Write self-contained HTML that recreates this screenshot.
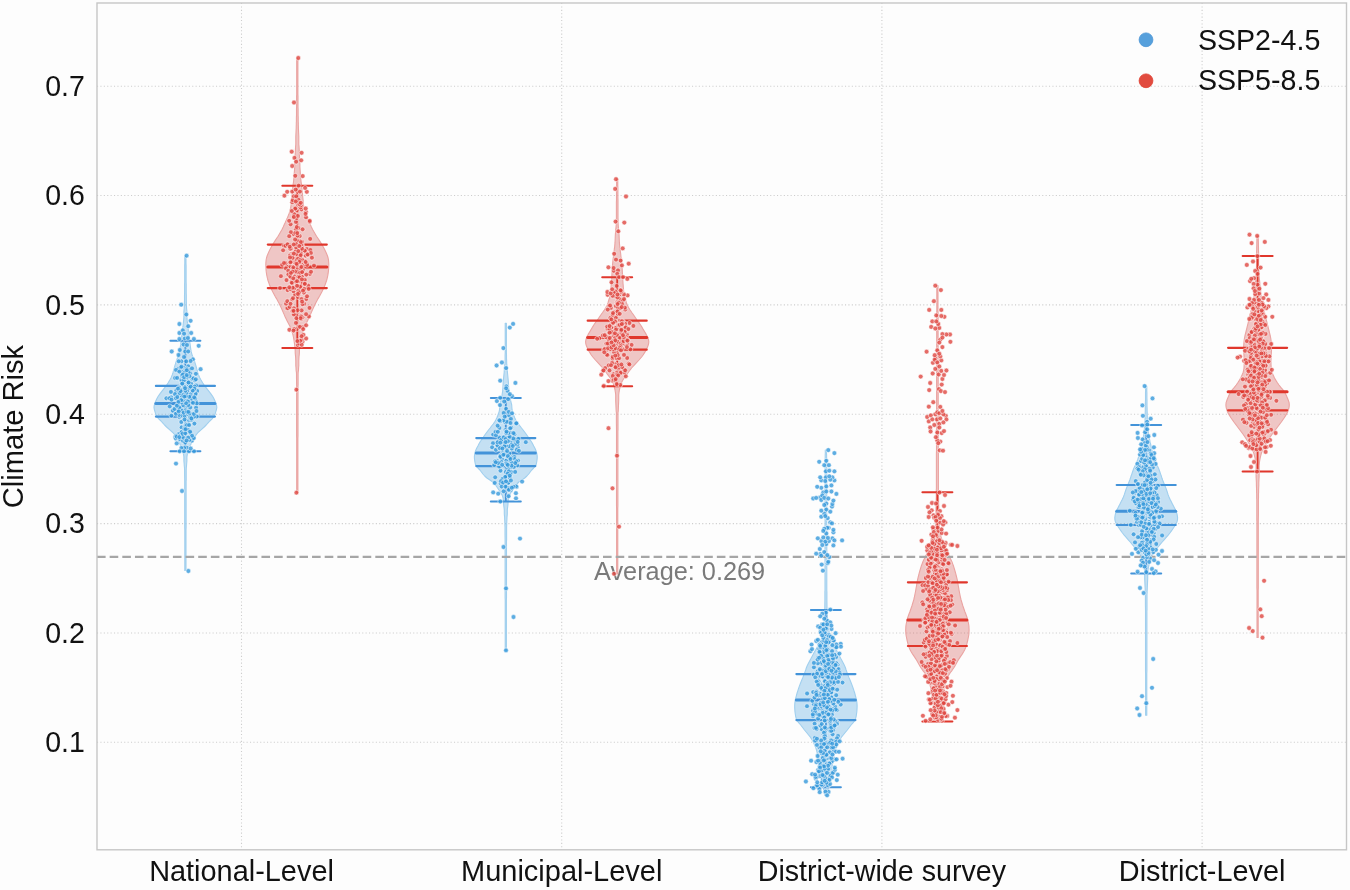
<!DOCTYPE html>
<html><head><meta charset="utf-8"><style>
html,body{margin:0;padding:0;background:#fdfdfd;width:1350px;height:890px;overflow:hidden}
svg{display:block;filter:blur(0.45px)}
</style></head><body>
<svg width="1350" height="890" viewBox="0 0 1350 890"><rect x="0" y="0" width="1350" height="890" fill="#fdfdfd"/><g stroke="#cdcdcd" stroke-width="1.1" stroke-dasharray="1.1 2.3" fill="none"><line x1="97" y1="86.2" x2="1346.5" y2="86.2"/><line x1="97" y1="195.55" x2="1346.5" y2="195.55"/><line x1="97" y1="304.9" x2="1346.5" y2="304.9"/><line x1="97" y1="414.25" x2="1346.5" y2="414.25"/><line x1="97" y1="523.6" x2="1346.5" y2="523.6"/><line x1="97" y1="632.95" x2="1346.5" y2="632.95"/><line x1="97" y1="742.3" x2="1346.5" y2="742.3"/><line x1="241.5" y1="3" x2="241.5" y2="849.8"/><line x1="561.7" y1="3" x2="561.7" y2="849.8"/><line x1="881.9" y1="3" x2="881.9" y2="849.8"/><line x1="1202.1" y1="3" x2="1202.1" y2="849.8"/></g><text x="594" y="580" font-family="Liberation Sans, sans-serif" font-size="25.3" fill="#7a7a7a">Average: 0.269</text><path d="M186.0,256.0 L186.0,257.1 L186.0,258.5 L186.0,260.0 L186.0,261.7 L186.0,263.6 L186.1,265.6 L186.1,267.7 L186.1,270.0 L186.1,272.3 L186.1,274.7 L186.1,277.1 L186.1,279.5 L186.1,281.9 L186.2,284.3 L186.2,286.6 L186.2,288.9 L186.2,291.1 L186.2,293.2 L186.3,295.1 L186.3,296.9 L186.3,298.6 L186.3,300.0 L186.4,303.7 L186.5,306.5 L186.6,308.6 L186.8,310.2 L186.9,311.7 L186.9,313.2 L186.9,315.0 L186.9,317.3 L187.1,319.5 L187.3,321.6 L187.6,323.8 L187.8,325.9 L188.1,328.0 L188.3,330.1 L188.6,332.3 L188.8,334.4 L189.1,336.5 L189.3,338.6 L189.6,340.7 L189.9,342.8 L190.2,345.0 L190.5,347.2 L190.8,349.3 L191.1,351.2 L191.5,353.0 L192.4,355.8 L193.4,358.2 L194.4,360.7 L195.1,363.1 L195.9,365.7 L196.6,368.2 L197.2,370.3 L197.9,372.9 L198.6,375.0 L199.6,377.4 L201.0,380.0 L202.6,382.7 L204.4,385.5 L206.6,388.3 L208.8,391.2 L210.9,393.9 L212.9,396.8 L214.1,399.0 L215.1,401.3 L215.9,403.3 L216.6,405.5 L216.8,407.4 L216.5,409.3 L215.9,411.4 L215.1,414.0 L213.9,416.7 L212.1,418.8 L209.8,421.0 L208.1,422.9 L206.2,425.0 L204.2,427.0 L201.0,429.8 L198.0,432.5 L195.9,435.2 L194.1,438.0 L193.0,440.0 L192.0,442.0 L191.0,444.0 L189.6,446.7 L188.5,449.3 L187.7,452.2 L187.2,455.0 L186.9,456.9 L186.9,459.0 L186.9,460.9 L186.7,463.0 L186.5,466.0 L186.4,467.0 L186.4,467.3 L186.3,467.5 L186.3,468.3 L186.2,470.2 L186.2,473.9 L186.2,480.0 L186.1,481.2 L186.1,482.6 L186.1,484.0 L186.1,485.5 L186.1,487.2 L186.1,488.9 L186.1,490.8 L186.1,492.7 L186.1,494.7 L186.1,496.7 L186.1,498.8 L186.1,501.0 L186.1,503.2 L186.1,505.5 L186.1,507.9 L186.1,510.2 L186.1,512.6 L186.1,515.0 L186.1,517.5 L186.1,519.9 L186.1,522.4 L186.1,524.9 L186.1,527.4 L186.0,529.8 L186.0,532.3 L186.0,534.7 L186.0,537.1 L186.0,539.5 L186.0,541.9 L186.0,544.2 L186.0,546.5 L186.0,548.7 L186.0,550.9 L186.0,553.0 L186.0,555.0 L186.0,557.0 L186.0,558.9 L186.0,560.7 L186.0,562.4 L186.0,564.0 L186.0,565.5 L186.0,566.9 L186.0,568.2 L186.0,569.4 L186.0,570.5 L184.8,570.5 L184.8,569.4 L184.8,568.2 L184.8,566.9 L184.8,565.5 L184.8,564.0 L184.8,562.4 L184.8,560.7 L184.8,558.9 L184.8,557.0 L184.8,555.0 L184.8,553.0 L184.8,550.9 L184.8,548.7 L184.8,546.5 L184.8,544.2 L184.8,541.9 L184.8,539.5 L184.8,537.1 L184.8,534.7 L184.8,532.3 L184.8,529.8 L184.7,527.4 L184.7,524.9 L184.7,522.4 L184.7,519.9 L184.7,517.5 L184.7,515.0 L184.7,512.6 L184.7,510.2 L184.7,507.9 L184.7,505.5 L184.7,503.2 L184.7,501.0 L184.7,498.8 L184.7,496.7 L184.7,494.7 L184.7,492.7 L184.7,490.8 L184.7,488.9 L184.7,487.2 L184.7,485.5 L184.7,484.0 L184.7,482.6 L184.7,481.2 L184.7,480.0 L184.6,473.9 L184.6,470.2 L184.5,468.3 L184.5,467.5 L184.4,467.3 L184.4,467.0 L184.3,466.0 L184.1,463.0 L183.9,460.9 L183.9,459.0 L183.9,456.9 L183.6,455.0 L183.1,452.2 L182.3,449.3 L181.2,446.7 L179.8,444.0 L178.8,442.0 L177.8,440.0 L176.7,438.0 L174.9,435.2 L172.8,432.5 L169.8,429.8 L166.6,427.0 L164.6,425.0 L162.7,422.9 L161.0,421.0 L158.7,418.8 L156.9,416.7 L155.7,414.0 L154.9,411.4 L154.3,409.3 L154.0,407.4 L154.2,405.5 L154.9,403.3 L155.7,401.3 L156.7,399.0 L157.9,396.8 L159.9,393.9 L162.0,391.2 L164.2,388.3 L166.4,385.5 L168.2,382.7 L169.8,380.0 L171.2,377.4 L172.2,375.0 L172.9,372.9 L173.6,370.3 L174.2,368.2 L174.9,365.7 L175.7,363.1 L176.4,360.7 L177.4,358.2 L178.4,355.8 L179.3,353.0 L179.7,351.2 L180.0,349.3 L180.3,347.2 L180.6,345.0 L180.9,342.8 L181.2,340.7 L181.5,338.6 L181.7,336.5 L182.0,334.4 L182.2,332.3 L182.5,330.1 L182.7,328.0 L183.0,325.9 L183.2,323.8 L183.5,321.6 L183.7,319.5 L183.9,317.3 L183.9,315.0 L183.9,313.2 L183.9,311.7 L184.0,310.2 L184.2,308.6 L184.3,306.5 L184.4,303.7 L184.5,300.0 L184.5,298.6 L184.5,296.9 L184.5,295.1 L184.6,293.2 L184.6,291.1 L184.6,288.9 L184.6,286.6 L184.6,284.3 L184.7,281.9 L184.7,279.5 L184.7,277.1 L184.7,274.7 L184.7,272.3 L184.7,270.0 L184.7,267.7 L184.7,265.6 L184.8,263.6 L184.8,261.7 L184.8,260.0 L184.8,258.5 L184.8,257.1 L184.8,256.0 Z" fill="#3498db" fill-opacity="0.28" stroke="#a0cfee" stroke-width="1.1" stroke-linejoin="round"/><path d="M297.9,58.0 L297.9,59.1 L297.9,60.4 L297.9,61.9 L297.9,63.6 L297.9,65.4 L297.9,67.3 L297.9,69.3 L297.9,71.5 L297.9,73.7 L297.9,76.0 L297.9,78.3 L297.9,80.6 L297.9,83.0 L297.9,85.3 L297.9,87.7 L297.9,89.9 L297.9,92.1 L297.9,94.3 L298.0,96.3 L298.0,98.2 L298.0,100.0 L298.0,102.4 L298.0,104.7 L298.0,106.9 L298.1,109.1 L298.1,111.3 L298.1,113.3 L298.1,115.4 L298.2,117.4 L298.2,119.3 L298.2,121.2 L298.3,123.0 L298.3,124.8 L298.4,126.6 L298.4,128.3 L298.5,130.0 L298.6,132.4 L298.7,134.6 L298.8,136.7 L298.8,138.7 L298.8,140.6 L298.8,142.5 L298.8,144.3 L299.0,146.2 L299.1,148.0 L299.2,150.0 L299.3,152.0 L299.4,154.2 L299.5,156.3 L299.6,158.5 L299.7,160.6 L299.8,162.7 L299.9,164.7 L299.9,166.6 L300.0,168.4 L300.1,170.0 L300.3,172.6 L300.4,174.7 L300.6,176.5 L300.7,178.2 L300.9,180.0 L301.1,182.0 L301.4,184.0 L301.6,186.0 L301.9,188.0 L302.1,190.0 L302.3,192.0 L302.5,194.1 L302.7,196.2 L302.9,198.2 L303.1,200.0 L303.3,202.6 L303.5,204.8 L303.8,207.0 L304.3,209.2 L304.8,211.4 L305.5,213.5 L306.3,215.6 L307.2,217.8 L308.2,220.0 L309.2,222.3 L310.3,224.6 L311.4,227.0 L312.6,229.4 L313.9,231.7 L315.2,234.0 L316.5,236.2 L317.9,238.3 L319.3,240.4 L320.7,242.6 L322.0,244.8 L323.3,247.0 L324.5,249.3 L325.7,251.7 L326.7,254.0 L327.5,256.0 L328.1,258.0 L328.5,260.0 L328.7,262.2 L328.8,264.5 L328.7,267.0 L328.6,269.1 L328.4,271.4 L328.1,273.7 L327.7,276.0 L327.2,278.2 L326.6,280.5 L325.8,282.8 L325.0,285.0 L324.1,287.2 L323.0,289.5 L321.9,291.8 L320.7,294.0 L319.5,296.3 L318.1,298.6 L316.8,300.9 L315.7,303.0 L314.5,305.4 L313.5,307.6 L312.4,310.0 L311.5,312.1 L310.5,314.4 L309.5,316.7 L308.4,319.0 L307.3,321.2 L306.1,323.5 L304.9,325.8 L303.9,328.0 L303.1,330.2 L302.4,332.4 L301.7,334.7 L301.2,337.0 L300.8,339.0 L300.5,341.0 L300.2,343.1 L299.9,345.1 L299.7,347.0 L299.5,349.0 L299.4,350.7 L299.4,352.6 L299.2,355.0 L299.0,356.8 L298.9,358.8 L298.8,360.9 L298.8,363.2 L298.8,365.5 L298.6,367.8 L298.5,370.0 L298.4,371.3 L298.3,371.6 L298.2,371.6 L298.2,372.1 L298.1,374.0 L298.1,378.0 L298.1,385.0 L298.0,386.2 L298.0,387.5 L298.0,388.9 L298.0,390.4 L298.0,392.0 L298.0,393.7 L298.0,395.4 L298.0,397.3 L298.0,399.2 L298.0,401.1 L298.0,403.1 L298.0,405.2 L298.0,407.4 L298.0,409.6 L298.0,411.8 L298.0,414.1 L298.0,416.4 L298.0,418.8 L298.0,421.2 L298.0,423.6 L298.0,426.1 L298.0,428.6 L298.0,431.0 L298.0,433.5 L298.0,436.0 L297.9,438.5 L297.9,441.0 L297.9,443.5 L297.9,446.0 L297.9,448.5 L297.9,451.0 L297.9,453.4 L297.9,455.8 L297.9,458.2 L297.9,460.6 L297.9,462.9 L297.9,465.2 L297.9,467.4 L297.9,469.6 L297.9,471.7 L297.9,473.8 L297.9,475.8 L297.9,477.7 L297.9,479.6 L297.9,481.4 L297.9,483.1 L297.9,484.8 L297.9,486.3 L297.9,487.8 L297.9,489.2 L297.9,490.5 L297.9,491.6 L297.9,492.7 L296.7,492.7 L296.7,491.6 L296.7,490.5 L296.7,489.2 L296.7,487.8 L296.7,486.3 L296.7,484.8 L296.7,483.1 L296.7,481.4 L296.7,479.6 L296.7,477.7 L296.7,475.8 L296.7,473.8 L296.7,471.7 L296.7,469.6 L296.7,467.4 L296.7,465.2 L296.7,462.9 L296.7,460.6 L296.7,458.2 L296.7,455.8 L296.7,453.4 L296.7,451.0 L296.7,448.5 L296.7,446.0 L296.7,443.5 L296.7,441.0 L296.7,438.5 L296.6,436.0 L296.6,433.5 L296.6,431.0 L296.6,428.6 L296.6,426.1 L296.6,423.6 L296.6,421.2 L296.6,418.8 L296.6,416.4 L296.6,414.1 L296.6,411.8 L296.6,409.6 L296.6,407.4 L296.6,405.2 L296.6,403.1 L296.6,401.1 L296.6,399.2 L296.6,397.3 L296.6,395.4 L296.6,393.7 L296.6,392.0 L296.6,390.4 L296.6,388.9 L296.6,387.5 L296.6,386.2 L296.6,385.0 L296.5,378.0 L296.5,374.0 L296.4,372.1 L296.4,371.6 L296.3,371.6 L296.2,371.3 L296.1,370.0 L296.0,367.8 L295.8,365.5 L295.8,363.2 L295.8,360.9 L295.7,358.8 L295.6,356.8 L295.4,355.0 L295.2,352.6 L295.2,350.7 L295.1,349.0 L294.9,347.0 L294.7,345.1 L294.4,343.1 L294.1,341.0 L293.8,339.0 L293.4,337.0 L292.9,334.7 L292.2,332.4 L291.5,330.2 L290.7,328.0 L289.7,325.8 L288.5,323.5 L287.3,321.2 L286.2,319.0 L285.1,316.7 L284.1,314.4 L283.1,312.1 L282.2,310.0 L281.1,307.6 L280.1,305.4 L278.9,303.0 L277.8,300.9 L276.5,298.6 L275.1,296.3 L273.9,294.0 L272.7,291.8 L271.6,289.5 L270.5,287.2 L269.6,285.0 L268.8,282.8 L268.0,280.5 L267.4,278.2 L266.9,276.0 L266.5,273.7 L266.2,271.4 L266.0,269.1 L265.9,267.0 L265.8,264.5 L265.9,262.2 L266.1,260.0 L266.5,258.0 L267.1,256.0 L267.9,254.0 L268.9,251.7 L270.1,249.3 L271.3,247.0 L272.6,244.8 L273.9,242.6 L275.3,240.4 L276.7,238.3 L278.1,236.2 L279.4,234.0 L280.7,231.7 L282.0,229.4 L283.2,227.0 L284.3,224.6 L285.4,222.3 L286.4,220.0 L287.4,217.8 L288.3,215.6 L289.1,213.5 L289.8,211.4 L290.3,209.2 L290.8,207.0 L291.1,204.8 L291.3,202.6 L291.5,200.0 L291.7,198.2 L291.9,196.2 L292.1,194.1 L292.3,192.0 L292.5,190.0 L292.7,188.0 L293.0,186.0 L293.2,184.0 L293.5,182.0 L293.7,180.0 L293.9,178.2 L294.0,176.5 L294.2,174.7 L294.3,172.6 L294.5,170.0 L294.6,168.4 L294.7,166.6 L294.7,164.7 L294.8,162.7 L294.9,160.6 L295.0,158.5 L295.1,156.3 L295.2,154.2 L295.3,152.0 L295.4,150.0 L295.5,148.0 L295.6,146.2 L295.8,144.3 L295.8,142.5 L295.8,140.6 L295.8,138.7 L295.8,136.7 L295.9,134.6 L296.0,132.4 L296.1,130.0 L296.2,128.3 L296.2,126.6 L296.3,124.8 L296.3,123.0 L296.4,121.2 L296.4,119.3 L296.4,117.4 L296.5,115.4 L296.5,113.3 L296.5,111.3 L296.5,109.1 L296.6,106.9 L296.6,104.7 L296.6,102.4 L296.6,100.0 L296.6,98.2 L296.6,96.3 L296.7,94.3 L296.7,92.1 L296.7,89.9 L296.7,87.7 L296.7,85.3 L296.7,83.0 L296.7,80.6 L296.7,78.3 L296.7,76.0 L296.7,73.7 L296.7,71.5 L296.7,69.3 L296.7,67.3 L296.7,65.4 L296.7,63.6 L296.7,61.9 L296.7,60.4 L296.7,59.1 L296.7,58.0 Z" fill="#ce3835" fill-opacity="0.28" stroke="#eaa4a2" stroke-width="1.1" stroke-linejoin="round"/><path d="M506.4,323.2 L506.4,324.4 L506.4,325.8 L506.4,327.5 L506.4,329.4 L506.4,331.5 L506.4,333.7 L506.4,336.1 L506.4,338.5 L506.4,341.0 L506.4,343.5 L506.4,345.9 L506.4,348.4 L506.4,350.7 L506.4,352.9 L506.5,355.0 L506.5,356.9 L506.5,358.6 L506.6,360.0 L506.7,363.7 L507.0,365.9 L507.3,367.3 L507.3,368.4 L507.3,370.0 L507.4,372.0 L507.6,374.0 L507.8,376.0 L508.0,378.0 L508.2,380.0 L508.4,382.0 L508.5,384.1 L508.6,386.1 L508.7,388.1 L508.9,390.0 L509.1,392.2 L509.4,394.2 L509.7,396.1 L510.0,398.0 L510.6,400.5 L511.2,402.9 L511.7,405.0 L511.9,407.7 L512.1,410.0 L512.6,412.1 L513.3,414.0 L514.0,416.0 L514.8,418.0 L515.8,420.0 L517.0,422.0 L518.4,424.0 L520.0,426.0 L521.5,428.0 L523.1,430.0 L524.6,432.0 L526.1,434.0 L527.5,436.0 L528.8,438.0 L530.2,440.0 L531.6,442.0 L532.7,444.0 L533.7,446.0 L534.8,448.0 L535.7,450.0 L536.4,452.0 L536.9,454.0 L537.2,456.0 L537.2,458.0 L537.0,460.0 L536.7,462.0 L536.3,464.0 L535.5,466.0 L533.7,468.0 L531.7,470.0 L530.2,472.0 L528.7,474.0 L526.9,476.0 L524.7,478.0 L521.7,480.0 L518.8,482.0 L516.9,484.0 L515.4,486.0 L514.0,488.0 L512.7,490.0 L511.3,492.0 L510.1,494.0 L509.2,495.8 L508.5,498.0 L508.3,499.8 L508.1,501.9 L508.0,504.0 L507.8,506.0 L507.5,508.1 L507.3,509.9 L507.3,512.0 L507.3,513.6 L507.2,515.1 L507.0,517.1 L506.9,520.0 L506.8,521.1 L506.8,521.8 L506.8,522.3 L506.7,522.8 L506.7,523.6 L506.7,524.9 L506.6,527.0 L506.6,530.0 L506.6,534.3 L506.6,540.0 L506.5,541.2 L506.5,542.6 L506.5,544.0 L506.5,545.5 L506.5,547.1 L506.5,548.7 L506.5,550.4 L506.5,552.3 L506.5,554.1 L506.5,556.1 L506.5,558.1 L506.5,560.1 L506.5,562.2 L506.5,564.4 L506.5,566.6 L506.5,568.8 L506.5,571.1 L506.5,573.4 L506.5,575.8 L506.5,578.1 L506.5,580.5 L506.5,583.0 L506.5,585.4 L506.5,587.8 L506.5,590.3 L506.5,592.8 L506.5,595.2 L506.5,597.7 L506.4,600.1 L506.4,602.6 L506.4,605.0 L506.4,607.4 L506.4,609.8 L506.4,612.2 L506.4,614.6 L506.4,616.9 L506.4,619.2 L506.4,621.4 L506.4,623.6 L506.4,625.8 L506.4,627.9 L506.4,630.0 L506.4,632.0 L506.4,633.9 L506.4,635.8 L506.4,637.6 L506.4,639.4 L506.4,641.1 L506.4,642.7 L506.4,644.2 L506.4,645.6 L506.4,646.9 L506.4,648.2 L506.4,649.3 L506.4,650.4 L505.2,650.4 L505.2,649.3 L505.2,648.2 L505.2,646.9 L505.2,645.6 L505.2,644.2 L505.2,642.7 L505.2,641.1 L505.2,639.4 L505.2,637.6 L505.2,635.8 L505.2,633.9 L505.2,632.0 L505.2,630.0 L505.2,627.9 L505.2,625.8 L505.2,623.6 L505.2,621.4 L505.2,619.2 L505.2,616.9 L505.2,614.6 L505.2,612.2 L505.2,609.8 L505.2,607.4 L505.2,605.0 L505.2,602.6 L505.2,600.1 L505.1,597.7 L505.1,595.2 L505.1,592.8 L505.1,590.3 L505.1,587.8 L505.1,585.4 L505.1,583.0 L505.1,580.5 L505.1,578.1 L505.1,575.8 L505.1,573.4 L505.1,571.1 L505.1,568.8 L505.1,566.6 L505.1,564.4 L505.1,562.2 L505.1,560.1 L505.1,558.1 L505.1,556.1 L505.1,554.1 L505.1,552.3 L505.1,550.4 L505.1,548.7 L505.1,547.1 L505.1,545.5 L505.1,544.0 L505.1,542.6 L505.1,541.2 L505.1,540.0 L505.0,534.3 L505.0,530.0 L505.0,527.0 L504.9,524.9 L504.9,523.6 L504.9,522.8 L504.8,522.3 L504.8,521.8 L504.8,521.1 L504.7,520.0 L504.6,517.1 L504.4,515.1 L504.3,513.6 L504.3,512.0 L504.3,509.9 L504.1,508.1 L503.8,506.0 L503.6,504.0 L503.5,501.9 L503.3,499.8 L503.1,498.0 L502.4,495.8 L501.5,494.0 L500.3,492.0 L498.9,490.0 L497.6,488.0 L496.2,486.0 L494.7,484.0 L492.8,482.0 L489.9,480.0 L486.9,478.0 L484.7,476.0 L482.9,474.0 L481.4,472.0 L479.9,470.0 L477.9,468.0 L476.1,466.0 L475.3,464.0 L474.9,462.0 L474.6,460.0 L474.4,458.0 L474.4,456.0 L474.7,454.0 L475.2,452.0 L475.9,450.0 L476.8,448.0 L477.9,446.0 L478.9,444.0 L480.0,442.0 L481.4,440.0 L482.8,438.0 L484.1,436.0 L485.5,434.0 L487.0,432.0 L488.5,430.0 L490.1,428.0 L491.6,426.0 L493.2,424.0 L494.6,422.0 L495.8,420.0 L496.8,418.0 L497.6,416.0 L498.3,414.0 L499.0,412.1 L499.5,410.0 L499.7,407.7 L499.9,405.0 L500.4,402.9 L501.0,400.5 L501.6,398.0 L501.9,396.1 L502.2,394.2 L502.5,392.2 L502.7,390.0 L502.9,388.1 L503.0,386.1 L503.1,384.1 L503.2,382.0 L503.4,380.0 L503.6,378.0 L503.8,376.0 L504.0,374.0 L504.2,372.0 L504.3,370.0 L504.3,368.4 L504.3,367.3 L504.6,365.9 L504.9,363.7 L505.1,360.0 L505.1,358.6 L505.1,356.9 L505.1,355.0 L505.2,352.9 L505.2,350.7 L505.2,348.4 L505.2,345.9 L505.2,343.5 L505.2,341.0 L505.2,338.5 L505.2,336.1 L505.2,333.7 L505.2,331.5 L505.2,329.4 L505.2,327.5 L505.2,325.8 L505.2,324.4 L505.2,323.2 Z" fill="#3498db" fill-opacity="0.28" stroke="#a0cfee" stroke-width="1.1" stroke-linejoin="round"/><path d="M617.8,178.8 L617.8,180.0 L617.8,181.6 L617.8,183.5 L617.8,185.6 L617.9,187.8 L617.9,190.2 L617.9,192.7 L617.9,195.2 L617.9,197.6 L618.0,200.0 L618.0,202.0 L618.0,204.2 L618.0,206.4 L618.0,208.7 L618.0,211.1 L618.0,213.4 L618.0,215.7 L618.0,217.9 L618.1,219.9 L618.1,221.8 L618.1,223.5 L618.2,225.0 L618.5,228.4 L618.7,229.9 L618.8,232.0 L619.0,233.9 L619.1,236.0 L619.2,238.3 L619.3,240.7 L619.4,242.9 L619.6,245.0 L619.8,247.2 L620.1,249.2 L620.3,251.1 L620.6,253.0 L620.8,255.0 L621.0,257.0 L621.3,258.9 L621.5,260.9 L621.7,262.9 L621.9,265.0 L622.0,266.9 L622.2,268.9 L622.3,271.0 L622.4,273.1 L622.5,275.1 L622.6,277.0 L622.7,279.2 L622.9,281.2 L623.0,283.2 L623.2,285.2 L623.3,287.0 L623.5,289.2 L623.7,291.3 L623.8,293.3 L624.1,295.0 L624.8,297.7 L625.6,300.0 L626.3,302.5 L627.2,305.0 L628.5,307.5 L630.1,310.0 L631.8,312.5 L633.6,315.0 L635.3,317.5 L637.0,320.0 L638.8,322.4 L640.6,325.0 L641.9,327.1 L643.2,329.4 L644.5,331.5 L646.2,334.4 L647.6,337.0 L648.5,339.4 L648.8,341.7 L648.6,343.8 L647.9,346.0 L646.9,348.4 L645.6,351.0 L644.4,352.9 L643.1,355.0 L641.6,357.0 L639.0,360.0 L636.3,362.9 L633.8,365.6 L631.6,368.0 L630.2,369.8 L628.6,372.0 L627.3,373.8 L625.7,375.9 L624.2,378.0 L622.9,380.0 L621.8,382.0 L621.1,383.9 L620.4,386.0 L619.9,387.9 L619.4,389.9 L619.0,392.3 L618.7,395.0 L618.7,396.8 L618.7,398.7 L618.7,400.7 L618.6,402.9 L618.5,405.2 L618.4,407.5 L618.3,410.0 L618.2,411.2 L618.2,411.7 L618.1,411.7 L618.1,411.7 L618.1,411.9 L618.0,412.8 L618.0,414.7 L618.0,418.0 L618.0,423.0 L618.0,430.0 L617.9,431.2 L617.9,432.4 L617.9,433.7 L617.9,435.1 L617.9,436.6 L617.9,438.1 L617.9,439.7 L617.9,441.3 L617.9,443.1 L617.9,444.8 L617.9,446.6 L617.9,448.5 L617.9,450.4 L617.9,452.4 L617.9,454.4 L617.9,456.4 L617.9,458.5 L617.9,460.7 L617.9,462.8 L617.9,465.0 L617.9,467.3 L617.9,469.5 L617.9,471.8 L617.9,474.1 L617.9,476.5 L617.9,478.9 L617.9,481.2 L617.9,483.6 L617.9,486.1 L617.9,488.5 L617.9,490.9 L617.9,493.4 L617.9,495.9 L617.9,498.3 L617.9,500.8 L617.9,503.2 L617.9,505.7 L617.8,508.2 L617.8,510.6 L617.8,513.1 L617.8,515.5 L617.8,517.9 L617.8,520.3 L617.8,522.7 L617.8,525.1 L617.8,527.4 L617.8,529.8 L617.8,532.1 L617.8,534.3 L617.8,536.6 L617.8,538.8 L617.8,541.0 L617.8,543.1 L617.8,545.2 L617.8,547.3 L617.8,549.3 L617.8,551.3 L617.8,553.2 L617.8,555.1 L617.8,556.9 L617.8,558.7 L617.8,560.4 L617.8,562.0 L617.8,563.6 L617.8,565.2 L617.8,566.6 L617.8,568.1 L617.8,569.4 L617.8,570.7 L617.8,571.8 L617.8,573.0 L617.8,574.0 L616.6,574.0 L616.6,573.0 L616.6,571.8 L616.6,570.7 L616.6,569.4 L616.6,568.1 L616.6,566.6 L616.6,565.2 L616.6,563.6 L616.6,562.0 L616.6,560.4 L616.6,558.7 L616.6,556.9 L616.6,555.1 L616.6,553.2 L616.6,551.3 L616.6,549.3 L616.6,547.3 L616.6,545.2 L616.6,543.1 L616.6,541.0 L616.6,538.8 L616.6,536.6 L616.6,534.3 L616.6,532.1 L616.6,529.8 L616.6,527.4 L616.6,525.1 L616.6,522.7 L616.6,520.3 L616.6,517.9 L616.6,515.5 L616.6,513.1 L616.6,510.6 L616.6,508.2 L616.5,505.7 L616.5,503.2 L616.5,500.8 L616.5,498.3 L616.5,495.9 L616.5,493.4 L616.5,490.9 L616.5,488.5 L616.5,486.1 L616.5,483.6 L616.5,481.2 L616.5,478.9 L616.5,476.5 L616.5,474.1 L616.5,471.8 L616.5,469.5 L616.5,467.3 L616.5,465.0 L616.5,462.8 L616.5,460.7 L616.5,458.5 L616.5,456.4 L616.5,454.4 L616.5,452.4 L616.5,450.4 L616.5,448.5 L616.5,446.6 L616.5,444.8 L616.5,443.1 L616.5,441.3 L616.5,439.7 L616.5,438.1 L616.5,436.6 L616.5,435.1 L616.5,433.7 L616.5,432.4 L616.5,431.2 L616.5,430.0 L616.4,423.0 L616.4,418.0 L616.4,414.7 L616.4,412.8 L616.3,411.9 L616.3,411.7 L616.3,411.7 L616.2,411.7 L616.2,411.2 L616.1,410.0 L616.0,407.5 L615.9,405.2 L615.8,402.9 L615.7,400.7 L615.7,398.7 L615.7,396.8 L615.7,395.0 L615.4,392.3 L615.0,389.9 L614.5,387.9 L614.0,386.0 L613.3,383.9 L612.6,382.0 L611.5,380.0 L610.2,378.0 L608.7,375.9 L607.1,373.8 L605.8,372.0 L604.2,369.8 L602.8,368.0 L600.6,365.6 L598.1,362.9 L595.4,360.0 L592.8,357.0 L591.3,355.0 L590.0,352.9 L588.8,351.0 L587.5,348.4 L586.5,346.0 L585.8,343.8 L585.6,341.7 L586.0,339.4 L586.8,337.0 L588.2,334.4 L589.9,331.5 L591.2,329.4 L592.5,327.1 L593.8,325.0 L595.6,322.4 L597.4,320.0 L599.1,317.5 L600.8,315.0 L602.6,312.5 L604.3,310.0 L605.9,307.5 L607.2,305.0 L608.1,302.5 L608.8,300.0 L609.6,297.7 L610.3,295.0 L610.6,293.3 L610.8,291.3 L610.9,289.2 L611.1,287.0 L611.2,285.2 L611.4,283.2 L611.5,281.2 L611.7,279.2 L611.8,277.0 L611.9,275.1 L612.0,273.1 L612.1,271.0 L612.2,268.9 L612.4,266.9 L612.5,265.0 L612.7,262.9 L612.9,260.9 L613.1,258.9 L613.4,257.0 L613.6,255.0 L613.8,253.0 L614.1,251.1 L614.3,249.2 L614.6,247.2 L614.8,245.0 L615.0,242.9 L615.1,240.7 L615.2,238.3 L615.3,236.0 L615.4,233.9 L615.6,232.0 L615.7,229.9 L615.9,228.4 L616.2,225.0 L616.3,223.5 L616.3,221.8 L616.3,219.9 L616.4,217.9 L616.4,215.7 L616.4,213.4 L616.4,211.1 L616.4,208.7 L616.4,206.4 L616.4,204.2 L616.4,202.0 L616.5,200.0 L616.5,197.6 L616.5,195.2 L616.5,192.7 L616.5,190.2 L616.5,187.8 L616.6,185.6 L616.6,183.5 L616.6,181.6 L616.6,180.0 L616.6,178.8 Z" fill="#ce3835" fill-opacity="0.28" stroke="#eaa4a2" stroke-width="1.1" stroke-linejoin="round"/><path d="M826.5,450.1 L826.5,451.1 L826.5,452.0 L826.5,452.9 L826.5,453.8 L826.6,454.9 L826.6,456.1 L826.6,457.6 L826.6,459.3 L826.6,461.4 L826.6,464.0 L826.7,467.1 L826.7,470.7 L826.7,475.0 L826.7,480.0 L826.7,481.3 L826.7,482.7 L826.7,484.1 L826.7,485.6 L826.7,487.2 L826.7,488.8 L826.7,490.5 L826.7,492.3 L826.7,494.1 L826.7,496.0 L826.7,497.9 L826.7,499.9 L826.7,501.9 L826.7,504.0 L826.7,506.1 L826.7,508.3 L826.7,510.5 L826.7,512.7 L826.7,514.9 L826.7,517.2 L826.7,519.5 L826.7,521.8 L826.7,524.2 L826.8,526.6 L826.8,528.9 L826.8,531.3 L826.8,533.7 L826.8,536.1 L826.8,538.5 L826.8,540.9 L826.8,543.3 L826.8,545.7 L826.8,548.1 L826.8,550.5 L826.8,552.9 L826.8,555.2 L826.8,557.6 L826.8,559.9 L826.8,562.2 L826.8,564.4 L826.8,566.7 L826.8,568.9 L826.8,571.0 L826.8,573.2 L826.8,575.3 L826.8,577.3 L826.8,579.3 L826.8,581.3 L826.8,583.2 L826.8,585.0 L826.8,586.8 L826.8,588.6 L826.8,590.2 L826.9,591.8 L826.9,593.4 L826.9,594.9 L826.9,596.3 L826.9,597.6 L826.9,598.8 L826.9,600.0 L827.0,607.7 L827.1,611.9 L827.2,613.8 L827.3,614.1 L827.4,613.8 L827.4,613.8 L827.4,615.0 L827.4,617.2 L827.5,619.4 L827.7,621.7 L828.0,623.9 L828.3,626.1 L828.5,628.1 L828.8,630.0 L829.2,632.4 L829.6,634.6 L829.9,636.6 L830.4,638.4 L830.8,640.0 L832.0,642.8 L833.3,645.0 L834.7,647.4 L836.3,650.0 L837.4,652.1 L838.7,654.4 L840.0,657.0 L841.1,659.1 L842.4,661.4 L843.6,663.8 L844.7,666.0 L845.5,668.0 L846.1,669.9 L846.8,671.9 L847.5,674.0 L848.3,675.9 L849.1,677.9 L850.0,680.0 L850.8,682.0 L851.6,684.0 L852.5,686.4 L853.3,688.7 L854.0,690.9 L854.7,693.0 L855.4,695.6 L856.0,697.9 L856.5,700.0 L856.9,702.5 L857.1,705.0 L857.1,707.1 L857.0,709.5 L856.8,712.0 L856.5,714.0 L856.2,716.1 L855.7,718.2 L855.1,720.0 L853.2,722.7 L851.1,725.0 L849.2,727.5 L847.3,730.0 L845.2,732.5 L843.2,735.0 L841.4,737.2 L839.6,740.0 L838.7,741.7 L837.8,743.6 L836.9,745.8 L836.0,747.9 L835.3,750.0 L834.8,752.0 L834.3,754.0 L834.0,756.0 L833.7,758.0 L833.3,760.0 L832.9,762.0 L832.5,764.0 L832.1,766.0 L831.7,768.0 L831.3,770.0 L831.0,772.0 L830.6,774.1 L830.3,776.2 L830.1,778.2 L829.8,780.0 L829.5,782.5 L829.2,784.7 L828.8,787.0 L828.2,789.2 L827.5,791.6 L827.4,793.8 L826.9,795.3 L824.9,795.3 L824.4,793.8 L824.3,791.6 L823.6,789.2 L823.0,787.0 L822.6,784.7 L822.3,782.5 L822.0,780.0 L821.7,778.2 L821.5,776.2 L821.2,774.1 L820.8,772.0 L820.5,770.0 L820.1,768.0 L819.7,766.0 L819.3,764.0 L818.9,762.0 L818.5,760.0 L818.1,758.0 L817.8,756.0 L817.5,754.0 L817.0,752.0 L816.5,750.0 L815.8,747.9 L814.9,745.8 L814.0,743.6 L813.1,741.7 L812.2,740.0 L810.4,737.2 L808.6,735.0 L806.6,732.5 L804.5,730.0 L802.6,727.5 L800.7,725.0 L798.6,722.7 L796.7,720.0 L796.1,718.2 L795.6,716.1 L795.3,714.0 L795.0,712.0 L794.8,709.5 L794.7,707.1 L794.7,705.0 L794.9,702.5 L795.3,700.0 L795.8,697.9 L796.4,695.6 L797.1,693.0 L797.8,690.9 L798.5,688.7 L799.3,686.4 L800.2,684.0 L801.0,682.0 L801.8,680.0 L802.7,677.9 L803.5,675.9 L804.3,674.0 L805.0,671.9 L805.7,669.9 L806.3,668.0 L807.1,666.0 L808.2,663.8 L809.4,661.4 L810.7,659.1 L811.8,657.0 L813.1,654.4 L814.4,652.1 L815.5,650.0 L817.1,647.4 L818.5,645.0 L819.8,642.8 L821.0,640.0 L821.4,638.4 L821.9,636.6 L822.2,634.6 L822.6,632.4 L823.0,630.0 L823.3,628.1 L823.5,626.1 L823.8,623.9 L824.1,621.7 L824.3,619.4 L824.4,617.2 L824.4,615.0 L824.4,613.8 L824.4,613.8 L824.5,614.1 L824.6,613.8 L824.7,611.9 L824.8,607.7 L824.9,600.0 L824.9,598.8 L824.9,597.6 L824.9,596.3 L824.9,594.9 L824.9,593.4 L824.9,591.8 L825.0,590.2 L825.0,588.6 L825.0,586.8 L825.0,585.0 L825.0,583.2 L825.0,581.3 L825.0,579.3 L825.0,577.3 L825.0,575.3 L825.0,573.2 L825.0,571.0 L825.0,568.9 L825.0,566.7 L825.0,564.4 L825.0,562.2 L825.0,559.9 L825.0,557.6 L825.0,555.2 L825.0,552.9 L825.0,550.5 L825.0,548.1 L825.0,545.7 L825.0,543.3 L825.0,540.9 L825.0,538.5 L825.0,536.1 L825.0,533.7 L825.0,531.3 L825.0,528.9 L825.0,526.6 L825.1,524.2 L825.1,521.8 L825.1,519.5 L825.1,517.2 L825.1,514.9 L825.1,512.7 L825.1,510.5 L825.1,508.3 L825.1,506.1 L825.1,504.0 L825.1,501.9 L825.1,499.9 L825.1,497.9 L825.1,496.0 L825.1,494.1 L825.1,492.3 L825.1,490.5 L825.1,488.8 L825.1,487.2 L825.1,485.6 L825.1,484.1 L825.1,482.7 L825.1,481.3 L825.1,480.0 L825.1,475.0 L825.1,470.7 L825.1,467.1 L825.2,464.0 L825.2,461.4 L825.2,459.3 L825.2,457.6 L825.2,456.1 L825.2,454.9 L825.3,453.8 L825.3,452.9 L825.3,452.0 L825.3,451.1 L825.3,450.1 Z" fill="#3498db" fill-opacity="0.28" stroke="#a0cfee" stroke-width="1.1" stroke-linejoin="round"/><path d="M938.0,285.6 L938.0,286.6 L938.0,287.7 L938.0,288.9 L938.0,290.1 L938.0,291.4 L938.0,292.7 L938.0,294.1 L938.0,295.6 L938.0,297.1 L938.0,298.7 L938.0,300.3 L938.0,301.9 L938.0,303.6 L938.0,305.4 L938.0,307.2 L938.0,309.0 L938.0,310.9 L938.1,312.8 L938.1,314.8 L938.1,316.8 L938.1,318.8 L938.1,320.9 L938.1,323.0 L938.1,325.1 L938.1,327.3 L938.1,329.5 L938.1,331.7 L938.1,334.0 L938.1,336.2 L938.1,338.5 L938.1,340.8 L938.1,343.1 L938.1,345.5 L938.1,347.8 L938.1,350.2 L938.1,352.6 L938.1,355.0 L938.1,357.4 L938.1,359.8 L938.1,362.2 L938.2,364.7 L938.2,367.1 L938.2,369.5 L938.2,372.0 L938.2,374.4 L938.2,376.8 L938.2,379.3 L938.2,381.7 L938.2,384.1 L938.2,386.5 L938.2,388.9 L938.2,391.3 L938.2,393.7 L938.2,396.0 L938.2,398.4 L938.2,400.7 L938.2,403.0 L938.2,405.3 L938.2,407.5 L938.2,409.8 L938.3,412.0 L938.3,414.2 L938.3,416.3 L938.3,418.5 L938.3,420.6 L938.3,422.6 L938.3,424.7 L938.3,426.7 L938.3,428.6 L938.3,430.5 L938.3,432.4 L938.3,434.3 L938.3,436.1 L938.3,437.8 L938.3,439.5 L938.3,441.2 L938.3,442.8 L938.3,444.3 L938.3,445.8 L938.3,447.3 L938.3,448.7 L938.3,450.0 L938.4,454.1 L938.4,457.9 L938.4,461.5 L938.4,464.7 L938.4,467.7 L938.4,470.5 L938.4,473.0 L938.4,475.3 L938.4,477.5 L938.4,479.4 L938.4,481.2 L938.4,482.9 L938.4,484.5 L938.4,485.9 L938.4,487.3 L938.4,488.6 L938.5,489.8 L938.5,491.0 L938.5,492.2 L938.5,493.4 L938.5,494.6 L938.5,495.9 L938.5,497.2 L938.6,498.5 L938.6,500.0 L938.6,503.0 L938.7,505.8 L938.8,508.4 L938.8,510.7 L938.9,512.9 L938.9,515.0 L938.9,516.9 L938.9,518.7 L938.9,520.4 L938.9,522.0 L938.9,523.5 L939.0,525.0 L939.3,528.0 L939.5,530.1 L939.8,531.7 L940.2,533.2 L940.6,535.0 L941.1,537.1 L941.8,539.2 L942.5,541.4 L943.2,543.3 L943.8,545.0 L945.1,547.8 L946.3,550.0 L947.2,551.9 L948.1,554.0 L949.1,556.0 L950.1,558.0 L951.1,559.9 L952.0,562.0 L952.8,564.1 L953.6,566.3 L954.4,569.0 L955.0,571.0 L955.6,573.2 L956.2,575.5 L956.8,577.8 L957.3,580.0 L957.7,582.1 L958.0,584.1 L958.3,586.0 L958.7,588.0 L959.0,590.0 L959.4,592.0 L959.8,594.0 L960.2,596.0 L960.6,598.0 L961.1,600.0 L961.7,602.0 L962.3,604.0 L962.9,606.0 L963.6,608.0 L964.3,610.0 L965.0,612.0 L965.8,614.0 L966.5,616.0 L967.2,618.0 L967.8,620.0 L968.2,622.0 L968.6,624.0 L968.9,626.0 L969.0,628.0 L969.1,630.0 L969.0,632.0 L968.9,634.0 L968.6,636.0 L968.2,638.0 L967.8,640.0 L967.3,642.0 L966.8,644.0 L966.2,646.0 L965.5,648.0 L964.6,650.0 L963.5,652.0 L962.2,654.1 L960.8,656.1 L959.5,658.1 L958.3,660.0 L957.0,662.2 L955.9,664.2 L954.8,666.1 L953.7,668.0 L952.1,670.3 L950.4,672.5 L948.8,675.0 L947.9,676.7 L947.1,678.5 L946.3,680.5 L945.5,682.6 L944.8,685.0 L944.3,686.9 L943.8,689.0 L943.4,691.2 L943.0,693.5 L942.6,695.8 L942.2,698.0 L941.8,700.0 L941.4,702.2 L941.1,704.3 L940.8,706.3 L940.4,708.3 L940.1,710.2 L939.8,712.0 L939.3,714.3 L938.9,716.6 L938.9,718.8 L938.5,720.7 L938.1,722.0 L936.6,722.0 L936.3,720.7 L935.9,718.8 L935.9,716.6 L935.5,714.3 L935.0,712.0 L934.7,710.2 L934.4,708.3 L934.0,706.3 L933.7,704.3 L933.4,702.2 L933.0,700.0 L932.6,698.0 L932.2,695.8 L931.8,693.5 L931.4,691.2 L931.0,689.0 L930.5,686.9 L930.0,685.0 L929.3,682.6 L928.5,680.5 L927.7,678.5 L926.9,676.7 L926.0,675.0 L924.4,672.5 L922.7,670.3 L921.1,668.0 L920.0,666.1 L918.9,664.2 L917.8,662.2 L916.5,660.0 L915.3,658.1 L914.0,656.1 L912.6,654.1 L911.3,652.0 L910.2,650.0 L909.3,648.0 L908.6,646.0 L908.0,644.0 L907.5,642.0 L907.0,640.0 L906.6,638.0 L906.2,636.0 L905.9,634.0 L905.8,632.0 L905.7,630.0 L905.8,628.0 L905.9,626.0 L906.2,624.0 L906.6,622.0 L907.0,620.0 L907.6,618.0 L908.3,616.0 L909.0,614.0 L909.8,612.0 L910.5,610.0 L911.2,608.0 L911.9,606.0 L912.5,604.0 L913.1,602.0 L913.7,600.0 L914.2,598.0 L914.6,596.0 L915.0,594.0 L915.4,592.0 L915.8,590.0 L916.1,588.0 L916.5,586.0 L916.8,584.1 L917.1,582.1 L917.5,580.0 L918.0,577.8 L918.6,575.5 L919.2,573.2 L919.8,571.0 L920.4,569.0 L921.2,566.3 L922.0,564.1 L922.8,562.0 L923.7,559.9 L924.7,558.0 L925.7,556.0 L926.7,554.0 L927.6,551.9 L928.5,550.0 L929.7,547.8 L931.0,545.0 L931.6,543.3 L932.3,541.4 L933.0,539.2 L933.7,537.1 L934.2,535.0 L934.6,533.2 L935.0,531.7 L935.3,530.1 L935.5,528.0 L935.8,525.0 L935.9,523.5 L935.9,522.0 L935.9,520.4 L935.9,518.7 L935.9,516.9 L935.9,515.0 L935.9,512.9 L936.0,510.7 L936.0,508.4 L936.1,505.8 L936.2,503.0 L936.2,500.0 L936.2,498.5 L936.3,497.2 L936.3,495.9 L936.3,494.6 L936.3,493.4 L936.3,492.2 L936.3,491.0 L936.3,489.8 L936.4,488.6 L936.4,487.3 L936.4,485.9 L936.4,484.5 L936.4,482.9 L936.4,481.2 L936.4,479.4 L936.4,477.5 L936.4,475.3 L936.4,473.0 L936.4,470.5 L936.4,467.7 L936.4,464.7 L936.4,461.5 L936.4,457.9 L936.4,454.1 L936.5,450.0 L936.5,448.7 L936.5,447.3 L936.5,445.8 L936.5,444.3 L936.5,442.8 L936.5,441.2 L936.5,439.5 L936.5,437.8 L936.5,436.1 L936.5,434.3 L936.5,432.4 L936.5,430.5 L936.5,428.6 L936.5,426.7 L936.5,424.7 L936.5,422.6 L936.5,420.6 L936.5,418.5 L936.5,416.3 L936.5,414.2 L936.5,412.0 L936.6,409.8 L936.6,407.5 L936.6,405.3 L936.6,403.0 L936.6,400.7 L936.6,398.4 L936.6,396.0 L936.6,393.7 L936.6,391.3 L936.6,388.9 L936.6,386.5 L936.6,384.1 L936.6,381.7 L936.6,379.3 L936.6,376.8 L936.6,374.4 L936.6,372.0 L936.6,369.5 L936.6,367.1 L936.6,364.7 L936.7,362.2 L936.7,359.8 L936.7,357.4 L936.7,355.0 L936.7,352.6 L936.7,350.2 L936.7,347.8 L936.7,345.5 L936.7,343.1 L936.7,340.8 L936.7,338.5 L936.7,336.2 L936.7,334.0 L936.7,331.7 L936.7,329.5 L936.7,327.3 L936.7,325.1 L936.7,323.0 L936.7,320.9 L936.7,318.8 L936.7,316.8 L936.7,314.8 L936.7,312.8 L936.8,310.9 L936.8,309.0 L936.8,307.2 L936.8,305.4 L936.8,303.6 L936.8,301.9 L936.8,300.3 L936.8,298.7 L936.8,297.1 L936.8,295.6 L936.8,294.1 L936.8,292.7 L936.8,291.4 L936.8,290.1 L936.8,288.9 L936.8,287.7 L936.8,286.6 L936.8,285.6 Z" fill="#ce3835" fill-opacity="0.28" stroke="#eaa4a2" stroke-width="1.1" stroke-linejoin="round"/><path d="M1146.8,386.0 L1146.8,387.2 L1146.8,388.8 L1146.8,390.7 L1146.9,392.8 L1146.9,395.2 L1146.9,397.6 L1147.0,400.0 L1147.0,401.8 L1147.0,403.9 L1147.0,406.0 L1147.1,408.3 L1147.1,410.6 L1147.2,412.8 L1147.2,414.9 L1147.3,416.9 L1147.3,418.6 L1147.4,420.0 L1147.7,423.1 L1147.7,425.0 L1147.8,426.7 L1148.0,428.6 L1148.2,430.8 L1148.4,432.9 L1148.7,435.0 L1149.1,437.0 L1149.5,439.0 L1149.9,441.0 L1150.3,443.0 L1150.8,445.0 L1151.3,447.0 L1151.7,449.1 L1152.2,451.2 L1152.7,453.2 L1153.2,455.0 L1154.0,457.5 L1154.7,459.7 L1155.6,462.0 L1156.4,463.9 L1157.3,465.8 L1158.3,467.8 L1159.2,470.0 L1159.9,472.0 L1160.6,474.1 L1161.4,476.3 L1162.0,478.3 L1162.6,480.0 L1163.7,482.8 L1164.6,485.0 L1165.6,487.4 L1166.6,490.0 L1167.3,492.1 L1168.0,494.4 L1169.0,497.0 L1170.0,499.2 L1171.2,501.6 L1172.4,503.9 L1173.5,506.0 L1174.6,508.2 L1175.6,510.1 L1176.4,512.0 L1177.2,514.9 L1177.6,517.6 L1177.5,519.8 L1176.9,522.0 L1175.7,524.4 L1174.1,527.0 L1172.9,528.8 L1171.6,530.7 L1169.9,533.0 L1168.2,535.1 L1166.2,537.4 L1164.1,539.8 L1162.2,542.0 L1160.4,544.1 L1158.7,546.2 L1157.0,548.2 L1155.6,550.0 L1154.0,552.1 L1152.7,554.1 L1151.6,556.0 L1150.8,557.8 L1150.2,559.6 L1149.6,562.0 L1149.2,563.8 L1148.8,565.8 L1148.3,567.9 L1147.9,570.3 L1147.7,573.0 L1147.7,574.8 L1147.7,576.8 L1147.7,578.8 L1147.6,580.9 L1147.5,583.1 L1147.4,585.4 L1147.3,587.7 L1147.2,590.0 L1147.1,591.5 L1147.1,592.4 L1147.1,593.1 L1147.0,593.7 L1147.0,594.5 L1147.0,595.7 L1147.0,597.6 L1147.0,600.5 L1147.0,604.5 L1147.0,610.0 L1146.9,611.3 L1146.9,612.6 L1146.9,614.1 L1146.9,615.6 L1146.9,617.2 L1146.9,618.9 L1146.9,620.7 L1146.9,622.6 L1146.9,624.5 L1146.9,626.5 L1146.9,628.5 L1146.9,630.6 L1146.9,632.8 L1146.9,635.0 L1146.9,637.3 L1146.9,639.6 L1146.9,641.9 L1146.9,644.3 L1146.9,646.7 L1146.9,649.1 L1146.9,651.5 L1146.9,654.0 L1146.9,656.5 L1146.9,658.9 L1146.9,661.4 L1146.9,663.9 L1146.9,666.4 L1146.9,668.9 L1146.9,671.3 L1146.8,673.8 L1146.8,676.2 L1146.8,678.6 L1146.8,681.0 L1146.8,683.3 L1146.8,685.6 L1146.8,687.9 L1146.8,690.1 L1146.8,692.3 L1146.8,694.4 L1146.8,696.4 L1146.8,698.4 L1146.8,700.4 L1146.8,702.2 L1146.8,704.0 L1146.8,705.8 L1146.8,707.4 L1146.8,709.0 L1146.8,710.4 L1146.8,711.8 L1146.8,713.1 L1146.8,714.2 L1146.8,715.3 L1145.6,715.3 L1145.6,714.2 L1145.6,713.1 L1145.6,711.8 L1145.6,710.4 L1145.6,709.0 L1145.6,707.4 L1145.6,705.8 L1145.6,704.0 L1145.6,702.2 L1145.6,700.4 L1145.6,698.4 L1145.6,696.4 L1145.6,694.4 L1145.6,692.3 L1145.6,690.1 L1145.6,687.9 L1145.6,685.6 L1145.6,683.3 L1145.6,681.0 L1145.6,678.6 L1145.6,676.2 L1145.6,673.8 L1145.5,671.3 L1145.5,668.9 L1145.5,666.4 L1145.5,663.9 L1145.5,661.4 L1145.5,658.9 L1145.5,656.5 L1145.5,654.0 L1145.5,651.5 L1145.5,649.1 L1145.5,646.7 L1145.5,644.3 L1145.5,641.9 L1145.5,639.6 L1145.5,637.3 L1145.5,635.0 L1145.5,632.8 L1145.5,630.6 L1145.5,628.5 L1145.5,626.5 L1145.5,624.5 L1145.5,622.6 L1145.5,620.7 L1145.5,618.9 L1145.5,617.2 L1145.5,615.6 L1145.5,614.1 L1145.5,612.6 L1145.5,611.3 L1145.5,610.0 L1145.4,604.5 L1145.4,600.5 L1145.4,597.6 L1145.4,595.7 L1145.4,594.5 L1145.4,593.7 L1145.3,593.1 L1145.3,592.4 L1145.3,591.5 L1145.2,590.0 L1145.1,587.7 L1145.0,585.4 L1144.9,583.1 L1144.8,580.9 L1144.7,578.8 L1144.7,576.8 L1144.7,574.8 L1144.7,573.0 L1144.5,570.3 L1144.1,567.9 L1143.6,565.8 L1143.2,563.8 L1142.8,562.0 L1142.2,559.6 L1141.6,557.8 L1140.8,556.0 L1139.7,554.1 L1138.4,552.1 L1136.8,550.0 L1135.4,548.2 L1133.7,546.2 L1132.0,544.1 L1130.2,542.0 L1128.3,539.8 L1126.2,537.4 L1124.2,535.1 L1122.5,533.0 L1120.8,530.7 L1119.5,528.8 L1118.3,527.0 L1116.7,524.4 L1115.5,522.0 L1114.9,519.8 L1114.8,517.6 L1115.2,514.9 L1116.0,512.0 L1116.8,510.1 L1117.8,508.2 L1118.9,506.0 L1120.0,503.9 L1121.2,501.6 L1122.4,499.2 L1123.4,497.0 L1124.4,494.4 L1125.1,492.1 L1125.8,490.0 L1126.8,487.4 L1127.8,485.0 L1128.7,482.8 L1129.8,480.0 L1130.4,478.3 L1131.0,476.3 L1131.8,474.1 L1132.5,472.0 L1133.2,470.0 L1134.1,467.8 L1135.1,465.8 L1136.0,463.9 L1136.8,462.0 L1137.7,459.7 L1138.4,457.5 L1139.2,455.0 L1139.7,453.2 L1140.2,451.2 L1140.7,449.1 L1141.1,447.0 L1141.6,445.0 L1142.1,443.0 L1142.5,441.0 L1142.9,439.0 L1143.3,437.0 L1143.7,435.0 L1144.0,432.9 L1144.2,430.8 L1144.4,428.6 L1144.6,426.7 L1144.7,425.0 L1144.7,423.1 L1145.0,420.0 L1145.1,418.6 L1145.1,416.9 L1145.2,414.9 L1145.2,412.8 L1145.3,410.6 L1145.3,408.3 L1145.4,406.0 L1145.4,403.9 L1145.4,401.8 L1145.5,400.0 L1145.5,397.6 L1145.5,395.2 L1145.5,392.8 L1145.6,390.7 L1145.6,388.8 L1145.6,387.2 L1145.6,386.0 Z" fill="#3498db" fill-opacity="0.28" stroke="#a0cfee" stroke-width="1.1" stroke-linejoin="round"/><path d="M1258.2,236.0 L1258.2,237.2 L1258.3,238.8 L1258.3,240.7 L1258.4,242.8 L1258.4,245.2 L1258.5,247.6 L1258.5,250.0 L1258.6,251.8 L1258.6,253.8 L1258.6,255.9 L1258.6,258.0 L1258.6,260.2 L1258.6,262.4 L1258.6,264.5 L1258.7,266.5 L1258.7,268.4 L1258.8,270.0 L1259.0,272.6 L1259.1,274.5 L1259.1,276.1 L1259.2,277.8 L1259.5,280.0 L1259.7,281.9 L1259.9,284.1 L1260.1,286.3 L1260.3,288.7 L1260.6,290.9 L1260.8,293.1 L1261.0,295.0 L1261.3,297.4 L1261.6,299.5 L1261.9,301.5 L1262.2,303.3 L1262.5,305.0 L1263.1,307.5 L1263.8,309.7 L1264.5,312.0 L1264.9,313.9 L1265.4,315.8 L1265.8,317.8 L1266.3,320.0 L1266.8,321.9 L1267.3,323.9 L1267.8,325.9 L1268.3,328.0 L1268.8,330.0 L1269.3,332.0 L1269.8,334.0 L1270.3,336.0 L1270.7,338.0 L1271.0,340.0 L1271.2,342.0 L1271.4,344.0 L1271.5,346.0 L1271.5,348.0 L1271.5,350.0 L1271.4,352.0 L1271.3,354.0 L1271.2,356.0 L1271.1,358.0 L1271.0,360.0 L1271.0,362.0 L1271.0,364.1 L1271.1,366.1 L1271.2,368.1 L1271.5,370.0 L1272.0,372.2 L1272.8,374.2 L1273.6,376.1 L1274.5,378.0 L1275.9,380.4 L1277.4,382.7 L1279.0,385.0 L1280.8,387.3 L1282.8,389.6 L1284.5,392.0 L1285.6,394.0 L1286.6,396.1 L1287.5,398.2 L1288.2,400.0 L1289.1,402.6 L1289.3,405.0 L1289.1,407.1 L1288.5,409.5 L1287.6,412.0 L1286.6,413.9 L1285.4,415.9 L1284.1,418.0 L1282.7,420.0 L1281.3,422.0 L1279.8,424.0 L1278.3,426.0 L1276.8,428.0 L1275.3,430.0 L1273.8,432.0 L1272.3,434.0 L1270.9,436.0 L1269.6,438.0 L1268.3,440.0 L1267.1,442.0 L1265.9,444.0 L1264.8,446.0 L1263.7,447.9 L1262.7,449.9 L1261.8,452.0 L1261.2,453.9 L1260.7,455.9 L1260.2,457.9 L1259.8,460.0 L1259.5,462.0 L1259.3,463.9 L1259.1,465.6 L1259.1,467.4 L1259.1,469.5 L1259.1,472.0 L1259.1,473.6 L1259.1,475.2 L1259.1,477.0 L1259.0,478.8 L1258.9,480.7 L1258.8,482.8 L1258.8,485.0 L1258.7,487.4 L1258.6,490.0 L1258.6,491.5 L1258.6,492.7 L1258.5,493.8 L1258.5,494.9 L1258.5,495.9 L1258.5,496.9 L1258.5,498.1 L1258.4,499.5 L1258.4,501.1 L1258.4,503.1 L1258.4,505.4 L1258.4,508.2 L1258.4,511.5 L1258.4,515.4 L1258.3,520.0 L1258.3,521.3 L1258.3,522.7 L1258.3,524.2 L1258.3,525.7 L1258.3,527.4 L1258.3,529.1 L1258.3,530.9 L1258.3,532.7 L1258.3,534.6 L1258.3,536.5 L1258.3,538.5 L1258.3,540.6 L1258.3,542.7 L1258.3,544.9 L1258.3,547.1 L1258.3,549.3 L1258.3,551.6 L1258.3,553.9 L1258.3,556.3 L1258.3,558.6 L1258.3,561.0 L1258.3,563.4 L1258.3,565.9 L1258.3,568.3 L1258.3,570.8 L1258.3,573.2 L1258.3,575.7 L1258.3,578.2 L1258.3,580.6 L1258.3,583.1 L1258.3,585.5 L1258.3,588.0 L1258.2,590.4 L1258.2,592.8 L1258.2,595.2 L1258.2,597.6 L1258.2,600.0 L1258.2,602.3 L1258.2,604.6 L1258.2,606.8 L1258.2,609.0 L1258.2,611.2 L1258.2,613.3 L1258.2,615.4 L1258.2,617.4 L1258.2,619.4 L1258.2,621.3 L1258.2,623.1 L1258.2,624.9 L1258.2,626.6 L1258.2,628.2 L1258.2,629.8 L1258.2,631.3 L1258.2,632.7 L1258.2,634.0 L1258.2,635.3 L1258.2,636.4 L1258.2,637.5 L1257.0,637.5 L1257.0,636.4 L1257.0,635.3 L1257.0,634.0 L1257.0,632.7 L1257.0,631.3 L1257.0,629.8 L1257.0,628.2 L1257.0,626.6 L1257.0,624.9 L1257.0,623.1 L1257.0,621.3 L1257.0,619.4 L1257.0,617.4 L1257.0,615.4 L1257.0,613.3 L1257.0,611.2 L1257.0,609.0 L1257.0,606.8 L1257.0,604.6 L1257.0,602.3 L1257.0,600.0 L1257.0,597.6 L1257.0,595.2 L1257.0,592.8 L1257.0,590.4 L1256.9,588.0 L1256.9,585.5 L1256.9,583.1 L1256.9,580.6 L1256.9,578.2 L1256.9,575.7 L1256.9,573.2 L1256.9,570.8 L1256.9,568.3 L1256.9,565.9 L1256.9,563.4 L1256.9,561.0 L1256.9,558.6 L1256.9,556.3 L1256.9,553.9 L1256.9,551.6 L1256.9,549.3 L1256.9,547.1 L1256.9,544.9 L1256.9,542.7 L1256.9,540.6 L1256.9,538.5 L1256.9,536.5 L1256.9,534.6 L1256.9,532.7 L1256.9,530.9 L1256.9,529.1 L1256.9,527.4 L1256.9,525.7 L1256.9,524.2 L1256.9,522.7 L1256.9,521.3 L1256.8,520.0 L1256.8,515.4 L1256.8,511.5 L1256.8,508.2 L1256.8,505.4 L1256.8,503.1 L1256.8,501.1 L1256.8,499.5 L1256.7,498.1 L1256.7,496.9 L1256.7,495.9 L1256.7,494.9 L1256.7,493.8 L1256.6,492.7 L1256.6,491.5 L1256.6,490.0 L1256.5,487.4 L1256.4,485.0 L1256.4,482.8 L1256.3,480.7 L1256.2,478.8 L1256.1,477.0 L1256.1,475.2 L1256.1,473.6 L1256.1,472.0 L1256.1,469.5 L1256.1,467.4 L1256.1,465.6 L1255.9,463.9 L1255.7,462.0 L1255.4,460.0 L1255.0,457.9 L1254.5,455.9 L1254.0,453.9 L1253.4,452.0 L1252.5,449.9 L1251.5,447.9 L1250.4,446.0 L1249.3,444.0 L1248.1,442.0 L1246.9,440.0 L1245.6,438.0 L1244.3,436.0 L1242.9,434.0 L1241.4,432.0 L1239.9,430.0 L1238.4,428.0 L1236.9,426.0 L1235.4,424.0 L1233.9,422.0 L1232.5,420.0 L1231.1,418.0 L1229.8,415.9 L1228.6,413.9 L1227.6,412.0 L1226.7,409.5 L1226.1,407.1 L1225.9,405.0 L1226.1,402.6 L1227.0,400.0 L1227.7,398.2 L1228.6,396.1 L1229.6,394.0 L1230.7,392.0 L1232.4,389.6 L1234.4,387.3 L1236.2,385.0 L1237.8,382.7 L1239.3,380.4 L1240.7,378.0 L1241.6,376.1 L1242.4,374.2 L1243.2,372.2 L1243.7,370.0 L1244.0,368.1 L1244.1,366.1 L1244.2,364.1 L1244.2,362.0 L1244.2,360.0 L1244.1,358.0 L1244.0,356.0 L1243.9,354.0 L1243.8,352.0 L1243.7,350.0 L1243.7,348.0 L1243.7,346.0 L1243.8,344.0 L1244.0,342.0 L1244.2,340.0 L1244.5,338.0 L1244.9,336.0 L1245.4,334.0 L1245.9,332.0 L1246.4,330.0 L1246.9,328.0 L1247.4,325.9 L1247.9,323.9 L1248.4,321.9 L1248.9,320.0 L1249.4,317.8 L1249.8,315.8 L1250.3,313.9 L1250.7,312.0 L1251.4,309.7 L1252.1,307.5 L1252.7,305.0 L1253.0,303.3 L1253.3,301.5 L1253.6,299.5 L1253.9,297.4 L1254.2,295.0 L1254.4,293.1 L1254.6,290.9 L1254.9,288.7 L1255.1,286.3 L1255.3,284.1 L1255.5,281.9 L1255.7,280.0 L1256.0,277.8 L1256.1,276.1 L1256.1,274.5 L1256.2,272.6 L1256.4,270.0 L1256.5,268.4 L1256.5,266.5 L1256.6,264.5 L1256.6,262.4 L1256.6,260.2 L1256.6,258.0 L1256.6,255.9 L1256.6,253.8 L1256.6,251.8 L1256.7,250.0 L1256.7,247.6 L1256.8,245.2 L1256.8,242.8 L1256.9,240.7 L1256.9,238.8 L1257.0,237.2 L1257.0,236.0 Z" fill="#ce3835" fill-opacity="0.28" stroke="#eaa4a2" stroke-width="1.1" stroke-linejoin="round"/><line x1="97" y1="556.9" x2="1346.5" y2="556.9" stroke="#a6a6a6" stroke-width="2.2" stroke-dasharray="8.6 4.05"/><line x1="185.4" y1="340.7" x2="185.4" y2="451.3" stroke="#4393d9" stroke-width="1.8"/><line x1="170.4" y1="340.7" x2="200.4" y2="340.7" stroke="#4393d9" stroke-width="2.0" stroke-linecap="round"/><line x1="155.9" y1="385.9" x2="214.9" y2="385.9" stroke="#4393d9" stroke-width="2.2" stroke-linecap="round"/><line x1="155.9" y1="403.4" x2="214.9" y2="403.4" stroke="#4393d9" stroke-width="3.0" stroke-linecap="round"/><line x1="155.9" y1="416.6" x2="214.9" y2="416.6" stroke="#4393d9" stroke-width="2.2" stroke-linecap="round"/><line x1="170.4" y1="451.3" x2="200.4" y2="451.3" stroke="#4393d9" stroke-width="2.0" stroke-linecap="round"/><line x1="297.3" y1="185.7" x2="297.3" y2="347.9" stroke="#e0372c" stroke-width="1.8"/><line x1="282.3" y1="185.7" x2="312.3" y2="185.7" stroke="#e0372c" stroke-width="2.0" stroke-linecap="round"/><line x1="267.8" y1="244.6" x2="326.8" y2="244.6" stroke="#e0372c" stroke-width="2.2" stroke-linecap="round"/><line x1="267.8" y1="267" x2="326.8" y2="267" stroke="#e0372c" stroke-width="3.0" stroke-linecap="round"/><line x1="267.8" y1="288.1" x2="326.8" y2="288.1" stroke="#e0372c" stroke-width="2.2" stroke-linecap="round"/><line x1="282.3" y1="347.9" x2="312.3" y2="347.9" stroke="#e0372c" stroke-width="2.0" stroke-linecap="round"/><line x1="505.8" y1="398" x2="505.8" y2="501.4" stroke="#4393d9" stroke-width="1.8"/><line x1="490.8" y1="398" x2="520.8" y2="398" stroke="#4393d9" stroke-width="2.0" stroke-linecap="round"/><line x1="476.3" y1="438.1" x2="535.3" y2="438.1" stroke="#4393d9" stroke-width="2.2" stroke-linecap="round"/><line x1="476.3" y1="453.1" x2="535.3" y2="453.1" stroke="#4393d9" stroke-width="3.0" stroke-linecap="round"/><line x1="476.3" y1="466.1" x2="535.3" y2="466.1" stroke="#4393d9" stroke-width="2.2" stroke-linecap="round"/><line x1="490.8" y1="501.4" x2="520.8" y2="501.4" stroke="#4393d9" stroke-width="2.0" stroke-linecap="round"/><line x1="617.2" y1="277.3" x2="617.2" y2="386.3" stroke="#e0372c" stroke-width="1.8"/><line x1="602.2" y1="277.3" x2="632.2" y2="277.3" stroke="#e0372c" stroke-width="2.0" stroke-linecap="round"/><line x1="587.7" y1="320.7" x2="646.7" y2="320.7" stroke="#e0372c" stroke-width="2.2" stroke-linecap="round"/><line x1="587.7" y1="337.4" x2="646.7" y2="337.4" stroke="#e0372c" stroke-width="3.0" stroke-linecap="round"/><line x1="587.7" y1="349.7" x2="646.7" y2="349.7" stroke="#e0372c" stroke-width="2.2" stroke-linecap="round"/><line x1="602.2" y1="386.3" x2="632.2" y2="386.3" stroke="#e0372c" stroke-width="2.0" stroke-linecap="round"/><line x1="825.9" y1="610" x2="825.9" y2="787.2" stroke="#4393d9" stroke-width="1.8"/><line x1="810.9" y1="610" x2="840.9" y2="610" stroke="#4393d9" stroke-width="2.0" stroke-linecap="round"/><line x1="796.4" y1="674.1" x2="855.4" y2="674.1" stroke="#4393d9" stroke-width="2.2" stroke-linecap="round"/><line x1="796.4" y1="700.1" x2="855.4" y2="700.1" stroke="#4393d9" stroke-width="3.0" stroke-linecap="round"/><line x1="796.4" y1="720.1" x2="855.4" y2="720.1" stroke="#4393d9" stroke-width="2.2" stroke-linecap="round"/><line x1="810.9" y1="787.2" x2="840.9" y2="787.2" stroke="#4393d9" stroke-width="2.0" stroke-linecap="round"/><line x1="937.4" y1="492.2" x2="937.4" y2="721.5" stroke="#e0372c" stroke-width="1.8"/><line x1="922.4" y1="492.2" x2="952.4" y2="492.2" stroke="#e0372c" stroke-width="2.0" stroke-linecap="round"/><line x1="907.9" y1="582.3" x2="966.9" y2="582.3" stroke="#e0372c" stroke-width="2.2" stroke-linecap="round"/><line x1="907.9" y1="619.9" x2="966.9" y2="619.9" stroke="#e0372c" stroke-width="3.0" stroke-linecap="round"/><line x1="907.9" y1="646" x2="966.9" y2="646" stroke="#e0372c" stroke-width="2.2" stroke-linecap="round"/><line x1="922.4" y1="721.5" x2="952.4" y2="721.5" stroke="#e0372c" stroke-width="2.0" stroke-linecap="round"/><line x1="1146.2" y1="425" x2="1146.2" y2="573.4" stroke="#4393d9" stroke-width="1.8"/><line x1="1131.2" y1="425" x2="1161.2" y2="425" stroke="#4393d9" stroke-width="2.0" stroke-linecap="round"/><line x1="1116.7" y1="485" x2="1175.7" y2="485" stroke="#4393d9" stroke-width="2.2" stroke-linecap="round"/><line x1="1116.7" y1="511.3" x2="1175.7" y2="511.3" stroke="#4393d9" stroke-width="3.0" stroke-linecap="round"/><line x1="1116.7" y1="525" x2="1175.7" y2="525" stroke="#4393d9" stroke-width="2.2" stroke-linecap="round"/><line x1="1131.2" y1="573.4" x2="1161.2" y2="573.4" stroke="#4393d9" stroke-width="2.0" stroke-linecap="round"/><line x1="1257.6" y1="255.9" x2="1257.6" y2="471.6" stroke="#e0372c" stroke-width="1.8"/><line x1="1242.6" y1="255.9" x2="1272.6" y2="255.9" stroke="#e0372c" stroke-width="2.0" stroke-linecap="round"/><line x1="1228.1" y1="347.8" x2="1287.1" y2="347.8" stroke="#e0372c" stroke-width="2.2" stroke-linecap="round"/><line x1="1228.1" y1="391.7" x2="1287.1" y2="391.7" stroke="#e0372c" stroke-width="3.0" stroke-linecap="round"/><line x1="1228.1" y1="410.3" x2="1287.1" y2="410.3" stroke="#e0372c" stroke-width="2.2" stroke-linecap="round"/><line x1="1242.6" y1="471.6" x2="1272.6" y2="471.6" stroke="#e0372c" stroke-width="2.0" stroke-linecap="round"/><g fill="#3498db" fill-opacity="0.8" stroke="#ffffff" stroke-opacity="0.8" stroke-width="0.65"><circle cx="187.3" cy="396.2" r="2.4"/><circle cx="186.6" cy="410.8" r="2.4"/><circle cx="186.0" cy="428.5" r="2.4"/><circle cx="185.2" cy="351.5" r="2.4"/><circle cx="186.7" cy="416.3" r="2.4"/><circle cx="185.1" cy="407.5" r="2.4"/><circle cx="196.0" cy="385.5" r="2.4"/><circle cx="185.2" cy="417.2" r="2.4"/><circle cx="175.2" cy="437.1" r="2.4"/><circle cx="187.7" cy="389.3" r="2.4"/><circle cx="181.3" cy="422.0" r="2.4"/><circle cx="181.4" cy="361.3" r="2.4"/><circle cx="179.5" cy="417.1" r="2.4"/><circle cx="193.4" cy="389.9" r="2.4"/><circle cx="184.2" cy="398.5" r="2.4"/><circle cx="190.3" cy="396.6" r="2.4"/><circle cx="187.1" cy="390.0" r="2.4"/><circle cx="186.9" cy="447.8" r="2.4"/><circle cx="184.2" cy="393.8" r="2.4"/><circle cx="192.9" cy="359.3" r="2.4"/><circle cx="186.7" cy="381.6" r="2.4"/><circle cx="171.1" cy="397.4" r="2.4"/><circle cx="187.9" cy="392.1" r="2.4"/><circle cx="180.9" cy="416.1" r="2.4"/><circle cx="176.3" cy="412.1" r="2.4"/><circle cx="183.5" cy="402.1" r="2.4"/><circle cx="187.6" cy="414.0" r="2.4"/><circle cx="178.7" cy="361.3" r="2.4"/><circle cx="186.5" cy="391.2" r="2.4"/><circle cx="189.1" cy="420.4" r="2.4"/><circle cx="183.0" cy="398.2" r="2.4"/><circle cx="194.4" cy="423.6" r="2.4"/><circle cx="186.4" cy="403.1" r="2.4"/><circle cx="186.6" cy="386.1" r="2.4"/><circle cx="179.2" cy="414.9" r="2.4"/><circle cx="191.0" cy="393.4" r="2.4"/><circle cx="191.9" cy="440.7" r="2.4"/><circle cx="175.9" cy="438.5" r="2.4"/><circle cx="181.2" cy="304.7" r="2.4"/><circle cx="192.4" cy="378.9" r="2.4"/><circle cx="183.8" cy="412.8" r="2.4"/><circle cx="173.7" cy="410.3" r="2.4"/><circle cx="181.4" cy="407.7" r="2.4"/><circle cx="189.9" cy="404.2" r="2.4"/><circle cx="198.7" cy="345.8" r="2.4"/><circle cx="176.9" cy="392.5" r="2.4"/><circle cx="186.5" cy="389.4" r="2.4"/><circle cx="179.8" cy="350.0" r="2.4"/><circle cx="192.2" cy="414.7" r="2.4"/><circle cx="181.6" cy="427.4" r="2.4"/><circle cx="188.8" cy="399.2" r="2.4"/><circle cx="183.1" cy="389.8" r="2.4"/><circle cx="181.7" cy="400.7" r="2.4"/><circle cx="181.2" cy="392.1" r="2.4"/><circle cx="192.8" cy="386.7" r="2.4"/><circle cx="197.2" cy="391.0" r="2.4"/><circle cx="185.2" cy="426.9" r="2.4"/><circle cx="190.6" cy="361.0" r="2.4"/><circle cx="180.8" cy="397.4" r="2.4"/><circle cx="190.1" cy="373.2" r="2.4"/><circle cx="194.0" cy="451.3" r="2.4"/><circle cx="185.5" cy="369.5" r="2.4"/><circle cx="175.1" cy="378.0" r="2.4"/><circle cx="186.3" cy="403.4" r="2.4"/><circle cx="183.5" cy="344.5" r="2.4"/><circle cx="193.7" cy="388.2" r="2.4"/><circle cx="183.6" cy="393.7" r="2.4"/><circle cx="186.3" cy="387.2" r="2.4"/><circle cx="184.3" cy="403.2" r="2.4"/><circle cx="184.7" cy="386.9" r="2.4"/><circle cx="187.0" cy="345.0" r="2.4"/><circle cx="185.2" cy="416.5" r="2.4"/><circle cx="185.4" cy="404.3" r="2.4"/><circle cx="179.2" cy="394.0" r="2.4"/><circle cx="195.3" cy="399.1" r="2.4"/><circle cx="179.4" cy="339.0" r="2.4"/><circle cx="194.9" cy="380.3" r="2.4"/><circle cx="182.1" cy="391.3" r="2.4"/><circle cx="188.7" cy="393.0" r="2.4"/><circle cx="185.7" cy="389.2" r="2.4"/><circle cx="193.6" cy="399.4" r="2.4"/><circle cx="190.1" cy="418.3" r="2.4"/><circle cx="188.3" cy="410.4" r="2.4"/><circle cx="186.5" cy="413.1" r="2.4"/><circle cx="183.9" cy="415.2" r="2.4"/><circle cx="181.5" cy="432.3" r="2.4"/><circle cx="188.6" cy="396.5" r="2.4"/><circle cx="187.1" cy="392.3" r="2.4"/><circle cx="191.2" cy="333.0" r="2.4"/><circle cx="186.1" cy="424.4" r="2.4"/><circle cx="187.0" cy="414.2" r="2.4"/><circle cx="184.8" cy="374.3" r="2.4"/><circle cx="178.8" cy="434.1" r="2.4"/><circle cx="186.0" cy="399.0" r="2.4"/><circle cx="186.2" cy="370.9" r="2.4"/><circle cx="179.4" cy="324.0" r="2.4"/><circle cx="183.1" cy="390.5" r="2.4"/><circle cx="186.3" cy="314.5" r="2.4"/><circle cx="180.1" cy="439.2" r="2.4"/><circle cx="181.0" cy="379.9" r="2.4"/><circle cx="182.3" cy="375.6" r="2.4"/><circle cx="187.6" cy="383.8" r="2.4"/><circle cx="182.5" cy="415.6" r="2.4"/><circle cx="180.1" cy="388.3" r="2.4"/><circle cx="192.2" cy="417.4" r="2.4"/><circle cx="196.7" cy="416.5" r="2.4"/><circle cx="184.8" cy="338.4" r="2.4"/><circle cx="188.2" cy="366.3" r="2.4"/><circle cx="193.9" cy="416.8" r="2.4"/><circle cx="195.4" cy="395.0" r="2.4"/><circle cx="195.6" cy="393.8" r="2.4"/><circle cx="185.6" cy="426.0" r="2.4"/><circle cx="183.0" cy="440.8" r="2.4"/><circle cx="190.5" cy="433.1" r="2.4"/><circle cx="186.8" cy="388.6" r="2.4"/><circle cx="192.7" cy="437.6" r="2.4"/><circle cx="177.9" cy="405.0" r="2.4"/><circle cx="176.2" cy="435.7" r="2.4"/><circle cx="194.6" cy="386.6" r="2.4"/><circle cx="176.4" cy="390.4" r="2.4"/><circle cx="185.0" cy="416.5" r="2.4"/><circle cx="182.5" cy="403.4" r="2.4"/><circle cx="176.0" cy="463.6" r="2.4"/><circle cx="166.4" cy="398.3" r="2.4"/><circle cx="184.9" cy="394.2" r="2.4"/><circle cx="183.7" cy="438.0" r="2.4"/><circle cx="184.5" cy="415.5" r="2.4"/><circle cx="171.4" cy="415.7" r="2.4"/><circle cx="187.1" cy="405.7" r="2.4"/><circle cx="187.8" cy="429.8" r="2.4"/><circle cx="188.2" cy="326.2" r="2.4"/><circle cx="178.4" cy="370.4" r="2.4"/><circle cx="192.1" cy="402.2" r="2.4"/><circle cx="179.0" cy="387.7" r="2.4"/><circle cx="183.4" cy="390.8" r="2.4"/><circle cx="178.7" cy="368.5" r="2.4"/><circle cx="181.5" cy="409.3" r="2.4"/><circle cx="180.2" cy="408.5" r="2.4"/><circle cx="182.9" cy="371.2" r="2.4"/><circle cx="186.2" cy="361.3" r="2.4"/><circle cx="200.6" cy="369.2" r="2.4"/><circle cx="189.0" cy="369.7" r="2.4"/><circle cx="182.2" cy="396.9" r="2.4"/><circle cx="178.4" cy="400.0" r="2.4"/><circle cx="190.7" cy="394.3" r="2.4"/><circle cx="193.6" cy="390.5" r="2.4"/><circle cx="195.9" cy="373.8" r="2.4"/><circle cx="196.1" cy="407.7" r="2.4"/><circle cx="187.5" cy="378.1" r="2.4"/><circle cx="196.1" cy="401.7" r="2.4"/><circle cx="181.6" cy="432.2" r="2.4"/><circle cx="190.2" cy="407.5" r="2.4"/><circle cx="187.2" cy="377.4" r="2.4"/><circle cx="194.4" cy="388.8" r="2.4"/><circle cx="183.5" cy="367.7" r="2.4"/><circle cx="186.3" cy="368.7" r="2.4"/><circle cx="181.8" cy="395.7" r="2.4"/><circle cx="182.0" cy="410.9" r="2.4"/><circle cx="169.4" cy="398.3" r="2.4"/><circle cx="189.4" cy="412.4" r="2.4"/><circle cx="184.5" cy="419.4" r="2.4"/><circle cx="181.7" cy="380.9" r="2.4"/><circle cx="193.8" cy="438.1" r="2.4"/><circle cx="177.1" cy="377.9" r="2.4"/><circle cx="180.7" cy="367.7" r="2.4"/><circle cx="184.4" cy="375.8" r="2.4"/><circle cx="192.0" cy="435.7" r="2.4"/><circle cx="185.9" cy="370.3" r="2.4"/><circle cx="188.3" cy="424.4" r="2.4"/><circle cx="177.7" cy="410.2" r="2.4"/><circle cx="182.7" cy="437.0" r="2.4"/><circle cx="189.0" cy="451.3" r="2.4"/><circle cx="189.4" cy="439.9" r="2.4"/><circle cx="196.7" cy="403.3" r="2.4"/><circle cx="184.2" cy="447.9" r="2.4"/><circle cx="183.1" cy="405.3" r="2.4"/><circle cx="186.2" cy="391.7" r="2.4"/><circle cx="182.0" cy="491.0" r="2.4"/><circle cx="182.5" cy="394.0" r="2.4"/><circle cx="191.5" cy="419.7" r="2.4"/><circle cx="188.3" cy="405.0" r="2.4"/><circle cx="180.5" cy="390.0" r="2.4"/><circle cx="178.5" cy="355.0" r="2.4"/><circle cx="181.5" cy="374.1" r="2.4"/><circle cx="185.9" cy="410.5" r="2.4"/><circle cx="190.7" cy="396.3" r="2.4"/><circle cx="185.3" cy="442.5" r="2.4"/><circle cx="191.9" cy="399.0" r="2.4"/><circle cx="179.4" cy="333.0" r="2.4"/><circle cx="192.6" cy="390.6" r="2.4"/><circle cx="187.9" cy="401.5" r="2.4"/><circle cx="188.6" cy="372.5" r="2.4"/><circle cx="175.8" cy="398.2" r="2.4"/><circle cx="190.2" cy="416.6" r="2.4"/><circle cx="176.7" cy="436.7" r="2.4"/><circle cx="193.4" cy="378.3" r="2.4"/><circle cx="185.5" cy="374.9" r="2.4"/><circle cx="191.4" cy="418.4" r="2.4"/><circle cx="181.7" cy="402.5" r="2.4"/><circle cx="195.8" cy="379.3" r="2.4"/><circle cx="186.0" cy="403.2" r="2.4"/><circle cx="193.9" cy="339.0" r="2.4"/><circle cx="181.4" cy="366.7" r="2.4"/><circle cx="184.4" cy="376.0" r="2.4"/><circle cx="187.9" cy="338.0" r="2.4"/><circle cx="188.3" cy="384.9" r="2.4"/><circle cx="178.5" cy="391.0" r="2.4"/><circle cx="182.7" cy="400.4" r="2.4"/><circle cx="179.1" cy="407.4" r="2.4"/><circle cx="188.2" cy="351.5" r="2.4"/><circle cx="184.4" cy="386.4" r="2.4"/><circle cx="189.3" cy="387.9" r="2.4"/><circle cx="181.4" cy="448.1" r="2.4"/><circle cx="171.7" cy="351.5" r="2.4"/><circle cx="187.8" cy="413.9" r="2.4"/><circle cx="182.2" cy="376.3" r="2.4"/><circle cx="184.9" cy="372.4" r="2.4"/><circle cx="189.7" cy="413.4" r="2.4"/><circle cx="190.6" cy="320.8" r="2.4"/><circle cx="181.2" cy="390.3" r="2.4"/><circle cx="188.2" cy="437.6" r="2.4"/><circle cx="176.7" cy="443.4" r="2.4"/><circle cx="185.5" cy="396.5" r="2.4"/><circle cx="183.6" cy="412.7" r="2.4"/><circle cx="176.0" cy="369.9" r="2.4"/><circle cx="186.9" cy="411.8" r="2.4"/><circle cx="188.4" cy="382.6" r="2.4"/><circle cx="179.3" cy="437.1" r="2.4"/><circle cx="182.0" cy="374.9" r="2.4"/><circle cx="181.2" cy="400.1" r="2.4"/><circle cx="179.7" cy="451.3" r="2.4"/><circle cx="191.0" cy="383.6" r="2.4"/><circle cx="172.8" cy="410.7" r="2.4"/><circle cx="189.5" cy="376.2" r="2.4"/><circle cx="189.3" cy="396.8" r="2.4"/><circle cx="188.4" cy="571.0" r="2.4"/><circle cx="175.8" cy="413.8" r="2.4"/><circle cx="186.8" cy="370.2" r="2.4"/><circle cx="184.5" cy="389.1" r="2.4"/><circle cx="193.0" cy="402.8" r="2.4"/><circle cx="171.5" cy="399.7" r="2.4"/><circle cx="179.5" cy="393.0" r="2.4"/><circle cx="186.6" cy="255.7" r="2.4"/><circle cx="186.8" cy="376.6" r="2.4"/><circle cx="182.8" cy="330.3" r="2.4"/><circle cx="187.2" cy="391.0" r="2.4"/><circle cx="174.5" cy="408.9" r="2.4"/><circle cx="190.6" cy="386.6" r="2.4"/><circle cx="178.7" cy="411.4" r="2.4"/><circle cx="184.5" cy="386.9" r="2.4"/><circle cx="179.3" cy="371.6" r="2.4"/><circle cx="178.4" cy="402.0" r="2.4"/><circle cx="174.9" cy="394.0" r="2.4"/><circle cx="184.0" cy="357.0" r="2.4"/><circle cx="170.9" cy="391.9" r="2.4"/><circle cx="195.0" cy="398.4" r="2.4"/><circle cx="182.0" cy="383.6" r="2.4"/><circle cx="186.3" cy="393.5" r="2.4"/><circle cx="193.9" cy="413.9" r="2.4"/><circle cx="183.7" cy="380.3" r="2.4"/><circle cx="183.0" cy="374.5" r="2.4"/><circle cx="192.0" cy="368.4" r="2.4"/><circle cx="186.6" cy="440.5" r="2.4"/><circle cx="194.2" cy="397.3" r="2.4"/><circle cx="185.8" cy="396.3" r="2.4"/><circle cx="186.9" cy="425.1" r="2.4"/><circle cx="188.4" cy="411.9" r="2.4"/><circle cx="190.7" cy="448.5" r="2.4"/><circle cx="184.1" cy="377.2" r="2.4"/><circle cx="176.8" cy="405.7" r="2.4"/><circle cx="184.4" cy="429.2" r="2.4"/><circle cx="184.1" cy="333.7" r="2.4"/><circle cx="190.1" cy="431.7" r="2.4"/><circle cx="186.7" cy="375.1" r="2.4"/><circle cx="177.3" cy="397.0" r="2.4"/><circle cx="185.4" cy="390.7" r="2.4"/><circle cx="182.3" cy="383.6" r="2.4"/><circle cx="189.1" cy="425.1" r="2.4"/><circle cx="180.6" cy="391.1" r="2.4"/><circle cx="185.1" cy="388.2" r="2.4"/><circle cx="196.5" cy="411.0" r="2.4"/><circle cx="182.6" cy="433.8" r="2.4"/><circle cx="169.7" cy="406.4" r="2.4"/><circle cx="185.3" cy="433.2" r="2.4"/><circle cx="184.3" cy="396.6" r="2.4"/><circle cx="188.6" cy="382.5" r="2.4"/><circle cx="178.0" cy="388.6" r="2.4"/><circle cx="185.6" cy="429.2" r="2.4"/><circle cx="184.0" cy="451.3" r="2.4"/></g><g fill="#df4640" fill-opacity="0.8" stroke="#ffffff" stroke-opacity="0.8" stroke-width="0.65"><circle cx="293.7" cy="233.5" r="2.4"/><circle cx="309.8" cy="273.9" r="2.4"/><circle cx="296.4" cy="294.6" r="2.4"/><circle cx="286.8" cy="308.1" r="2.4"/><circle cx="299.4" cy="283.1" r="2.4"/><circle cx="300.5" cy="276.0" r="2.4"/><circle cx="294.0" cy="216.7" r="2.4"/><circle cx="290.7" cy="254.3" r="2.4"/><circle cx="295.9" cy="322.9" r="2.4"/><circle cx="295.2" cy="286.9" r="2.4"/><circle cx="297.1" cy="253.2" r="2.4"/><circle cx="297.1" cy="245.6" r="2.4"/><circle cx="297.5" cy="291.1" r="2.4"/><circle cx="292.9" cy="261.8" r="2.4"/><circle cx="301.5" cy="243.9" r="2.4"/><circle cx="302.4" cy="282.3" r="2.4"/><circle cx="297.9" cy="344.8" r="2.4"/><circle cx="296.4" cy="200.1" r="2.4"/><circle cx="300.2" cy="254.2" r="2.4"/><circle cx="300.4" cy="266.2" r="2.4"/><circle cx="305.6" cy="255.6" r="2.4"/><circle cx="287.9" cy="308.3" r="2.4"/><circle cx="301.9" cy="276.7" r="2.4"/><circle cx="298.3" cy="216.0" r="2.4"/><circle cx="298.2" cy="208.2" r="2.4"/><circle cx="300.5" cy="241.7" r="2.4"/><circle cx="293.7" cy="269.7" r="2.4"/><circle cx="291.7" cy="256.9" r="2.4"/><circle cx="306.3" cy="299.0" r="2.4"/><circle cx="294.0" cy="102.5" r="2.4"/><circle cx="292.3" cy="202.2" r="2.4"/><circle cx="293.5" cy="278.3" r="2.4"/><circle cx="295.0" cy="294.8" r="2.4"/><circle cx="296.0" cy="252.8" r="2.4"/><circle cx="302.3" cy="246.1" r="2.4"/><circle cx="290.6" cy="224.3" r="2.4"/><circle cx="299.7" cy="236.1" r="2.4"/><circle cx="299.5" cy="252.9" r="2.4"/><circle cx="292.9" cy="272.1" r="2.4"/><circle cx="292.5" cy="268.4" r="2.4"/><circle cx="297.5" cy="284.8" r="2.4"/><circle cx="299.0" cy="326.7" r="2.4"/><circle cx="302.3" cy="248.0" r="2.4"/><circle cx="306.9" cy="249.1" r="2.4"/><circle cx="311.0" cy="271.8" r="2.4"/><circle cx="299.2" cy="281.2" r="2.4"/><circle cx="303.8" cy="292.6" r="2.4"/><circle cx="296.4" cy="389.7" r="2.4"/><circle cx="305.1" cy="252.0" r="2.4"/><circle cx="296.2" cy="249.8" r="2.4"/><circle cx="301.4" cy="318.8" r="2.4"/><circle cx="294.7" cy="282.1" r="2.4"/><circle cx="295.1" cy="272.4" r="2.4"/><circle cx="302.5" cy="341.7" r="2.4"/><circle cx="293.3" cy="280.9" r="2.4"/><circle cx="308.2" cy="285.6" r="2.4"/><circle cx="287.6" cy="290.1" r="2.4"/><circle cx="292.2" cy="191.6" r="2.4"/><circle cx="299.2" cy="201.5" r="2.4"/><circle cx="301.6" cy="339.7" r="2.4"/><circle cx="304.2" cy="303.9" r="2.4"/><circle cx="300.8" cy="244.1" r="2.4"/><circle cx="298.4" cy="242.9" r="2.4"/><circle cx="300.1" cy="208.0" r="2.4"/><circle cx="291.9" cy="245.7" r="2.4"/><circle cx="299.1" cy="343.6" r="2.4"/><circle cx="296.5" cy="215.7" r="2.4"/><circle cx="306.8" cy="191.8" r="2.4"/><circle cx="297.4" cy="252.8" r="2.4"/><circle cx="297.9" cy="297.0" r="2.4"/><circle cx="294.5" cy="157.9" r="2.4"/><circle cx="304.6" cy="264.3" r="2.4"/><circle cx="304.5" cy="261.1" r="2.4"/><circle cx="292.7" cy="279.1" r="2.4"/><circle cx="299.9" cy="240.8" r="2.4"/><circle cx="287.2" cy="191.8" r="2.4"/><circle cx="302.4" cy="317.3" r="2.4"/><circle cx="300.0" cy="291.6" r="2.4"/><circle cx="295.9" cy="221.9" r="2.4"/><circle cx="284.0" cy="245.8" r="2.4"/><circle cx="306.8" cy="263.5" r="2.4"/><circle cx="301.3" cy="262.7" r="2.4"/><circle cx="289.2" cy="220.8" r="2.4"/><circle cx="290.8" cy="276.9" r="2.4"/><circle cx="303.0" cy="284.7" r="2.4"/><circle cx="302.7" cy="176.1" r="2.4"/><circle cx="286.1" cy="303.7" r="2.4"/><circle cx="289.7" cy="306.9" r="2.4"/><circle cx="292.3" cy="280.3" r="2.4"/><circle cx="285.5" cy="245.8" r="2.4"/><circle cx="293.6" cy="277.6" r="2.4"/><circle cx="298.9" cy="290.9" r="2.4"/><circle cx="308.4" cy="254.7" r="2.4"/><circle cx="293.7" cy="313.2" r="2.4"/><circle cx="294.8" cy="270.4" r="2.4"/><circle cx="295.5" cy="258.4" r="2.4"/><circle cx="302.1" cy="242.0" r="2.4"/><circle cx="298.0" cy="272.2" r="2.4"/><circle cx="307.0" cy="296.3" r="2.4"/><circle cx="302.0" cy="260.3" r="2.4"/><circle cx="299.1" cy="263.2" r="2.4"/><circle cx="294.4" cy="214.1" r="2.4"/><circle cx="299.5" cy="245.0" r="2.4"/><circle cx="286.4" cy="266.5" r="2.4"/><circle cx="292.2" cy="299.4" r="2.4"/><circle cx="280.9" cy="276.2" r="2.4"/><circle cx="294.7" cy="261.4" r="2.4"/><circle cx="296.6" cy="249.4" r="2.4"/><circle cx="292.8" cy="282.4" r="2.4"/><circle cx="296.9" cy="210.3" r="2.4"/><circle cx="292.2" cy="166.0" r="2.4"/><circle cx="296.8" cy="329.2" r="2.4"/><circle cx="298.6" cy="294.5" r="2.4"/><circle cx="298.4" cy="227.9" r="2.4"/><circle cx="285.5" cy="263.2" r="2.4"/><circle cx="293.0" cy="287.7" r="2.4"/><circle cx="301.4" cy="209.4" r="2.4"/><circle cx="301.0" cy="316.5" r="2.4"/><circle cx="302.5" cy="304.1" r="2.4"/><circle cx="296.9" cy="279.8" r="2.4"/><circle cx="314.0" cy="265.6" r="2.4"/><circle cx="292.7" cy="271.2" r="2.4"/><circle cx="291.0" cy="248.5" r="2.4"/><circle cx="294.8" cy="276.5" r="2.4"/><circle cx="307.1" cy="264.9" r="2.4"/><circle cx="302.6" cy="327.4" r="2.4"/><circle cx="282.2" cy="264.7" r="2.4"/><circle cx="292.8" cy="200.2" r="2.4"/><circle cx="301.9" cy="259.6" r="2.4"/><circle cx="305.2" cy="251.2" r="2.4"/><circle cx="301.5" cy="299.1" r="2.4"/><circle cx="297.1" cy="243.5" r="2.4"/><circle cx="296.4" cy="492.7" r="2.4"/><circle cx="293.5" cy="291.2" r="2.4"/><circle cx="292.3" cy="253.6" r="2.4"/><circle cx="295.2" cy="254.9" r="2.4"/><circle cx="298.1" cy="271.1" r="2.4"/><circle cx="290.8" cy="249.2" r="2.4"/><circle cx="305.6" cy="262.0" r="2.4"/><circle cx="302.7" cy="284.9" r="2.4"/><circle cx="297.5" cy="240.3" r="2.4"/><circle cx="297.3" cy="241.2" r="2.4"/><circle cx="309.6" cy="221.8" r="2.4"/><circle cx="294.2" cy="279.9" r="2.4"/><circle cx="285.9" cy="268.4" r="2.4"/><circle cx="293.9" cy="196.3" r="2.4"/><circle cx="297.0" cy="244.7" r="2.4"/><circle cx="301.6" cy="310.4" r="2.4"/><circle cx="288.3" cy="270.8" r="2.4"/><circle cx="295.5" cy="280.9" r="2.4"/><circle cx="292.4" cy="282.9" r="2.4"/><circle cx="300.4" cy="285.5" r="2.4"/><circle cx="295.4" cy="208.2" r="2.4"/><circle cx="294.5" cy="281.0" r="2.4"/><circle cx="291.1" cy="261.6" r="2.4"/><circle cx="302.1" cy="248.0" r="2.4"/><circle cx="293.8" cy="288.0" r="2.4"/><circle cx="302.8" cy="269.7" r="2.4"/><circle cx="310.4" cy="250.0" r="2.4"/><circle cx="300.6" cy="207.4" r="2.4"/><circle cx="280.0" cy="288.1" r="2.4"/><circle cx="298.4" cy="199.7" r="2.4"/><circle cx="298.3" cy="264.8" r="2.4"/><circle cx="301.3" cy="251.0" r="2.4"/><circle cx="290.3" cy="289.0" r="2.4"/><circle cx="310.9" cy="253.0" r="2.4"/><circle cx="293.9" cy="308.3" r="2.4"/><circle cx="287.3" cy="301.2" r="2.4"/><circle cx="303.9" cy="289.1" r="2.4"/><circle cx="309.7" cy="220.9" r="2.4"/><circle cx="297.7" cy="263.9" r="2.4"/><circle cx="295.2" cy="208.7" r="2.4"/><circle cx="298.3" cy="58.0" r="2.4"/><circle cx="297.8" cy="262.6" r="2.4"/><circle cx="297.2" cy="285.6" r="2.4"/><circle cx="295.4" cy="278.7" r="2.4"/><circle cx="293.7" cy="257.7" r="2.4"/><circle cx="287.5" cy="244.3" r="2.4"/><circle cx="298.4" cy="290.8" r="2.4"/><circle cx="300.3" cy="256.9" r="2.4"/><circle cx="291.8" cy="255.6" r="2.4"/><circle cx="293.7" cy="234.0" r="2.4"/><circle cx="306.0" cy="212.1" r="2.4"/><circle cx="296.8" cy="259.9" r="2.4"/><circle cx="300.6" cy="318.2" r="2.4"/><circle cx="306.0" cy="217.3" r="2.4"/><circle cx="291.2" cy="246.4" r="2.4"/><circle cx="301.7" cy="344.8" r="2.4"/><circle cx="299.9" cy="326.9" r="2.4"/><circle cx="302.4" cy="282.0" r="2.4"/><circle cx="298.2" cy="258.5" r="2.4"/><circle cx="308.7" cy="288.9" r="2.4"/><circle cx="303.5" cy="279.9" r="2.4"/><circle cx="293.4" cy="254.9" r="2.4"/><circle cx="296.0" cy="229.2" r="2.4"/><circle cx="290.5" cy="303.8" r="2.4"/><circle cx="302.7" cy="283.4" r="2.4"/><circle cx="306.1" cy="338.5" r="2.4"/><circle cx="296.2" cy="247.6" r="2.4"/><circle cx="294.6" cy="287.9" r="2.4"/><circle cx="296.5" cy="218.1" r="2.4"/><circle cx="295.5" cy="263.4" r="2.4"/><circle cx="303.4" cy="334.9" r="2.4"/><circle cx="289.4" cy="329.8" r="2.4"/><circle cx="290.9" cy="232.2" r="2.4"/><circle cx="300.8" cy="205.4" r="2.4"/><circle cx="308.9" cy="316.5" r="2.4"/><circle cx="293.2" cy="268.9" r="2.4"/><circle cx="289.9" cy="255.7" r="2.4"/><circle cx="296.2" cy="244.1" r="2.4"/><circle cx="296.7" cy="227.1" r="2.4"/><circle cx="298.4" cy="286.5" r="2.4"/><circle cx="295.4" cy="251.7" r="2.4"/><circle cx="302.1" cy="301.6" r="2.4"/><circle cx="294.1" cy="329.1" r="2.4"/><circle cx="305.5" cy="213.9" r="2.4"/><circle cx="302.6" cy="229.3" r="2.4"/><circle cx="289.2" cy="236.2" r="2.4"/><circle cx="297.4" cy="268.7" r="2.4"/><circle cx="292.7" cy="287.7" r="2.4"/><circle cx="300.6" cy="286.1" r="2.4"/><circle cx="299.1" cy="292.5" r="2.4"/><circle cx="296.3" cy="315.6" r="2.4"/><circle cx="300.6" cy="268.2" r="2.4"/><circle cx="293.8" cy="244.5" r="2.4"/><circle cx="293.8" cy="314.4" r="2.4"/><circle cx="301.6" cy="152.8" r="2.4"/><circle cx="299.9" cy="191.6" r="2.4"/><circle cx="297.6" cy="310.2" r="2.4"/><circle cx="300.1" cy="286.8" r="2.4"/><circle cx="297.7" cy="215.9" r="2.4"/><circle cx="291.8" cy="211.0" r="2.4"/><circle cx="295.6" cy="189.6" r="2.4"/><circle cx="292.4" cy="311.2" r="2.4"/><circle cx="297.1" cy="279.6" r="2.4"/><circle cx="297.6" cy="277.6" r="2.4"/><circle cx="293.4" cy="267.4" r="2.4"/><circle cx="298.6" cy="202.6" r="2.4"/><circle cx="296.1" cy="281.2" r="2.4"/><circle cx="298.7" cy="276.7" r="2.4"/><circle cx="303.0" cy="290.6" r="2.4"/><circle cx="301.6" cy="336.2" r="2.4"/><circle cx="305.7" cy="208.5" r="2.4"/><circle cx="299.6" cy="277.3" r="2.4"/><circle cx="295.4" cy="232.9" r="2.4"/><circle cx="291.8" cy="256.5" r="2.4"/><circle cx="301.6" cy="272.2" r="2.4"/><circle cx="291.0" cy="248.6" r="2.4"/><circle cx="303.2" cy="329.1" r="2.4"/><circle cx="302.0" cy="250.7" r="2.4"/><circle cx="293.0" cy="310.5" r="2.4"/><circle cx="304.8" cy="280.0" r="2.4"/><circle cx="304.7" cy="250.6" r="2.4"/><circle cx="284.0" cy="263.0" r="2.4"/><circle cx="297.2" cy="272.0" r="2.4"/><circle cx="295.3" cy="175.8" r="2.4"/><circle cx="296.3" cy="282.7" r="2.4"/><circle cx="300.0" cy="260.2" r="2.4"/><circle cx="293.0" cy="298.2" r="2.4"/><circle cx="295.8" cy="201.5" r="2.4"/><circle cx="283.1" cy="250.3" r="2.4"/><circle cx="290.1" cy="248.7" r="2.4"/><circle cx="295.7" cy="281.3" r="2.4"/><circle cx="289.7" cy="246.8" r="2.4"/><circle cx="293.6" cy="310.9" r="2.4"/><circle cx="296.2" cy="196.3" r="2.4"/><circle cx="300.2" cy="340.8" r="2.4"/><circle cx="288.4" cy="274.5" r="2.4"/><circle cx="292.5" cy="257.8" r="2.4"/><circle cx="296.2" cy="161.7" r="2.4"/><circle cx="297.1" cy="285.8" r="2.4"/><circle cx="297.1" cy="264.9" r="2.4"/><circle cx="306.1" cy="314.2" r="2.4"/><circle cx="295.0" cy="271.5" r="2.4"/><circle cx="298.7" cy="185.6" r="2.4"/><circle cx="290.3" cy="276.6" r="2.4"/><circle cx="291.7" cy="282.7" r="2.4"/><circle cx="291.9" cy="272.4" r="2.4"/><circle cx="304.8" cy="284.0" r="2.4"/><circle cx="290.4" cy="262.3" r="2.4"/><circle cx="293.5" cy="330.6" r="2.4"/><circle cx="296.4" cy="318.2" r="2.4"/><circle cx="293.3" cy="278.4" r="2.4"/><circle cx="297.5" cy="235.7" r="2.4"/><circle cx="301.9" cy="279.4" r="2.4"/><circle cx="301.9" cy="248.7" r="2.4"/><circle cx="299.4" cy="261.9" r="2.4"/><circle cx="297.1" cy="281.2" r="2.4"/><circle cx="293.8" cy="217.0" r="2.4"/><circle cx="300.2" cy="272.7" r="2.4"/><circle cx="297.9" cy="293.9" r="2.4"/><circle cx="311.9" cy="257.7" r="2.4"/><circle cx="300.2" cy="244.5" r="2.4"/><circle cx="304.8" cy="283.8" r="2.4"/><circle cx="286.5" cy="280.1" r="2.4"/><circle cx="291.7" cy="151.7" r="2.4"/><circle cx="301.0" cy="253.9" r="2.4"/><circle cx="301.4" cy="266.9" r="2.4"/><circle cx="297.3" cy="233.1" r="2.4"/><circle cx="305.1" cy="187.9" r="2.4"/><circle cx="297.4" cy="341.1" r="2.4"/><circle cx="292.6" cy="271.6" r="2.4"/><circle cx="309.5" cy="307.9" r="2.4"/><circle cx="302.2" cy="272.1" r="2.4"/><circle cx="301.2" cy="244.5" r="2.4"/><circle cx="296.5" cy="254.0" r="2.4"/><circle cx="301.2" cy="160.3" r="2.4"/><circle cx="284.4" cy="195.7" r="2.4"/><circle cx="306.3" cy="274.6" r="2.4"/><circle cx="289.3" cy="287.3" r="2.4"/><circle cx="300.6" cy="255.2" r="2.4"/><circle cx="293.8" cy="253.6" r="2.4"/><circle cx="295.1" cy="239.5" r="2.4"/><circle cx="300.8" cy="242.1" r="2.4"/><circle cx="306.1" cy="325.3" r="2.4"/><circle cx="298.3" cy="251.1" r="2.4"/><circle cx="307.5" cy="254.5" r="2.4"/><circle cx="290.0" cy="257.5" r="2.4"/><circle cx="290.9" cy="273.0" r="2.4"/><circle cx="310.2" cy="238.9" r="2.4"/><circle cx="299.5" cy="204.2" r="2.4"/><circle cx="299.3" cy="246.1" r="2.4"/><circle cx="296.6" cy="263.8" r="2.4"/><circle cx="300.8" cy="202.8" r="2.4"/></g><g fill="#3498db" fill-opacity="0.8" stroke="#ffffff" stroke-opacity="0.8" stroke-width="0.65"><circle cx="505.9" cy="472.0" r="2.4"/><circle cx="502.7" cy="457.0" r="2.4"/><circle cx="507.4" cy="464.0" r="2.4"/><circle cx="506.4" cy="458.1" r="2.4"/><circle cx="516.0" cy="498.3" r="2.4"/><circle cx="509.0" cy="415.5" r="2.4"/><circle cx="517.7" cy="447.4" r="2.4"/><circle cx="508.1" cy="399.2" r="2.4"/><circle cx="511.1" cy="427.6" r="2.4"/><circle cx="507.6" cy="445.2" r="2.4"/><circle cx="495.2" cy="477.3" r="2.4"/><circle cx="510.6" cy="434.7" r="2.4"/><circle cx="496.6" cy="365.5" r="2.4"/><circle cx="510.3" cy="470.0" r="2.4"/><circle cx="506.0" cy="650.4" r="2.4"/><circle cx="506.7" cy="464.1" r="2.4"/><circle cx="505.8" cy="477.1" r="2.4"/><circle cx="506.6" cy="486.6" r="2.4"/><circle cx="516.0" cy="423.4" r="2.4"/><circle cx="514.4" cy="457.0" r="2.4"/><circle cx="500.2" cy="380.7" r="2.4"/><circle cx="506.7" cy="459.6" r="2.4"/><circle cx="509.9" cy="445.1" r="2.4"/><circle cx="517.4" cy="444.2" r="2.4"/><circle cx="509.6" cy="471.3" r="2.4"/><circle cx="509.2" cy="442.1" r="2.4"/><circle cx="511.4" cy="471.7" r="2.4"/><circle cx="511.6" cy="439.2" r="2.4"/><circle cx="525.8" cy="442.2" r="2.4"/><circle cx="514.6" cy="459.1" r="2.4"/><circle cx="510.6" cy="490.4" r="2.4"/><circle cx="514.0" cy="463.1" r="2.4"/><circle cx="509.5" cy="489.7" r="2.4"/><circle cx="516.6" cy="486.9" r="2.4"/><circle cx="493.0" cy="443.2" r="2.4"/><circle cx="502.8" cy="483.8" r="2.4"/><circle cx="508.9" cy="460.0" r="2.4"/><circle cx="511.8" cy="448.5" r="2.4"/><circle cx="506.8" cy="443.1" r="2.4"/><circle cx="505.0" cy="453.9" r="2.4"/><circle cx="508.8" cy="488.3" r="2.4"/><circle cx="507.3" cy="420.9" r="2.4"/><circle cx="500.8" cy="483.6" r="2.4"/><circle cx="503.2" cy="460.2" r="2.4"/><circle cx="502.3" cy="446.4" r="2.4"/><circle cx="504.2" cy="461.2" r="2.4"/><circle cx="511.3" cy="436.9" r="2.4"/><circle cx="511.1" cy="467.3" r="2.4"/><circle cx="516.7" cy="463.3" r="2.4"/><circle cx="499.4" cy="428.0" r="2.4"/><circle cx="506.1" cy="408.8" r="2.4"/><circle cx="503.5" cy="547.0" r="2.4"/><circle cx="507.0" cy="453.5" r="2.4"/><circle cx="505.7" cy="460.6" r="2.4"/><circle cx="507.2" cy="443.3" r="2.4"/><circle cx="507.1" cy="464.5" r="2.4"/><circle cx="518.0" cy="460.6" r="2.4"/><circle cx="514.4" cy="434.2" r="2.4"/><circle cx="505.5" cy="430.1" r="2.4"/><circle cx="508.1" cy="421.6" r="2.4"/><circle cx="492.1" cy="447.3" r="2.4"/><circle cx="505.9" cy="454.6" r="2.4"/><circle cx="502.9" cy="437.4" r="2.4"/><circle cx="510.8" cy="457.2" r="2.4"/><circle cx="516.0" cy="486.4" r="2.4"/><circle cx="512.1" cy="438.6" r="2.4"/><circle cx="502.6" cy="478.9" r="2.4"/><circle cx="517.2" cy="465.4" r="2.4"/><circle cx="504.2" cy="442.4" r="2.4"/><circle cx="513.1" cy="323.9" r="2.4"/><circle cx="495.9" cy="449.8" r="2.4"/><circle cx="509.3" cy="420.3" r="2.4"/><circle cx="504.2" cy="401.5" r="2.4"/><circle cx="505.5" cy="481.1" r="2.4"/><circle cx="502.2" cy="449.5" r="2.4"/><circle cx="512.0" cy="396.2" r="2.4"/><circle cx="500.5" cy="470.7" r="2.4"/><circle cx="508.2" cy="468.5" r="2.4"/><circle cx="508.3" cy="462.4" r="2.4"/><circle cx="511.3" cy="472.3" r="2.4"/><circle cx="505.5" cy="463.1" r="2.4"/><circle cx="508.1" cy="483.2" r="2.4"/><circle cx="507.9" cy="472.5" r="2.4"/><circle cx="504.2" cy="421.0" r="2.4"/><circle cx="504.5" cy="420.1" r="2.4"/><circle cx="503.6" cy="413.0" r="2.4"/><circle cx="510.4" cy="474.1" r="2.4"/><circle cx="494.2" cy="465.0" r="2.4"/><circle cx="508.7" cy="489.7" r="2.4"/><circle cx="498.2" cy="493.7" r="2.4"/><circle cx="510.3" cy="465.0" r="2.4"/><circle cx="502.8" cy="440.4" r="2.4"/><circle cx="494.7" cy="482.9" r="2.4"/><circle cx="505.9" cy="431.7" r="2.4"/><circle cx="513.8" cy="466.9" r="2.4"/><circle cx="512.0" cy="462.9" r="2.4"/><circle cx="503.1" cy="441.9" r="2.4"/><circle cx="505.1" cy="422.1" r="2.4"/><circle cx="500.7" cy="462.9" r="2.4"/><circle cx="501.0" cy="481.2" r="2.4"/><circle cx="509.0" cy="457.9" r="2.4"/><circle cx="498.4" cy="441.0" r="2.4"/><circle cx="508.8" cy="471.4" r="2.4"/><circle cx="500.3" cy="466.4" r="2.4"/><circle cx="513.4" cy="440.3" r="2.4"/><circle cx="510.9" cy="442.7" r="2.4"/><circle cx="493.2" cy="492.4" r="2.4"/><circle cx="508.3" cy="436.5" r="2.4"/><circle cx="508.6" cy="421.8" r="2.4"/><circle cx="516.4" cy="461.4" r="2.4"/><circle cx="510.9" cy="445.2" r="2.4"/><circle cx="499.8" cy="448.3" r="2.4"/><circle cx="497.6" cy="425.7" r="2.4"/><circle cx="515.3" cy="463.1" r="2.4"/><circle cx="509.9" cy="477.8" r="2.4"/><circle cx="508.7" cy="411.9" r="2.4"/><circle cx="493.2" cy="434.6" r="2.4"/><circle cx="509.8" cy="327.6" r="2.4"/><circle cx="506.8" cy="421.8" r="2.4"/><circle cx="500.1" cy="456.1" r="2.4"/><circle cx="499.4" cy="437.7" r="2.4"/><circle cx="508.3" cy="465.9" r="2.4"/><circle cx="506.9" cy="432.9" r="2.4"/><circle cx="510.9" cy="418.9" r="2.4"/><circle cx="515.1" cy="444.2" r="2.4"/><circle cx="511.5" cy="465.7" r="2.4"/><circle cx="502.8" cy="447.1" r="2.4"/><circle cx="515.4" cy="382.9" r="2.4"/><circle cx="515.5" cy="439.7" r="2.4"/><circle cx="505.0" cy="451.6" r="2.4"/><circle cx="516.7" cy="449.9" r="2.4"/><circle cx="507.6" cy="464.5" r="2.4"/><circle cx="501.5" cy="454.7" r="2.4"/><circle cx="507.7" cy="473.7" r="2.4"/><circle cx="515.2" cy="471.9" r="2.4"/><circle cx="501.8" cy="459.0" r="2.4"/><circle cx="503.4" cy="420.3" r="2.4"/><circle cx="508.4" cy="482.6" r="2.4"/><circle cx="513.5" cy="486.8" r="2.4"/><circle cx="497.7" cy="445.2" r="2.4"/><circle cx="504.7" cy="416.6" r="2.4"/><circle cx="510.3" cy="432.8" r="2.4"/><circle cx="500.2" cy="421.1" r="2.4"/><circle cx="506.9" cy="447.5" r="2.4"/><circle cx="506.5" cy="460.6" r="2.4"/><circle cx="500.4" cy="455.6" r="2.4"/><circle cx="495.5" cy="432.0" r="2.4"/><circle cx="501.3" cy="439.8" r="2.4"/><circle cx="506.1" cy="463.3" r="2.4"/><circle cx="503.3" cy="452.5" r="2.4"/><circle cx="501.7" cy="486.6" r="2.4"/><circle cx="510.1" cy="442.5" r="2.4"/><circle cx="511.7" cy="444.7" r="2.4"/><circle cx="518.4" cy="438.9" r="2.4"/><circle cx="512.0" cy="413.3" r="2.4"/><circle cx="509.4" cy="446.2" r="2.4"/><circle cx="503.3" cy="454.7" r="2.4"/><circle cx="513.2" cy="438.4" r="2.4"/><circle cx="496.9" cy="401.1" r="2.4"/><circle cx="506.0" cy="588.4" r="2.4"/><circle cx="509.6" cy="436.8" r="2.4"/><circle cx="506.2" cy="445.4" r="2.4"/><circle cx="497.8" cy="446.2" r="2.4"/><circle cx="520.0" cy="538.6" r="2.4"/><circle cx="507.6" cy="442.1" r="2.4"/><circle cx="505.9" cy="452.7" r="2.4"/><circle cx="496.0" cy="435.4" r="2.4"/><circle cx="499.1" cy="466.5" r="2.4"/><circle cx="501.9" cy="362.5" r="2.4"/><circle cx="497.5" cy="445.2" r="2.4"/><circle cx="513.5" cy="617.0" r="2.4"/><circle cx="503.8" cy="437.4" r="2.4"/><circle cx="500.3" cy="501.5" r="2.4"/><circle cx="504.5" cy="446.1" r="2.4"/><circle cx="515.9" cy="493.2" r="2.4"/><circle cx="505.6" cy="439.1" r="2.4"/><circle cx="500.8" cy="447.5" r="2.4"/><circle cx="510.5" cy="423.0" r="2.4"/><circle cx="501.0" cy="461.6" r="2.4"/><circle cx="507.5" cy="456.7" r="2.4"/><circle cx="508.4" cy="433.1" r="2.4"/><circle cx="506.7" cy="464.0" r="2.4"/><circle cx="509.3" cy="453.5" r="2.4"/><circle cx="506.4" cy="386.3" r="2.4"/><circle cx="507.5" cy="390.8" r="2.4"/><circle cx="509.8" cy="394.2" r="2.4"/><circle cx="507.0" cy="442.0" r="2.4"/><circle cx="497.6" cy="442.4" r="2.4"/><circle cx="511.8" cy="487.7" r="2.4"/><circle cx="498.7" cy="462.8" r="2.4"/><circle cx="516.4" cy="423.3" r="2.4"/><circle cx="506.3" cy="432.9" r="2.4"/><circle cx="506.1" cy="368.1" r="2.4"/><circle cx="507.9" cy="441.2" r="2.4"/><circle cx="518.9" cy="450.8" r="2.4"/><circle cx="506.6" cy="431.6" r="2.4"/><circle cx="509.5" cy="457.6" r="2.4"/><circle cx="503.6" cy="491.3" r="2.4"/><circle cx="500.0" cy="405.1" r="2.4"/><circle cx="499.4" cy="420.3" r="2.4"/><circle cx="500.4" cy="456.8" r="2.4"/><circle cx="508.6" cy="496.2" r="2.4"/><circle cx="504.0" cy="454.0" r="2.4"/><circle cx="503.4" cy="348.1" r="2.4"/><circle cx="497.0" cy="461.0" r="2.4"/><circle cx="500.3" cy="442.7" r="2.4"/><circle cx="504.8" cy="454.5" r="2.4"/><circle cx="510.2" cy="428.3" r="2.4"/><circle cx="499.8" cy="462.8" r="2.4"/><circle cx="512.8" cy="446.0" r="2.4"/><circle cx="497.8" cy="431.8" r="2.4"/><circle cx="507.7" cy="464.9" r="2.4"/><circle cx="503.4" cy="454.8" r="2.4"/><circle cx="503.1" cy="482.6" r="2.4"/><circle cx="507.9" cy="456.1" r="2.4"/><circle cx="510.9" cy="480.5" r="2.4"/><circle cx="505.5" cy="486.7" r="2.4"/><circle cx="495.1" cy="461.3" r="2.4"/><circle cx="505.3" cy="476.8" r="2.4"/><circle cx="505.6" cy="442.1" r="2.4"/><circle cx="522.1" cy="481.6" r="2.4"/><circle cx="499.9" cy="448.2" r="2.4"/><circle cx="517.7" cy="441.9" r="2.4"/><circle cx="502.4" cy="448.5" r="2.4"/><circle cx="506.0" cy="481.4" r="2.4"/><circle cx="513.5" cy="433.1" r="2.4"/><circle cx="510.5" cy="459.0" r="2.4"/><circle cx="498.0" cy="463.1" r="2.4"/><circle cx="495.8" cy="462.3" r="2.4"/><circle cx="509.7" cy="475.7" r="2.4"/><circle cx="500.2" cy="397.8" r="2.4"/><circle cx="507.1" cy="451.0" r="2.4"/><circle cx="506.1" cy="388.3" r="2.4"/><circle cx="502.2" cy="464.8" r="2.4"/></g><g fill="#df4640" fill-opacity="0.8" stroke="#ffffff" stroke-opacity="0.8" stroke-width="0.65"><circle cx="616.1" cy="357.9" r="2.4"/><circle cx="607.5" cy="328.7" r="2.4"/><circle cx="613.1" cy="339.9" r="2.4"/><circle cx="615.9" cy="306.1" r="2.4"/><circle cx="614.6" cy="343.7" r="2.4"/><circle cx="627.2" cy="358.0" r="2.4"/><circle cx="608.5" cy="428.2" r="2.4"/><circle cx="612.6" cy="358.6" r="2.4"/><circle cx="623.1" cy="321.7" r="2.4"/><circle cx="599.4" cy="338.3" r="2.4"/><circle cx="631.6" cy="344.9" r="2.4"/><circle cx="620.4" cy="290.5" r="2.4"/><circle cx="624.1" cy="369.5" r="2.4"/><circle cx="607.6" cy="355.3" r="2.4"/><circle cx="614.3" cy="327.6" r="2.4"/><circle cx="612.7" cy="356.9" r="2.4"/><circle cx="618.7" cy="368.6" r="2.4"/><circle cx="629.5" cy="323.0" r="2.4"/><circle cx="616.0" cy="343.1" r="2.4"/><circle cx="630.4" cy="349.4" r="2.4"/><circle cx="617.0" cy="352.6" r="2.4"/><circle cx="619.9" cy="344.7" r="2.4"/><circle cx="608.6" cy="365.4" r="2.4"/><circle cx="603.0" cy="370.8" r="2.4"/><circle cx="613.9" cy="374.1" r="2.4"/><circle cx="624.7" cy="343.8" r="2.4"/><circle cx="616.5" cy="295.9" r="2.4"/><circle cx="615.0" cy="328.0" r="2.4"/><circle cx="613.8" cy="270.8" r="2.4"/><circle cx="617.4" cy="347.0" r="2.4"/><circle cx="607.6" cy="294.8" r="2.4"/><circle cx="621.9" cy="265.4" r="2.4"/><circle cx="617.1" cy="292.4" r="2.4"/><circle cx="618.0" cy="270.4" r="2.4"/><circle cx="616.6" cy="358.0" r="2.4"/><circle cx="628.7" cy="263.7" r="2.4"/><circle cx="619.6" cy="341.0" r="2.4"/><circle cx="614.1" cy="339.6" r="2.4"/><circle cx="614.4" cy="339.8" r="2.4"/><circle cx="627.6" cy="295.4" r="2.4"/><circle cx="615.2" cy="364.4" r="2.4"/><circle cx="611.5" cy="282.3" r="2.4"/><circle cx="616.3" cy="333.1" r="2.4"/><circle cx="609.2" cy="305.9" r="2.4"/><circle cx="614.0" cy="573.8" r="2.4"/><circle cx="617.1" cy="303.0" r="2.4"/><circle cx="614.1" cy="312.4" r="2.4"/><circle cx="610.5" cy="341.3" r="2.4"/><circle cx="614.8" cy="380.1" r="2.4"/><circle cx="614.6" cy="293.1" r="2.4"/><circle cx="607.0" cy="354.8" r="2.4"/><circle cx="606.1" cy="350.0" r="2.4"/><circle cx="613.9" cy="332.7" r="2.4"/><circle cx="611.9" cy="345.3" r="2.4"/><circle cx="616.0" cy="321.2" r="2.4"/><circle cx="610.4" cy="345.9" r="2.4"/><circle cx="618.4" cy="372.0" r="2.4"/><circle cx="625.2" cy="323.8" r="2.4"/><circle cx="612.9" cy="331.5" r="2.4"/><circle cx="610.4" cy="317.9" r="2.4"/><circle cx="611.5" cy="327.0" r="2.4"/><circle cx="624.0" cy="354.9" r="2.4"/><circle cx="617.3" cy="273.8" r="2.4"/><circle cx="620.6" cy="299.6" r="2.4"/><circle cx="624.8" cy="336.2" r="2.4"/><circle cx="627.1" cy="343.2" r="2.4"/><circle cx="611.4" cy="327.4" r="2.4"/><circle cx="615.3" cy="366.6" r="2.4"/><circle cx="620.3" cy="384.9" r="2.4"/><circle cx="617.2" cy="312.0" r="2.4"/><circle cx="619.4" cy="294.5" r="2.4"/><circle cx="620.7" cy="348.9" r="2.4"/><circle cx="610.1" cy="340.6" r="2.4"/><circle cx="616.0" cy="179.2" r="2.4"/><circle cx="619.0" cy="526.7" r="2.4"/><circle cx="622.2" cy="327.7" r="2.4"/><circle cx="620.6" cy="372.3" r="2.4"/><circle cx="616.2" cy="327.8" r="2.4"/><circle cx="617.0" cy="342.8" r="2.4"/><circle cx="603.0" cy="335.4" r="2.4"/><circle cx="614.0" cy="352.0" r="2.4"/><circle cx="626.8" cy="334.5" r="2.4"/><circle cx="616.1" cy="376.1" r="2.4"/><circle cx="622.9" cy="300.6" r="2.4"/><circle cx="619.0" cy="328.0" r="2.4"/><circle cx="624.5" cy="372.6" r="2.4"/><circle cx="614.8" cy="320.1" r="2.4"/><circle cx="619.0" cy="358.2" r="2.4"/><circle cx="616.5" cy="296.8" r="2.4"/><circle cx="615.8" cy="296.4" r="2.4"/><circle cx="628.6" cy="363.6" r="2.4"/><circle cx="603.8" cy="349.9" r="2.4"/><circle cx="625.3" cy="332.0" r="2.4"/><circle cx="624.0" cy="326.9" r="2.4"/><circle cx="626.6" cy="341.2" r="2.4"/><circle cx="609.5" cy="325.7" r="2.4"/><circle cx="622.1" cy="325.0" r="2.4"/><circle cx="620.8" cy="325.0" r="2.4"/><circle cx="605.2" cy="368.1" r="2.4"/><circle cx="612.4" cy="380.7" r="2.4"/><circle cx="626.9" cy="347.0" r="2.4"/><circle cx="615.1" cy="337.8" r="2.4"/><circle cx="633.4" cy="325.9" r="2.4"/><circle cx="623.9" cy="342.3" r="2.4"/><circle cx="624.2" cy="336.5" r="2.4"/><circle cx="607.2" cy="326.6" r="2.4"/><circle cx="609.2" cy="333.0" r="2.4"/><circle cx="615.7" cy="322.1" r="2.4"/><circle cx="618.6" cy="365.2" r="2.4"/><circle cx="617.0" cy="372.6" r="2.4"/><circle cx="613.6" cy="268.0" r="2.4"/><circle cx="619.5" cy="328.0" r="2.4"/><circle cx="617.3" cy="302.3" r="2.4"/><circle cx="624.3" cy="222.6" r="2.4"/><circle cx="604.9" cy="348.9" r="2.4"/><circle cx="619.0" cy="277.1" r="2.4"/><circle cx="624.0" cy="337.2" r="2.4"/><circle cx="625.2" cy="309.5" r="2.4"/><circle cx="617.7" cy="297.4" r="2.4"/><circle cx="615.6" cy="291.7" r="2.4"/><circle cx="615.6" cy="317.7" r="2.4"/><circle cx="622.1" cy="321.7" r="2.4"/><circle cx="615.3" cy="321.4" r="2.4"/><circle cx="610.0" cy="340.9" r="2.4"/><circle cx="625.6" cy="341.0" r="2.4"/><circle cx="611.4" cy="324.0" r="2.4"/><circle cx="616.0" cy="375.1" r="2.4"/><circle cx="603.5" cy="370.4" r="2.4"/><circle cx="614.0" cy="292.9" r="2.4"/><circle cx="618.2" cy="330.2" r="2.4"/><circle cx="620.8" cy="347.5" r="2.4"/><circle cx="612.6" cy="314.8" r="2.4"/><circle cx="609.5" cy="329.3" r="2.4"/><circle cx="611.9" cy="340.6" r="2.4"/><circle cx="625.8" cy="337.0" r="2.4"/><circle cx="617.8" cy="341.5" r="2.4"/><circle cx="621.9" cy="321.2" r="2.4"/><circle cx="615.2" cy="188.9" r="2.4"/><circle cx="608.7" cy="338.0" r="2.4"/><circle cx="614.0" cy="341.8" r="2.4"/><circle cx="618.5" cy="331.7" r="2.4"/><circle cx="627.6" cy="340.0" r="2.4"/><circle cx="616.2" cy="348.5" r="2.4"/><circle cx="621.6" cy="341.8" r="2.4"/><circle cx="620.6" cy="343.6" r="2.4"/><circle cx="608.4" cy="381.1" r="2.4"/><circle cx="617.8" cy="313.8" r="2.4"/><circle cx="615.6" cy="367.3" r="2.4"/><circle cx="612.6" cy="295.8" r="2.4"/><circle cx="613.0" cy="323.0" r="2.4"/><circle cx="624.8" cy="307.6" r="2.4"/><circle cx="622.9" cy="343.0" r="2.4"/><circle cx="619.2" cy="332.0" r="2.4"/><circle cx="618.4" cy="333.6" r="2.4"/><circle cx="624.7" cy="331.1" r="2.4"/><circle cx="625.8" cy="327.4" r="2.4"/><circle cx="623.9" cy="294.5" r="2.4"/><circle cx="618.9" cy="337.2" r="2.4"/><circle cx="622.0" cy="348.9" r="2.4"/><circle cx="624.0" cy="299.1" r="2.4"/><circle cx="622.3" cy="367.1" r="2.4"/><circle cx="623.5" cy="339.3" r="2.4"/><circle cx="613.2" cy="333.8" r="2.4"/><circle cx="606.4" cy="343.6" r="2.4"/><circle cx="618.2" cy="307.5" r="2.4"/><circle cx="627.3" cy="278.9" r="2.4"/><circle cx="620.6" cy="260.6" r="2.4"/><circle cx="603.8" cy="386.0" r="2.4"/><circle cx="608.5" cy="339.2" r="2.4"/><circle cx="618.8" cy="334.4" r="2.4"/><circle cx="622.5" cy="323.6" r="2.4"/><circle cx="617.1" cy="335.1" r="2.4"/><circle cx="612.7" cy="376.0" r="2.4"/><circle cx="622.7" cy="248.4" r="2.4"/><circle cx="615.6" cy="221.6" r="2.4"/><circle cx="614.8" cy="321.4" r="2.4"/><circle cx="607.4" cy="292.0" r="2.4"/><circle cx="613.9" cy="349.4" r="2.4"/><circle cx="624.8" cy="339.3" r="2.4"/><circle cx="610.8" cy="307.9" r="2.4"/><circle cx="597.2" cy="338.8" r="2.4"/><circle cx="613.0" cy="313.1" r="2.4"/><circle cx="606.2" cy="337.1" r="2.4"/><circle cx="623.8" cy="341.2" r="2.4"/><circle cx="615.6" cy="348.3" r="2.4"/><circle cx="620.2" cy="308.2" r="2.4"/><circle cx="620.0" cy="337.7" r="2.4"/><circle cx="621.0" cy="292.3" r="2.4"/><circle cx="610.6" cy="293.3" r="2.4"/><circle cx="621.4" cy="291.0" r="2.4"/><circle cx="623.0" cy="277.1" r="2.4"/><circle cx="613.1" cy="322.7" r="2.4"/><circle cx="608.1" cy="348.2" r="2.4"/><circle cx="620.9" cy="332.5" r="2.4"/><circle cx="612.1" cy="363.0" r="2.4"/><circle cx="619.0" cy="325.2" r="2.4"/><circle cx="611.5" cy="347.5" r="2.4"/><circle cx="618.3" cy="231.3" r="2.4"/><circle cx="607.8" cy="343.5" r="2.4"/><circle cx="613.6" cy="345.3" r="2.4"/><circle cx="617.6" cy="311.4" r="2.4"/><circle cx="617.7" cy="355.1" r="2.4"/><circle cx="617.5" cy="374.3" r="2.4"/><circle cx="617.6" cy="303.3" r="2.4"/><circle cx="624.5" cy="338.0" r="2.4"/><circle cx="616.0" cy="259.6" r="2.4"/><circle cx="622.0" cy="304.0" r="2.4"/><circle cx="620.6" cy="372.9" r="2.4"/><circle cx="618.2" cy="375.5" r="2.4"/><circle cx="620.5" cy="346.2" r="2.4"/><circle cx="615.3" cy="340.4" r="2.4"/><circle cx="613.7" cy="380.0" r="2.4"/><circle cx="612.5" cy="488.3" r="2.4"/><circle cx="615.5" cy="380.5" r="2.4"/><circle cx="623.5" cy="341.0" r="2.4"/><circle cx="621.4" cy="364.5" r="2.4"/><circle cx="608.4" cy="267.3" r="2.4"/><circle cx="609.6" cy="326.1" r="2.4"/><circle cx="620.0" cy="329.4" r="2.4"/><circle cx="611.5" cy="332.2" r="2.4"/><circle cx="622.1" cy="333.5" r="2.4"/><circle cx="615.3" cy="355.6" r="2.4"/><circle cx="616.1" cy="329.5" r="2.4"/><circle cx="619.8" cy="324.8" r="2.4"/><circle cx="611.4" cy="319.4" r="2.4"/><circle cx="610.1" cy="305.5" r="2.4"/><circle cx="617.5" cy="294.5" r="2.4"/><circle cx="625.8" cy="376.3" r="2.4"/><circle cx="626.0" cy="196.5" r="2.4"/><circle cx="614.9" cy="333.3" r="2.4"/><circle cx="611.5" cy="342.4" r="2.4"/><circle cx="626.4" cy="339.9" r="2.4"/><circle cx="619.7" cy="347.7" r="2.4"/><circle cx="621.1" cy="330.7" r="2.4"/><circle cx="629.4" cy="364.4" r="2.4"/><circle cx="601.3" cy="374.7" r="2.4"/><circle cx="628.4" cy="329.1" r="2.4"/><circle cx="607.7" cy="309.6" r="2.4"/><circle cx="623.7" cy="337.1" r="2.4"/><circle cx="604.3" cy="352.3" r="2.4"/><circle cx="619.2" cy="349.4" r="2.4"/><circle cx="625.2" cy="370.3" r="2.4"/><circle cx="620.6" cy="290.3" r="2.4"/><circle cx="609.7" cy="338.0" r="2.4"/><circle cx="621.7" cy="307.1" r="2.4"/><circle cx="621.0" cy="350.3" r="2.4"/><circle cx="623.0" cy="335.2" r="2.4"/><circle cx="612.2" cy="289.3" r="2.4"/><circle cx="609.5" cy="370.4" r="2.4"/><circle cx="615.6" cy="379.1" r="2.4"/><circle cx="616.7" cy="384.1" r="2.4"/><circle cx="619.7" cy="313.8" r="2.4"/><circle cx="621.4" cy="329.8" r="2.4"/><circle cx="618.8" cy="302.7" r="2.4"/><circle cx="617.6" cy="304.1" r="2.4"/><circle cx="611.0" cy="365.2" r="2.4"/><circle cx="627.5" cy="340.7" r="2.4"/><circle cx="614.2" cy="253.8" r="2.4"/><circle cx="616.7" cy="285.9" r="2.4"/><circle cx="604.7" cy="335.2" r="2.4"/><circle cx="617.0" cy="455.7" r="2.4"/><circle cx="609.7" cy="332.6" r="2.4"/><circle cx="621.8" cy="324.1" r="2.4"/></g><g fill="#3498db" fill-opacity="0.8" stroke="#ffffff" stroke-opacity="0.8" stroke-width="0.65"><circle cx="830.3" cy="609.6" r="2.4"/><circle cx="836.1" cy="657.0" r="2.4"/><circle cx="820.4" cy="687.4" r="2.4"/><circle cx="842.5" cy="682.6" r="2.4"/><circle cx="828.3" cy="785.5" r="2.4"/><circle cx="828.4" cy="708.9" r="2.4"/><circle cx="835.6" cy="633.2" r="2.4"/><circle cx="818.2" cy="787.2" r="2.4"/><circle cx="830.8" cy="697.6" r="2.4"/><circle cx="825.7" cy="779.6" r="2.4"/><circle cx="821.9" cy="649.9" r="2.4"/><circle cx="818.1" cy="770.1" r="2.4"/><circle cx="828.4" cy="709.6" r="2.4"/><circle cx="825.1" cy="764.0" r="2.4"/><circle cx="825.0" cy="666.0" r="2.4"/><circle cx="833.9" cy="675.7" r="2.4"/><circle cx="825.5" cy="696.5" r="2.4"/><circle cx="818.3" cy="708.4" r="2.4"/><circle cx="833.6" cy="750.1" r="2.4"/><circle cx="824.3" cy="681.4" r="2.4"/><circle cx="821.3" cy="480.4" r="2.4"/><circle cx="825.4" cy="742.2" r="2.4"/><circle cx="822.3" cy="785.7" r="2.4"/><circle cx="835.0" cy="678.1" r="2.4"/><circle cx="828.1" cy="742.3" r="2.4"/><circle cx="828.0" cy="728.9" r="2.4"/><circle cx="831.4" cy="684.6" r="2.4"/><circle cx="826.3" cy="544.0" r="2.4"/><circle cx="829.7" cy="774.3" r="2.4"/><circle cx="833.3" cy="640.0" r="2.4"/><circle cx="827.9" cy="693.0" r="2.4"/><circle cx="827.1" cy="779.5" r="2.4"/><circle cx="828.5" cy="663.9" r="2.4"/><circle cx="823.1" cy="745.3" r="2.4"/><circle cx="826.1" cy="682.9" r="2.4"/><circle cx="827.7" cy="563.2" r="2.4"/><circle cx="836.2" cy="695.2" r="2.4"/><circle cx="829.3" cy="653.0" r="2.4"/><circle cx="816.5" cy="786.0" r="2.4"/><circle cx="829.6" cy="642.2" r="2.4"/><circle cx="837.6" cy="664.8" r="2.4"/><circle cx="834.7" cy="759.5" r="2.4"/><circle cx="822.7" cy="776.1" r="2.4"/><circle cx="823.1" cy="761.3" r="2.4"/><circle cx="838.0" cy="736.0" r="2.4"/><circle cx="831.0" cy="717.0" r="2.4"/><circle cx="828.8" cy="757.9" r="2.4"/><circle cx="818.4" cy="648.8" r="2.4"/><circle cx="814.6" cy="723.7" r="2.4"/><circle cx="819.3" cy="693.5" r="2.4"/><circle cx="830.4" cy="640.5" r="2.4"/><circle cx="816.9" cy="707.5" r="2.4"/><circle cx="825.9" cy="612.7" r="2.4"/><circle cx="813.9" cy="704.2" r="2.4"/><circle cx="833.1" cy="672.5" r="2.4"/><circle cx="837.0" cy="669.2" r="2.4"/><circle cx="823.0" cy="696.1" r="2.4"/><circle cx="825.3" cy="707.5" r="2.4"/><circle cx="832.0" cy="506.6" r="2.4"/><circle cx="821.1" cy="715.6" r="2.4"/><circle cx="820.0" cy="771.7" r="2.4"/><circle cx="820.2" cy="497.5" r="2.4"/><circle cx="828.7" cy="527.8" r="2.4"/><circle cx="816.0" cy="713.7" r="2.4"/><circle cx="820.5" cy="650.3" r="2.4"/><circle cx="832.3" cy="657.8" r="2.4"/><circle cx="813.7" cy="674.7" r="2.4"/><circle cx="824.7" cy="664.4" r="2.4"/><circle cx="824.7" cy="641.1" r="2.4"/><circle cx="830.5" cy="748.0" r="2.4"/><circle cx="822.2" cy="624.5" r="2.4"/><circle cx="838.5" cy="669.1" r="2.4"/><circle cx="820.7" cy="694.1" r="2.4"/><circle cx="823.4" cy="657.9" r="2.4"/><circle cx="829.7" cy="707.1" r="2.4"/><circle cx="836.5" cy="721.5" r="2.4"/><circle cx="833.3" cy="683.7" r="2.4"/><circle cx="834.4" cy="668.1" r="2.4"/><circle cx="837.0" cy="738.3" r="2.4"/><circle cx="839.5" cy="672.5" r="2.4"/><circle cx="840.7" cy="704.6" r="2.4"/><circle cx="829.4" cy="641.6" r="2.4"/><circle cx="811.6" cy="644.6" r="2.4"/><circle cx="830.3" cy="722.2" r="2.4"/><circle cx="818.5" cy="695.4" r="2.4"/><circle cx="826.2" cy="669.7" r="2.4"/><circle cx="829.5" cy="689.5" r="2.4"/><circle cx="822.5" cy="769.3" r="2.4"/><circle cx="820.5" cy="702.8" r="2.4"/><circle cx="827.6" cy="671.8" r="2.4"/><circle cx="834.4" cy="683.4" r="2.4"/><circle cx="819.8" cy="766.3" r="2.4"/><circle cx="813.1" cy="710.7" r="2.4"/><circle cx="830.9" cy="716.8" r="2.4"/><circle cx="827.5" cy="678.4" r="2.4"/><circle cx="819.0" cy="771.8" r="2.4"/><circle cx="826.5" cy="758.4" r="2.4"/><circle cx="824.0" cy="704.5" r="2.4"/><circle cx="824.2" cy="680.5" r="2.4"/><circle cx="821.9" cy="642.2" r="2.4"/><circle cx="836.6" cy="759.3" r="2.4"/><circle cx="833.8" cy="727.5" r="2.4"/><circle cx="810.4" cy="651.2" r="2.4"/><circle cx="834.6" cy="654.8" r="2.4"/><circle cx="821.3" cy="516.7" r="2.4"/><circle cx="817.7" cy="671.4" r="2.4"/><circle cx="836.8" cy="780.1" r="2.4"/><circle cx="826.2" cy="700.7" r="2.4"/><circle cx="836.4" cy="663.3" r="2.4"/><circle cx="821.8" cy="729.3" r="2.4"/><circle cx="824.7" cy="681.0" r="2.4"/><circle cx="830.4" cy="691.5" r="2.4"/><circle cx="834.4" cy="683.6" r="2.4"/><circle cx="829.6" cy="712.3" r="2.4"/><circle cx="827.5" cy="785.0" r="2.4"/><circle cx="822.5" cy="709.6" r="2.4"/><circle cx="823.6" cy="734.3" r="2.4"/><circle cx="823.7" cy="780.6" r="2.4"/><circle cx="821.5" cy="706.6" r="2.4"/><circle cx="830.2" cy="662.2" r="2.4"/><circle cx="831.7" cy="761.6" r="2.4"/><circle cx="818.2" cy="626.5" r="2.4"/><circle cx="833.7" cy="688.9" r="2.4"/><circle cx="821.2" cy="744.2" r="2.4"/><circle cx="833.7" cy="771.8" r="2.4"/><circle cx="827.3" cy="527.8" r="2.4"/><circle cx="824.3" cy="668.0" r="2.4"/><circle cx="828.0" cy="669.9" r="2.4"/><circle cx="822.0" cy="695.9" r="2.4"/><circle cx="823.3" cy="779.2" r="2.4"/><circle cx="812.0" cy="649.1" r="2.4"/><circle cx="837.1" cy="722.9" r="2.4"/><circle cx="830.0" cy="784.0" r="2.4"/><circle cx="807.1" cy="693.5" r="2.4"/><circle cx="820.2" cy="627.7" r="2.4"/><circle cx="834.4" cy="480.4" r="2.4"/><circle cx="828.2" cy="680.9" r="2.4"/><circle cx="833.8" cy="741.3" r="2.4"/><circle cx="822.3" cy="613.7" r="2.4"/><circle cx="832.6" cy="683.2" r="2.4"/><circle cx="830.7" cy="726.0" r="2.4"/><circle cx="829.7" cy="777.2" r="2.4"/><circle cx="824.4" cy="692.7" r="2.4"/><circle cx="820.2" cy="477.3" r="2.4"/><circle cx="836.8" cy="710.2" r="2.4"/><circle cx="826.7" cy="645.1" r="2.4"/><circle cx="826.3" cy="486.4" r="2.4"/><circle cx="830.9" cy="775.5" r="2.4"/><circle cx="824.3" cy="465.2" r="2.4"/><circle cx="836.0" cy="751.7" r="2.4"/><circle cx="824.3" cy="709.8" r="2.4"/><circle cx="819.2" cy="676.9" r="2.4"/><circle cx="820.6" cy="684.5" r="2.4"/><circle cx="824.8" cy="731.6" r="2.4"/><circle cx="823.5" cy="704.2" r="2.4"/><circle cx="828.2" cy="707.9" r="2.4"/><circle cx="831.5" cy="629.0" r="2.4"/><circle cx="811.1" cy="760.7" r="2.4"/><circle cx="827.9" cy="779.4" r="2.4"/><circle cx="819.4" cy="747.4" r="2.4"/><circle cx="821.6" cy="656.6" r="2.4"/><circle cx="824.6" cy="680.1" r="2.4"/><circle cx="834.4" cy="471.3" r="2.4"/><circle cx="820.5" cy="669.4" r="2.4"/><circle cx="840.7" cy="643.8" r="2.4"/><circle cx="830.5" cy="720.5" r="2.4"/><circle cx="824.9" cy="681.0" r="2.4"/><circle cx="833.0" cy="661.5" r="2.4"/><circle cx="820.9" cy="676.4" r="2.4"/><circle cx="824.6" cy="750.7" r="2.4"/><circle cx="830.1" cy="698.9" r="2.4"/><circle cx="824.5" cy="766.3" r="2.4"/><circle cx="819.8" cy="549.0" r="2.4"/><circle cx="819.4" cy="789.0" r="2.4"/><circle cx="824.1" cy="741.2" r="2.4"/><circle cx="826.9" cy="704.5" r="2.4"/><circle cx="807.0" cy="706.2" r="2.4"/><circle cx="832.2" cy="702.7" r="2.4"/><circle cx="813.2" cy="692.1" r="2.4"/><circle cx="829.3" cy="557.1" r="2.4"/><circle cx="833.4" cy="532.3" r="2.4"/><circle cx="820.1" cy="659.0" r="2.4"/><circle cx="827.3" cy="620.8" r="2.4"/><circle cx="821.6" cy="663.7" r="2.4"/><circle cx="824.1" cy="712.3" r="2.4"/><circle cx="821.3" cy="487.8" r="2.4"/><circle cx="835.1" cy="706.7" r="2.4"/><circle cx="826.4" cy="674.4" r="2.4"/><circle cx="823.4" cy="672.6" r="2.4"/><circle cx="818.0" cy="658.0" r="2.4"/><circle cx="820.2" cy="554.1" r="2.4"/><circle cx="820.4" cy="675.8" r="2.4"/><circle cx="823.3" cy="492.5" r="2.4"/><circle cx="833.4" cy="703.6" r="2.4"/><circle cx="827.0" cy="684.3" r="2.4"/><circle cx="824.8" cy="711.5" r="2.4"/><circle cx="832.6" cy="734.3" r="2.4"/><circle cx="827.7" cy="518.1" r="2.4"/><circle cx="831.1" cy="679.6" r="2.4"/><circle cx="824.0" cy="685.9" r="2.4"/><circle cx="826.5" cy="769.8" r="2.4"/><circle cx="833.9" cy="682.1" r="2.4"/><circle cx="828.3" cy="636.9" r="2.4"/><circle cx="831.2" cy="664.8" r="2.4"/><circle cx="835.7" cy="671.3" r="2.4"/><circle cx="813.4" cy="788.2" r="2.4"/><circle cx="821.7" cy="662.6" r="2.4"/><circle cx="835.5" cy="647.2" r="2.4"/><circle cx="821.3" cy="760.7" r="2.4"/><circle cx="824.6" cy="668.1" r="2.4"/><circle cx="827.9" cy="708.6" r="2.4"/><circle cx="832.4" cy="538.3" r="2.4"/><circle cx="840.0" cy="674.4" r="2.4"/><circle cx="828.2" cy="695.4" r="2.4"/><circle cx="828.9" cy="685.0" r="2.4"/><circle cx="826.0" cy="644.4" r="2.4"/><circle cx="826.7" cy="633.8" r="2.4"/><circle cx="828.9" cy="541.0" r="2.4"/><circle cx="829.5" cy="685.8" r="2.4"/><circle cx="824.8" cy="720.2" r="2.4"/><circle cx="828.8" cy="768.1" r="2.4"/><circle cx="826.1" cy="769.2" r="2.4"/><circle cx="831.4" cy="485.4" r="2.4"/><circle cx="820.6" cy="685.9" r="2.4"/><circle cx="821.7" cy="648.8" r="2.4"/><circle cx="832.5" cy="700.3" r="2.4"/><circle cx="824.8" cy="734.5" r="2.4"/><circle cx="826.6" cy="767.8" r="2.4"/><circle cx="821.3" cy="541.0" r="2.4"/><circle cx="830.3" cy="522.4" r="2.4"/><circle cx="815.9" cy="778.7" r="2.4"/><circle cx="823.2" cy="677.0" r="2.4"/><circle cx="805.9" cy="781.5" r="2.4"/><circle cx="820.7" cy="631.6" r="2.4"/><circle cx="826.0" cy="755.7" r="2.4"/><circle cx="828.1" cy="680.8" r="2.4"/><circle cx="822.6" cy="676.3" r="2.4"/><circle cx="818.5" cy="681.3" r="2.4"/><circle cx="820.0" cy="670.7" r="2.4"/><circle cx="832.8" cy="772.9" r="2.4"/><circle cx="827.2" cy="675.6" r="2.4"/><circle cx="826.2" cy="647.2" r="2.4"/><circle cx="824.4" cy="716.6" r="2.4"/><circle cx="824.3" cy="651.9" r="2.4"/><circle cx="817.5" cy="683.5" r="2.4"/><circle cx="824.9" cy="683.2" r="2.4"/><circle cx="838.0" cy="681.9" r="2.4"/><circle cx="823.9" cy="630.6" r="2.4"/><circle cx="832.1" cy="662.5" r="2.4"/><circle cx="830.6" cy="747.7" r="2.4"/><circle cx="825.6" cy="668.5" r="2.4"/><circle cx="822.3" cy="495.5" r="2.4"/><circle cx="832.4" cy="477.3" r="2.4"/><circle cx="834.4" cy="453.1" r="2.4"/><circle cx="823.5" cy="650.3" r="2.4"/><circle cx="828.3" cy="713.5" r="2.4"/><circle cx="827.1" cy="665.6" r="2.4"/><circle cx="819.4" cy="653.2" r="2.4"/><circle cx="817.2" cy="785.3" r="2.4"/><circle cx="832.3" cy="711.9" r="2.4"/><circle cx="839.4" cy="653.6" r="2.4"/><circle cx="828.8" cy="634.9" r="2.4"/><circle cx="823.4" cy="695.0" r="2.4"/><circle cx="830.5" cy="746.5" r="2.4"/><circle cx="817.8" cy="663.3" r="2.4"/><circle cx="825.0" cy="757.3" r="2.4"/><circle cx="826.6" cy="629.1" r="2.4"/><circle cx="824.2" cy="685.3" r="2.4"/><circle cx="828.5" cy="791.9" r="2.4"/><circle cx="822.1" cy="689.4" r="2.4"/><circle cx="824.8" cy="715.8" r="2.4"/><circle cx="812.3" cy="700.8" r="2.4"/><circle cx="828.7" cy="708.4" r="2.4"/><circle cx="826.7" cy="651.9" r="2.4"/><circle cx="817.1" cy="673.7" r="2.4"/><circle cx="821.3" cy="555.7" r="2.4"/><circle cx="836.0" cy="678.0" r="2.4"/><circle cx="831.9" cy="714.7" r="2.4"/><circle cx="823.1" cy="670.5" r="2.4"/><circle cx="835.7" cy="665.3" r="2.4"/><circle cx="816.2" cy="553.7" r="2.4"/><circle cx="824.7" cy="656.2" r="2.4"/><circle cx="835.3" cy="746.1" r="2.4"/><circle cx="826.5" cy="766.8" r="2.4"/><circle cx="826.3" cy="503.6" r="2.4"/><circle cx="821.3" cy="500.0" r="2.4"/><circle cx="822.1" cy="644.2" r="2.4"/><circle cx="825.9" cy="707.2" r="2.4"/><circle cx="826.4" cy="696.8" r="2.4"/><circle cx="817.6" cy="659.6" r="2.4"/><circle cx="824.3" cy="497.9" r="2.4"/><circle cx="822.9" cy="779.0" r="2.4"/><circle cx="819.9" cy="763.0" r="2.4"/><circle cx="830.1" cy="728.2" r="2.4"/><circle cx="831.4" cy="491.5" r="2.4"/><circle cx="829.7" cy="764.0" r="2.4"/><circle cx="821.7" cy="651.1" r="2.4"/><circle cx="833.7" cy="640.5" r="2.4"/><circle cx="824.3" cy="618.7" r="2.4"/><circle cx="825.0" cy="682.0" r="2.4"/><circle cx="832.7" cy="709.3" r="2.4"/><circle cx="830.9" cy="637.4" r="2.4"/><circle cx="825.0" cy="769.5" r="2.4"/><circle cx="822.5" cy="648.5" r="2.4"/><circle cx="831.5" cy="747.6" r="2.4"/><circle cx="827.5" cy="649.6" r="2.4"/><circle cx="826.6" cy="767.8" r="2.4"/><circle cx="823.3" cy="537.5" r="2.4"/><circle cx="824.8" cy="666.4" r="2.4"/><circle cx="820.5" cy="651.6" r="2.4"/><circle cx="829.8" cy="752.3" r="2.4"/><circle cx="821.0" cy="632.8" r="2.4"/><circle cx="821.8" cy="657.9" r="2.4"/><circle cx="820.8" cy="703.1" r="2.4"/><circle cx="830.5" cy="654.9" r="2.4"/><circle cx="816.6" cy="728.0" r="2.4"/><circle cx="825.8" cy="644.4" r="2.4"/><circle cx="831.4" cy="758.1" r="2.4"/><circle cx="825.5" cy="791.7" r="2.4"/><circle cx="825.0" cy="673.2" r="2.4"/><circle cx="820.4" cy="725.6" r="2.4"/><circle cx="825.8" cy="770.5" r="2.4"/><circle cx="830.4" cy="731.1" r="2.4"/><circle cx="831.8" cy="638.0" r="2.4"/><circle cx="825.8" cy="667.3" r="2.4"/><circle cx="824.8" cy="692.9" r="2.4"/><circle cx="831.3" cy="691.8" r="2.4"/><circle cx="814.5" cy="728.1" r="2.4"/><circle cx="834.4" cy="540.4" r="2.4"/><circle cx="837.2" cy="689.7" r="2.4"/><circle cx="828.3" cy="692.1" r="2.4"/><circle cx="821.9" cy="753.6" r="2.4"/><circle cx="813.9" cy="667.3" r="2.4"/><circle cx="826.3" cy="509.6" r="2.4"/><circle cx="829.4" cy="763.4" r="2.4"/><circle cx="823.2" cy="698.8" r="2.4"/><circle cx="831.2" cy="679.0" r="2.4"/><circle cx="826.4" cy="713.0" r="2.4"/><circle cx="821.7" cy="770.6" r="2.4"/><circle cx="829.5" cy="661.8" r="2.4"/><circle cx="825.1" cy="685.8" r="2.4"/><circle cx="832.4" cy="504.0" r="2.4"/><circle cx="826.1" cy="742.6" r="2.4"/><circle cx="824.3" cy="505.0" r="2.4"/><circle cx="832.9" cy="730.2" r="2.4"/><circle cx="828.3" cy="561.8" r="2.4"/><circle cx="828.4" cy="708.4" r="2.4"/><circle cx="812.9" cy="716.0" r="2.4"/><circle cx="816.4" cy="762.0" r="2.4"/><circle cx="821.8" cy="724.0" r="2.4"/><circle cx="824.8" cy="640.7" r="2.4"/><circle cx="828.5" cy="674.8" r="2.4"/><circle cx="836.4" cy="741.7" r="2.4"/><circle cx="816.6" cy="729.0" r="2.4"/><circle cx="824.3" cy="528.8" r="2.4"/><circle cx="832.0" cy="777.4" r="2.4"/><circle cx="816.3" cy="641.0" r="2.4"/><circle cx="831.0" cy="717.6" r="2.4"/><circle cx="838.2" cy="701.8" r="2.4"/><circle cx="829.6" cy="666.9" r="2.4"/><circle cx="828.3" cy="769.5" r="2.4"/><circle cx="828.2" cy="701.2" r="2.4"/><circle cx="825.2" cy="631.8" r="2.4"/><circle cx="820.0" cy="704.5" r="2.4"/><circle cx="824.9" cy="706.5" r="2.4"/><circle cx="824.1" cy="736.9" r="2.4"/><circle cx="829.4" cy="779.9" r="2.4"/><circle cx="817.9" cy="639.8" r="2.4"/><circle cx="825.3" cy="541.6" r="2.4"/><circle cx="824.0" cy="732.6" r="2.4"/><circle cx="835.2" cy="721.2" r="2.4"/><circle cx="821.7" cy="652.0" r="2.4"/><circle cx="827.2" cy="710.4" r="2.4"/><circle cx="828.3" cy="687.8" r="2.4"/><circle cx="828.8" cy="654.9" r="2.4"/><circle cx="825.6" cy="634.1" r="2.4"/><circle cx="826.1" cy="675.7" r="2.4"/><circle cx="825.0" cy="756.0" r="2.4"/><circle cx="834.9" cy="769.7" r="2.4"/><circle cx="831.1" cy="692.5" r="2.4"/><circle cx="826.2" cy="712.5" r="2.4"/><circle cx="826.1" cy="683.9" r="2.4"/><circle cx="816.5" cy="740.6" r="2.4"/><circle cx="828.0" cy="768.8" r="2.4"/><circle cx="823.8" cy="776.8" r="2.4"/><circle cx="829.6" cy="690.1" r="2.4"/><circle cx="836.8" cy="724.1" r="2.4"/><circle cx="813.2" cy="498.5" r="2.4"/><circle cx="827.0" cy="702.8" r="2.4"/><circle cx="824.6" cy="759.5" r="2.4"/><circle cx="816.4" cy="691.7" r="2.4"/><circle cx="825.2" cy="743.7" r="2.4"/><circle cx="822.3" cy="545.0" r="2.4"/><circle cx="816.1" cy="704.5" r="2.4"/><circle cx="833.4" cy="500.6" r="2.4"/><circle cx="822.7" cy="657.0" r="2.4"/><circle cx="826.3" cy="673.1" r="2.4"/><circle cx="817.9" cy="683.1" r="2.4"/><circle cx="823.2" cy="652.3" r="2.4"/><circle cx="819.6" cy="644.6" r="2.4"/><circle cx="814.9" cy="738.0" r="2.4"/><circle cx="817.8" cy="538.3" r="2.4"/><circle cx="830.3" cy="622.4" r="2.4"/><circle cx="832.5" cy="688.7" r="2.4"/><circle cx="824.9" cy="736.2" r="2.4"/><circle cx="840.9" cy="646.7" r="2.4"/><circle cx="822.8" cy="757.9" r="2.4"/><circle cx="815.1" cy="711.0" r="2.4"/><circle cx="836.3" cy="744.4" r="2.4"/><circle cx="816.1" cy="692.9" r="2.4"/><circle cx="835.1" cy="725.1" r="2.4"/><circle cx="833.0" cy="658.5" r="2.4"/><circle cx="819.5" cy="649.1" r="2.4"/><circle cx="824.2" cy="705.3" r="2.4"/><circle cx="832.1" cy="669.6" r="2.4"/><circle cx="824.1" cy="640.5" r="2.4"/><circle cx="825.9" cy="477.3" r="2.4"/><circle cx="825.6" cy="691.7" r="2.4"/><circle cx="820.4" cy="647.0" r="2.4"/><circle cx="825.9" cy="471.3" r="2.4"/><circle cx="813.9" cy="662.9" r="2.4"/><circle cx="822.8" cy="784.9" r="2.4"/><circle cx="823.9" cy="760.4" r="2.4"/><circle cx="818.1" cy="760.6" r="2.4"/><circle cx="830.0" cy="742.5" r="2.4"/><circle cx="831.5" cy="697.5" r="2.4"/><circle cx="824.3" cy="738.6" r="2.4"/><circle cx="825.0" cy="681.2" r="2.4"/><circle cx="821.1" cy="740.5" r="2.4"/><circle cx="818.1" cy="718.6" r="2.4"/><circle cx="821.2" cy="687.8" r="2.4"/><circle cx="832.7" cy="709.2" r="2.4"/><circle cx="815.9" cy="727.9" r="2.4"/><circle cx="832.4" cy="754.5" r="2.4"/><circle cx="827.1" cy="795.3" r="2.4"/><circle cx="833.4" cy="529.8" r="2.4"/><circle cx="828.9" cy="655.5" r="2.4"/><circle cx="821.4" cy="784.6" r="2.4"/><circle cx="825.3" cy="481.0" r="2.4"/><circle cx="832.1" cy="651.1" r="2.4"/><circle cx="829.0" cy="743.6" r="2.4"/><circle cx="825.8" cy="665.5" r="2.4"/><circle cx="814.5" cy="697.6" r="2.4"/><circle cx="831.3" cy="730.8" r="2.4"/><circle cx="824.3" cy="552.1" r="2.4"/><circle cx="833.7" cy="719.4" r="2.4"/><circle cx="819.6" cy="652.8" r="2.4"/><circle cx="825.3" cy="645.9" r="2.4"/><circle cx="833.3" cy="667.4" r="2.4"/><circle cx="829.3" cy="699.2" r="2.4"/><circle cx="823.4" cy="624.4" r="2.4"/><circle cx="816.2" cy="497.9" r="2.4"/><circle cx="831.1" cy="740.5" r="2.4"/><circle cx="812.8" cy="714.4" r="2.4"/><circle cx="820.3" cy="652.8" r="2.4"/><circle cx="819.9" cy="776.2" r="2.4"/><circle cx="825.9" cy="755.4" r="2.4"/><circle cx="815.6" cy="706.0" r="2.4"/><circle cx="816.5" cy="694.9" r="2.4"/><circle cx="830.3" cy="479.7" r="2.4"/><circle cx="825.1" cy="778.0" r="2.4"/><circle cx="828.4" cy="706.3" r="2.4"/><circle cx="826.5" cy="754.7" r="2.4"/><circle cx="821.3" cy="747.3" r="2.4"/><circle cx="829.3" cy="476.3" r="2.4"/><circle cx="833.0" cy="747.4" r="2.4"/><circle cx="814.8" cy="708.5" r="2.4"/><circle cx="835.7" cy="709.4" r="2.4"/><circle cx="815.3" cy="677.4" r="2.4"/><circle cx="838.9" cy="677.1" r="2.4"/><circle cx="823.1" cy="753.0" r="2.4"/><circle cx="824.5" cy="632.5" r="2.4"/><circle cx="828.0" cy="708.8" r="2.4"/><circle cx="827.1" cy="707.5" r="2.4"/><circle cx="826.6" cy="694.5" r="2.4"/><circle cx="823.9" cy="775.8" r="2.4"/><circle cx="819.5" cy="651.8" r="2.4"/><circle cx="823.2" cy="658.5" r="2.4"/><circle cx="827.3" cy="656.0" r="2.4"/><circle cx="827.8" cy="694.9" r="2.4"/><circle cx="831.3" cy="625.6" r="2.4"/><circle cx="827.6" cy="683.3" r="2.4"/><circle cx="827.3" cy="676.9" r="2.4"/><circle cx="825.7" cy="688.0" r="2.4"/><circle cx="832.0" cy="677.5" r="2.4"/><circle cx="842.1" cy="540.4" r="2.4"/><circle cx="826.3" cy="491.5" r="2.4"/><circle cx="831.3" cy="727.5" r="2.4"/><circle cx="824.3" cy="513.7" r="2.4"/><circle cx="826.3" cy="460.8" r="2.4"/><circle cx="842.6" cy="758.7" r="2.4"/><circle cx="824.4" cy="690.8" r="2.4"/><circle cx="833.1" cy="669.0" r="2.4"/><circle cx="830.0" cy="682.3" r="2.4"/><circle cx="828.9" cy="713.9" r="2.4"/><circle cx="832.2" cy="710.4" r="2.4"/><circle cx="822.9" cy="570.7" r="2.4"/><circle cx="836.4" cy="644.5" r="2.4"/><circle cx="818.9" cy="771.2" r="2.4"/><circle cx="828.4" cy="659.9" r="2.4"/><circle cx="821.1" cy="655.8" r="2.4"/><circle cx="826.3" cy="650.2" r="2.4"/><circle cx="822.6" cy="673.6" r="2.4"/><circle cx="816.9" cy="744.9" r="2.4"/><circle cx="826.3" cy="533.5" r="2.4"/><circle cx="817.3" cy="782.3" r="2.4"/><circle cx="837.7" cy="774.7" r="2.4"/><circle cx="812.2" cy="774.2" r="2.4"/><circle cx="815.1" cy="740.7" r="2.4"/><circle cx="836.5" cy="647.2" r="2.4"/><circle cx="830.5" cy="709.6" r="2.4"/><circle cx="828.9" cy="636.4" r="2.4"/><circle cx="827.0" cy="772.9" r="2.4"/><circle cx="824.2" cy="717.7" r="2.4"/><circle cx="830.8" cy="636.7" r="2.4"/><circle cx="824.1" cy="661.2" r="2.4"/><circle cx="824.7" cy="720.6" r="2.4"/><circle cx="820.1" cy="645.8" r="2.4"/><circle cx="824.6" cy="662.4" r="2.4"/><circle cx="820.7" cy="751.3" r="2.4"/><circle cx="834.8" cy="767.7" r="2.4"/><circle cx="816.6" cy="777.1" r="2.4"/><circle cx="822.5" cy="775.0" r="2.4"/><circle cx="836.4" cy="493.9" r="2.4"/><circle cx="832.4" cy="645.2" r="2.4"/><circle cx="819.7" cy="792.2" r="2.4"/><circle cx="828.2" cy="677.1" r="2.4"/><circle cx="834.5" cy="725.6" r="2.4"/><circle cx="828.3" cy="714.5" r="2.4"/><circle cx="839.7" cy="741.3" r="2.4"/><circle cx="820.2" cy="616.3" r="2.4"/><circle cx="828.0" cy="765.7" r="2.4"/><circle cx="823.4" cy="637.8" r="2.4"/><circle cx="828.3" cy="498.5" r="2.4"/><circle cx="821.7" cy="564.6" r="2.4"/><circle cx="819.2" cy="461.8" r="2.4"/><circle cx="817.6" cy="756.0" r="2.4"/><circle cx="825.6" cy="728.4" r="2.4"/><circle cx="825.8" cy="628.4" r="2.4"/><circle cx="831.2" cy="700.9" r="2.4"/><circle cx="822.1" cy="782.3" r="2.4"/><circle cx="827.1" cy="640.1" r="2.4"/><circle cx="826.4" cy="782.7" r="2.4"/><circle cx="835.5" cy="665.0" r="2.4"/><circle cx="823.8" cy="661.1" r="2.4"/><circle cx="823.4" cy="629.7" r="2.4"/><circle cx="824.8" cy="727.4" r="2.4"/><circle cx="816.9" cy="738.7" r="2.4"/><circle cx="817.2" cy="486.8" r="2.4"/><circle cx="824.0" cy="744.1" r="2.4"/><circle cx="829.1" cy="670.4" r="2.4"/><circle cx="825.3" cy="516.1" r="2.4"/><circle cx="822.6" cy="712.8" r="2.4"/><circle cx="829.3" cy="699.1" r="2.4"/><circle cx="832.0" cy="523.4" r="2.4"/><circle cx="832.2" cy="655.2" r="2.4"/><circle cx="830.9" cy="719.0" r="2.4"/><circle cx="819.2" cy="714.9" r="2.4"/><circle cx="823.3" cy="530.9" r="2.4"/><circle cx="824.7" cy="780.8" r="2.4"/><circle cx="821.3" cy="510.7" r="2.4"/><circle cx="828.3" cy="450.1" r="2.4"/><circle cx="824.6" cy="768.6" r="2.4"/><circle cx="827.2" cy="624.3" r="2.4"/><circle cx="827.5" cy="683.3" r="2.4"/><circle cx="830.3" cy="511.7" r="2.4"/><circle cx="819.1" cy="657.8" r="2.4"/><circle cx="816.7" cy="681.6" r="2.4"/><circle cx="828.9" cy="465.2" r="2.4"/><circle cx="825.7" cy="671.2" r="2.4"/><circle cx="827.8" cy="685.0" r="2.4"/><circle cx="833.4" cy="545.4" r="2.4"/><circle cx="824.8" cy="698.2" r="2.4"/><circle cx="830.3" cy="742.6" r="2.4"/><circle cx="819.8" cy="669.2" r="2.4"/><circle cx="829.2" cy="668.9" r="2.4"/><circle cx="823.1" cy="765.7" r="2.4"/><circle cx="824.0" cy="766.5" r="2.4"/><circle cx="823.2" cy="702.5" r="2.4"/><circle cx="834.3" cy="699.8" r="2.4"/><circle cx="828.1" cy="663.9" r="2.4"/><circle cx="839.0" cy="751.8" r="2.4"/><circle cx="827.9" cy="537.9" r="2.4"/><circle cx="815.5" cy="776.9" r="2.4"/><circle cx="827.3" cy="555.1" r="2.4"/><circle cx="815.1" cy="774.6" r="2.4"/><circle cx="832.2" cy="743.7" r="2.4"/><circle cx="827.2" cy="747.3" r="2.4"/><circle cx="820.1" cy="767.5" r="2.4"/><circle cx="828.4" cy="642.4" r="2.4"/><circle cx="831.5" cy="670.8" r="2.4"/><circle cx="832.7" cy="637.9" r="2.4"/><circle cx="822.2" cy="635.3" r="2.4"/><circle cx="828.0" cy="701.8" r="2.4"/><circle cx="818.2" cy="685.0" r="2.4"/><circle cx="821.9" cy="674.0" r="2.4"/><circle cx="823.9" cy="694.5" r="2.4"/><circle cx="829.3" cy="470.7" r="2.4"/><circle cx="826.2" cy="642.2" r="2.4"/></g><g fill="#df4640" fill-opacity="0.8" stroke="#ffffff" stroke-opacity="0.8" stroke-width="0.65"><circle cx="927.9" cy="644.0" r="2.4"/><circle cx="929.1" cy="567.4" r="2.4"/><circle cx="941.1" cy="674.4" r="2.4"/><circle cx="931.5" cy="663.9" r="2.4"/><circle cx="940.9" cy="596.0" r="2.4"/><circle cx="938.8" cy="718.4" r="2.4"/><circle cx="935.9" cy="668.4" r="2.4"/><circle cx="944.4" cy="316.8" r="2.4"/><circle cx="939.8" cy="623.5" r="2.4"/><circle cx="935.7" cy="628.7" r="2.4"/><circle cx="930.7" cy="593.8" r="2.4"/><circle cx="936.3" cy="621.1" r="2.4"/><circle cx="941.6" cy="678.8" r="2.4"/><circle cx="941.3" cy="605.0" r="2.4"/><circle cx="951.3" cy="596.2" r="2.4"/><circle cx="940.9" cy="544.2" r="2.4"/><circle cx="935.7" cy="590.7" r="2.4"/><circle cx="932.2" cy="601.9" r="2.4"/><circle cx="937.4" cy="628.1" r="2.4"/><circle cx="937.9" cy="639.4" r="2.4"/><circle cx="938.4" cy="577.7" r="2.4"/><circle cx="942.9" cy="599.5" r="2.4"/><circle cx="935.3" cy="714.8" r="2.4"/><circle cx="932.2" cy="647.0" r="2.4"/><circle cx="943.6" cy="627.9" r="2.4"/><circle cx="940.6" cy="603.0" r="2.4"/><circle cx="940.3" cy="441.6" r="2.4"/><circle cx="927.5" cy="564.1" r="2.4"/><circle cx="933.2" cy="594.3" r="2.4"/><circle cx="928.8" cy="667.9" r="2.4"/><circle cx="938.8" cy="546.6" r="2.4"/><circle cx="929.8" cy="557.2" r="2.4"/><circle cx="942.1" cy="560.0" r="2.4"/><circle cx="944.1" cy="613.1" r="2.4"/><circle cx="939.3" cy="633.0" r="2.4"/><circle cx="931.4" cy="702.8" r="2.4"/><circle cx="935.6" cy="579.2" r="2.4"/><circle cx="926.6" cy="351.7" r="2.4"/><circle cx="939.7" cy="551.0" r="2.4"/><circle cx="936.5" cy="716.8" r="2.4"/><circle cx="935.0" cy="619.5" r="2.4"/><circle cx="937.3" cy="440.6" r="2.4"/><circle cx="937.6" cy="602.4" r="2.4"/><circle cx="944.0" cy="506.0" r="2.4"/><circle cx="935.9" cy="655.7" r="2.4"/><circle cx="935.3" cy="547.1" r="2.4"/><circle cx="942.2" cy="542.2" r="2.4"/><circle cx="933.8" cy="671.2" r="2.4"/><circle cx="934.0" cy="596.3" r="2.4"/><circle cx="940.2" cy="682.8" r="2.4"/><circle cx="935.0" cy="642.7" r="2.4"/><circle cx="945.8" cy="629.9" r="2.4"/><circle cx="935.0" cy="584.9" r="2.4"/><circle cx="922.5" cy="585.2" r="2.4"/><circle cx="945.8" cy="415.8" r="2.4"/><circle cx="932.3" cy="692.0" r="2.4"/><circle cx="945.3" cy="602.6" r="2.4"/><circle cx="933.1" cy="589.3" r="2.4"/><circle cx="932.7" cy="373.5" r="2.4"/><circle cx="939.7" cy="704.7" r="2.4"/><circle cx="932.7" cy="690.0" r="2.4"/><circle cx="926.9" cy="615.1" r="2.4"/><circle cx="938.2" cy="583.4" r="2.4"/><circle cx="931.4" cy="614.2" r="2.4"/><circle cx="943.7" cy="657.1" r="2.4"/><circle cx="944.8" cy="582.2" r="2.4"/><circle cx="937.5" cy="682.6" r="2.4"/><circle cx="950.0" cy="334.5" r="2.4"/><circle cx="941.4" cy="516.2" r="2.4"/><circle cx="939.1" cy="543.9" r="2.4"/><circle cx="936.8" cy="617.0" r="2.4"/><circle cx="938.2" cy="568.1" r="2.4"/><circle cx="940.4" cy="555.9" r="2.4"/><circle cx="935.6" cy="647.7" r="2.4"/><circle cx="941.3" cy="601.1" r="2.4"/><circle cx="935.3" cy="358.4" r="2.4"/><circle cx="938.1" cy="671.5" r="2.4"/><circle cx="942.8" cy="591.7" r="2.4"/><circle cx="938.4" cy="573.8" r="2.4"/><circle cx="933.5" cy="515.3" r="2.4"/><circle cx="941.1" cy="574.5" r="2.4"/><circle cx="945.7" cy="603.5" r="2.4"/><circle cx="936.6" cy="685.5" r="2.4"/><circle cx="936.9" cy="577.8" r="2.4"/><circle cx="936.0" cy="602.7" r="2.4"/><circle cx="939.5" cy="633.6" r="2.4"/><circle cx="945.1" cy="612.3" r="2.4"/><circle cx="946.9" cy="678.0" r="2.4"/><circle cx="932.0" cy="503.0" r="2.4"/><circle cx="941.8" cy="632.2" r="2.4"/><circle cx="939.4" cy="616.8" r="2.4"/><circle cx="937.2" cy="547.3" r="2.4"/><circle cx="937.8" cy="678.2" r="2.4"/><circle cx="927.2" cy="417.0" r="2.4"/><circle cx="938.7" cy="666.8" r="2.4"/><circle cx="942.9" cy="586.3" r="2.4"/><circle cx="935.2" cy="572.4" r="2.4"/><circle cx="926.3" cy="589.2" r="2.4"/><circle cx="944.6" cy="545.6" r="2.4"/><circle cx="941.1" cy="609.8" r="2.4"/><circle cx="939.5" cy="617.4" r="2.4"/><circle cx="939.8" cy="697.5" r="2.4"/><circle cx="927.9" cy="637.8" r="2.4"/><circle cx="939.3" cy="327.9" r="2.4"/><circle cx="930.9" cy="603.0" r="2.4"/><circle cx="935.0" cy="687.2" r="2.4"/><circle cx="936.4" cy="647.1" r="2.4"/><circle cx="937.4" cy="632.3" r="2.4"/><circle cx="939.7" cy="450.3" r="2.4"/><circle cx="930.2" cy="665.2" r="2.4"/><circle cx="936.1" cy="587.3" r="2.4"/><circle cx="936.8" cy="592.1" r="2.4"/><circle cx="932.1" cy="562.6" r="2.4"/><circle cx="934.9" cy="553.0" r="2.4"/><circle cx="929.2" cy="640.1" r="2.4"/><circle cx="944.1" cy="702.2" r="2.4"/><circle cx="942.0" cy="592.1" r="2.4"/><circle cx="938.2" cy="629.7" r="2.4"/><circle cx="947.4" cy="687.1" r="2.4"/><circle cx="935.2" cy="549.0" r="2.4"/><circle cx="937.8" cy="689.8" r="2.4"/><circle cx="929.6" cy="644.5" r="2.4"/><circle cx="934.0" cy="541.6" r="2.4"/><circle cx="942.3" cy="686.5" r="2.4"/><circle cx="945.0" cy="660.5" r="2.4"/><circle cx="934.8" cy="654.9" r="2.4"/><circle cx="957.4" cy="643.0" r="2.4"/><circle cx="944.2" cy="674.7" r="2.4"/><circle cx="957.4" cy="546.0" r="2.4"/><circle cx="938.3" cy="531.3" r="2.4"/><circle cx="941.4" cy="631.7" r="2.4"/><circle cx="933.1" cy="610.9" r="2.4"/><circle cx="936.8" cy="632.9" r="2.4"/><circle cx="932.9" cy="604.9" r="2.4"/><circle cx="938.9" cy="680.7" r="2.4"/><circle cx="941.2" cy="657.0" r="2.4"/><circle cx="922.9" cy="715.8" r="2.4"/><circle cx="933.8" cy="654.1" r="2.4"/><circle cx="942.3" cy="550.1" r="2.4"/><circle cx="934.3" cy="544.4" r="2.4"/><circle cx="936.6" cy="636.4" r="2.4"/><circle cx="938.9" cy="389.1" r="2.4"/><circle cx="938.7" cy="570.1" r="2.4"/><circle cx="944.7" cy="695.8" r="2.4"/><circle cx="933.9" cy="680.4" r="2.4"/><circle cx="936.9" cy="612.9" r="2.4"/><circle cx="934.1" cy="617.2" r="2.4"/><circle cx="933.1" cy="548.3" r="2.4"/><circle cx="939.5" cy="610.1" r="2.4"/><circle cx="940.8" cy="593.5" r="2.4"/><circle cx="944.0" cy="606.1" r="2.4"/><circle cx="939.9" cy="578.2" r="2.4"/><circle cx="932.6" cy="642.8" r="2.4"/><circle cx="947.3" cy="716.0" r="2.4"/><circle cx="939.4" cy="571.5" r="2.4"/><circle cx="930.1" cy="605.6" r="2.4"/><circle cx="933.0" cy="539.0" r="2.4"/><circle cx="933.2" cy="605.1" r="2.4"/><circle cx="932.5" cy="667.1" r="2.4"/><circle cx="937.2" cy="662.5" r="2.4"/><circle cx="942.2" cy="624.4" r="2.4"/><circle cx="924.2" cy="619.5" r="2.4"/><circle cx="928.7" cy="517.0" r="2.4"/><circle cx="939.2" cy="543.5" r="2.4"/><circle cx="945.7" cy="618.8" r="2.4"/><circle cx="934.1" cy="644.0" r="2.4"/><circle cx="932.1" cy="558.8" r="2.4"/><circle cx="942.0" cy="614.7" r="2.4"/><circle cx="935.0" cy="715.1" r="2.4"/><circle cx="944.8" cy="602.0" r="2.4"/><circle cx="931.7" cy="625.5" r="2.4"/><circle cx="923.8" cy="642.6" r="2.4"/><circle cx="936.9" cy="419.4" r="2.4"/><circle cx="931.0" cy="650.4" r="2.4"/><circle cx="938.8" cy="711.3" r="2.4"/><circle cx="930.2" cy="427.5" r="2.4"/><circle cx="946.4" cy="419.4" r="2.4"/><circle cx="930.3" cy="679.8" r="2.4"/><circle cx="943.1" cy="580.1" r="2.4"/><circle cx="935.9" cy="633.0" r="2.4"/><circle cx="946.3" cy="642.4" r="2.4"/><circle cx="929.7" cy="567.5" r="2.4"/><circle cx="939.4" cy="554.3" r="2.4"/><circle cx="936.3" cy="644.7" r="2.4"/><circle cx="932.7" cy="608.7" r="2.4"/><circle cx="942.4" cy="592.1" r="2.4"/><circle cx="941.6" cy="559.7" r="2.4"/><circle cx="942.0" cy="612.3" r="2.4"/><circle cx="938.0" cy="617.5" r="2.4"/><circle cx="938.0" cy="591.5" r="2.4"/><circle cx="944.4" cy="556.2" r="2.4"/><circle cx="934.0" cy="626.2" r="2.4"/><circle cx="939.5" cy="589.2" r="2.4"/><circle cx="940.0" cy="697.5" r="2.4"/><circle cx="926.7" cy="584.2" r="2.4"/><circle cx="940.5" cy="700.2" r="2.4"/><circle cx="925.3" cy="622.4" r="2.4"/><circle cx="935.3" cy="604.9" r="2.4"/><circle cx="946.9" cy="615.0" r="2.4"/><circle cx="933.5" cy="688.3" r="2.4"/><circle cx="939.4" cy="717.1" r="2.4"/><circle cx="932.9" cy="362.8" r="2.4"/><circle cx="944.6" cy="630.4" r="2.4"/><circle cx="938.7" cy="622.3" r="2.4"/><circle cx="931.6" cy="609.2" r="2.4"/><circle cx="938.9" cy="673.1" r="2.4"/><circle cx="934.2" cy="713.0" r="2.4"/><circle cx="935.3" cy="414.3" r="2.4"/><circle cx="944.5" cy="591.3" r="2.4"/><circle cx="937.3" cy="631.1" r="2.4"/><circle cx="942.3" cy="573.4" r="2.4"/><circle cx="934.5" cy="622.9" r="2.4"/><circle cx="939.0" cy="549.5" r="2.4"/><circle cx="936.9" cy="676.5" r="2.4"/><circle cx="925.1" cy="619.6" r="2.4"/><circle cx="933.9" cy="551.2" r="2.4"/><circle cx="937.1" cy="579.4" r="2.4"/><circle cx="935.2" cy="631.5" r="2.4"/><circle cx="939.9" cy="587.6" r="2.4"/><circle cx="938.5" cy="661.5" r="2.4"/><circle cx="926.6" cy="617.9" r="2.4"/><circle cx="946.1" cy="553.5" r="2.4"/><circle cx="937.3" cy="412.3" r="2.4"/><circle cx="934.8" cy="659.7" r="2.4"/><circle cx="928.0" cy="507.0" r="2.4"/><circle cx="941.6" cy="611.2" r="2.4"/><circle cx="935.9" cy="534.0" r="2.4"/><circle cx="932.8" cy="652.6" r="2.4"/><circle cx="952.7" cy="662.2" r="2.4"/><circle cx="941.4" cy="602.1" r="2.4"/><circle cx="950.0" cy="641.1" r="2.4"/><circle cx="936.1" cy="653.0" r="2.4"/><circle cx="947.1" cy="663.4" r="2.4"/><circle cx="943.5" cy="564.5" r="2.4"/><circle cx="937.8" cy="605.8" r="2.4"/><circle cx="944.4" cy="579.0" r="2.4"/><circle cx="938.3" cy="644.3" r="2.4"/><circle cx="941.8" cy="602.8" r="2.4"/><circle cx="944.5" cy="630.2" r="2.4"/><circle cx="943.4" cy="606.8" r="2.4"/><circle cx="939.6" cy="584.1" r="2.4"/><circle cx="932.3" cy="669.0" r="2.4"/><circle cx="937.1" cy="585.7" r="2.4"/><circle cx="942.0" cy="720.7" r="2.4"/><circle cx="937.3" cy="432.5" r="2.4"/><circle cx="940.9" cy="571.9" r="2.4"/><circle cx="942.2" cy="560.7" r="2.4"/><circle cx="940.8" cy="621.0" r="2.4"/><circle cx="945.9" cy="623.5" r="2.4"/><circle cx="930.9" cy="675.1" r="2.4"/><circle cx="938.1" cy="719.8" r="2.4"/><circle cx="946.6" cy="596.2" r="2.4"/><circle cx="938.7" cy="374.5" r="2.4"/><circle cx="930.3" cy="577.9" r="2.4"/><circle cx="940.2" cy="614.0" r="2.4"/><circle cx="936.8" cy="596.2" r="2.4"/><circle cx="933.0" cy="649.5" r="2.4"/><circle cx="941.3" cy="582.7" r="2.4"/><circle cx="937.1" cy="606.4" r="2.4"/><circle cx="947.3" cy="644.4" r="2.4"/><circle cx="922.4" cy="602.4" r="2.4"/><circle cx="940.3" cy="522.6" r="2.4"/><circle cx="925.6" cy="656.8" r="2.4"/><circle cx="930.7" cy="682.6" r="2.4"/><circle cx="940.3" cy="406.9" r="2.4"/><circle cx="931.2" cy="326.9" r="2.4"/><circle cx="941.4" cy="652.6" r="2.4"/><circle cx="943.8" cy="581.6" r="2.4"/><circle cx="938.7" cy="623.2" r="2.4"/><circle cx="928.2" cy="681.9" r="2.4"/><circle cx="941.7" cy="533.0" r="2.4"/><circle cx="938.8" cy="568.0" r="2.4"/><circle cx="940.2" cy="605.8" r="2.4"/><circle cx="931.0" cy="643.4" r="2.4"/><circle cx="937.5" cy="681.1" r="2.4"/><circle cx="941.7" cy="433.1" r="2.4"/><circle cx="933.0" cy="716.3" r="2.4"/><circle cx="939.5" cy="684.0" r="2.4"/><circle cx="942.6" cy="683.2" r="2.4"/><circle cx="929.3" cy="559.4" r="2.4"/><circle cx="934.2" cy="584.4" r="2.4"/><circle cx="931.4" cy="534.6" r="2.4"/><circle cx="942.7" cy="682.2" r="2.4"/><circle cx="938.8" cy="665.2" r="2.4"/><circle cx="933.9" cy="624.4" r="2.4"/><circle cx="933.5" cy="529.3" r="2.4"/><circle cx="934.0" cy="557.8" r="2.4"/><circle cx="927.3" cy="550.6" r="2.4"/><circle cx="933.1" cy="682.5" r="2.4"/><circle cx="946.2" cy="584.9" r="2.4"/><circle cx="945.3" cy="605.6" r="2.4"/><circle cx="936.1" cy="712.4" r="2.4"/><circle cx="942.2" cy="563.5" r="2.4"/><circle cx="946.4" cy="334.5" r="2.4"/><circle cx="925.2" cy="585.4" r="2.4"/><circle cx="936.3" cy="315.4" r="2.4"/><circle cx="941.7" cy="384.6" r="2.4"/><circle cx="936.7" cy="550.9" r="2.4"/><circle cx="938.3" cy="556.5" r="2.4"/><circle cx="942.5" cy="614.3" r="2.4"/><circle cx="935.0" cy="614.5" r="2.4"/><circle cx="929.2" cy="592.2" r="2.4"/><circle cx="935.9" cy="592.0" r="2.4"/><circle cx="933.7" cy="609.8" r="2.4"/><circle cx="932.8" cy="638.4" r="2.4"/><circle cx="940.5" cy="674.4" r="2.4"/><circle cx="935.5" cy="716.2" r="2.4"/><circle cx="945.1" cy="607.1" r="2.4"/><circle cx="934.0" cy="607.3" r="2.4"/><circle cx="930.3" cy="719.3" r="2.4"/><circle cx="940.4" cy="596.9" r="2.4"/><circle cx="932.6" cy="581.6" r="2.4"/><circle cx="943.9" cy="575.4" r="2.4"/><circle cx="941.3" cy="309.9" r="2.4"/><circle cx="952.3" cy="604.6" r="2.4"/><circle cx="929.9" cy="599.8" r="2.4"/><circle cx="942.3" cy="654.7" r="2.4"/><circle cx="935.4" cy="552.1" r="2.4"/><circle cx="938.1" cy="569.9" r="2.4"/><circle cx="936.8" cy="587.9" r="2.4"/><circle cx="940.3" cy="646.4" r="2.4"/><circle cx="938.5" cy="624.9" r="2.4"/><circle cx="928.1" cy="585.8" r="2.4"/><circle cx="928.1" cy="643.6" r="2.4"/><circle cx="937.1" cy="585.6" r="2.4"/><circle cx="936.2" cy="705.6" r="2.4"/><circle cx="939.9" cy="511.1" r="2.4"/><circle cx="937.1" cy="593.2" r="2.4"/><circle cx="937.1" cy="597.2" r="2.4"/><circle cx="937.5" cy="554.2" r="2.4"/><circle cx="939.3" cy="587.4" r="2.4"/><circle cx="929.7" cy="596.6" r="2.4"/><circle cx="948.4" cy="704.7" r="2.4"/><circle cx="938.8" cy="593.5" r="2.4"/><circle cx="927.1" cy="609.3" r="2.4"/><circle cx="934.8" cy="717.7" r="2.4"/><circle cx="940.5" cy="624.5" r="2.4"/><circle cx="936.6" cy="603.6" r="2.4"/><circle cx="947.1" cy="573.7" r="2.4"/><circle cx="937.3" cy="608.8" r="2.4"/><circle cx="945.7" cy="632.4" r="2.4"/><circle cx="934.8" cy="658.1" r="2.4"/><circle cx="936.2" cy="548.1" r="2.4"/><circle cx="943.1" cy="588.9" r="2.4"/><circle cx="943.1" cy="634.4" r="2.4"/><circle cx="940.3" cy="339.6" r="2.4"/><circle cx="938.9" cy="649.7" r="2.4"/><circle cx="931.7" cy="561.8" r="2.4"/><circle cx="946.0" cy="617.3" r="2.4"/><circle cx="937.3" cy="350.3" r="2.4"/><circle cx="943.2" cy="691.3" r="2.4"/><circle cx="938.3" cy="562.5" r="2.4"/><circle cx="942.0" cy="636.3" r="2.4"/><circle cx="934.1" cy="638.2" r="2.4"/><circle cx="942.9" cy="599.1" r="2.4"/><circle cx="923.5" cy="665.4" r="2.4"/><circle cx="934.2" cy="620.5" r="2.4"/><circle cx="941.3" cy="370.9" r="2.4"/><circle cx="939.1" cy="572.3" r="2.4"/><circle cx="946.7" cy="574.7" r="2.4"/><circle cx="930.7" cy="563.6" r="2.4"/><circle cx="939.5" cy="492.5" r="2.4"/><circle cx="925.8" cy="578.0" r="2.4"/><circle cx="931.0" cy="592.6" r="2.4"/><circle cx="936.1" cy="641.2" r="2.4"/><circle cx="928.2" cy="663.9" r="2.4"/><circle cx="931.6" cy="655.0" r="2.4"/><circle cx="937.0" cy="582.6" r="2.4"/><circle cx="935.3" cy="368.9" r="2.4"/><circle cx="942.1" cy="706.0" r="2.4"/><circle cx="941.0" cy="692.5" r="2.4"/><circle cx="957.4" cy="710.1" r="2.4"/><circle cx="938.0" cy="540.4" r="2.4"/><circle cx="943.8" cy="548.7" r="2.4"/><circle cx="941.2" cy="646.7" r="2.4"/><circle cx="936.2" cy="717.3" r="2.4"/><circle cx="925.4" cy="618.2" r="2.4"/><circle cx="935.9" cy="614.4" r="2.4"/><circle cx="934.2" cy="517.7" r="2.4"/><circle cx="942.4" cy="379.0" r="2.4"/><circle cx="944.9" cy="551.0" r="2.4"/><circle cx="950.2" cy="662.2" r="2.4"/><circle cx="934.7" cy="359.8" r="2.4"/><circle cx="936.0" cy="503.5" r="2.4"/><circle cx="935.5" cy="666.9" r="2.4"/><circle cx="951.5" cy="681.7" r="2.4"/><circle cx="934.7" cy="609.1" r="2.4"/><circle cx="939.6" cy="573.7" r="2.4"/><circle cx="938.7" cy="609.6" r="2.4"/><circle cx="932.5" cy="541.5" r="2.4"/><circle cx="937.4" cy="679.2" r="2.4"/><circle cx="930.1" cy="645.9" r="2.4"/><circle cx="926.5" cy="631.4" r="2.4"/><circle cx="924.9" cy="622.8" r="2.4"/><circle cx="941.8" cy="579.1" r="2.4"/><circle cx="935.5" cy="559.5" r="2.4"/><circle cx="944.3" cy="591.9" r="2.4"/><circle cx="931.4" cy="648.9" r="2.4"/><circle cx="929.0" cy="592.4" r="2.4"/><circle cx="937.2" cy="606.3" r="2.4"/><circle cx="935.0" cy="573.1" r="2.4"/><circle cx="940.9" cy="608.2" r="2.4"/><circle cx="931.6" cy="622.3" r="2.4"/><circle cx="931.6" cy="546.2" r="2.4"/><circle cx="941.5" cy="529.4" r="2.4"/><circle cx="930.4" cy="672.5" r="2.4"/><circle cx="944.2" cy="658.6" r="2.4"/><circle cx="927.5" cy="627.5" r="2.4"/><circle cx="930.6" cy="645.6" r="2.4"/><circle cx="937.5" cy="634.7" r="2.4"/><circle cx="931.9" cy="642.8" r="2.4"/><circle cx="935.8" cy="606.1" r="2.4"/><circle cx="934.9" cy="641.7" r="2.4"/><circle cx="939.3" cy="582.4" r="2.4"/><circle cx="941.1" cy="719.1" r="2.4"/><circle cx="930.9" cy="663.4" r="2.4"/><circle cx="935.8" cy="548.5" r="2.4"/><circle cx="937.0" cy="629.8" r="2.4"/><circle cx="946.4" cy="370.5" r="2.4"/><circle cx="937.1" cy="570.5" r="2.4"/><circle cx="931.6" cy="603.2" r="2.4"/><circle cx="939.9" cy="548.1" r="2.4"/><circle cx="933.4" cy="623.9" r="2.4"/><circle cx="930.6" cy="610.1" r="2.4"/><circle cx="928.6" cy="642.8" r="2.4"/><circle cx="932.4" cy="559.1" r="2.4"/><circle cx="939.8" cy="617.3" r="2.4"/><circle cx="942.8" cy="621.0" r="2.4"/><circle cx="944.8" cy="588.7" r="2.4"/><circle cx="931.6" cy="554.2" r="2.4"/><circle cx="928.9" cy="699.4" r="2.4"/><circle cx="944.0" cy="613.6" r="2.4"/><circle cx="937.3" cy="617.9" r="2.4"/><circle cx="936.9" cy="695.4" r="2.4"/><circle cx="937.6" cy="527.7" r="2.4"/><circle cx="946.6" cy="632.6" r="2.4"/><circle cx="940.9" cy="391.1" r="2.4"/><circle cx="929.2" cy="673.6" r="2.4"/><circle cx="929.4" cy="610.9" r="2.4"/><circle cx="934.8" cy="628.9" r="2.4"/><circle cx="950.5" cy="685.8" r="2.4"/><circle cx="930.2" cy="594.6" r="2.4"/><circle cx="934.2" cy="631.3" r="2.4"/><circle cx="935.6" cy="584.1" r="2.4"/><circle cx="940.4" cy="635.1" r="2.4"/><circle cx="926.6" cy="676.8" r="2.4"/><circle cx="938.3" cy="324.0" r="2.4"/><circle cx="936.5" cy="618.5" r="2.4"/><circle cx="945.7" cy="716.1" r="2.4"/><circle cx="937.5" cy="598.6" r="2.4"/><circle cx="943.1" cy="626.0" r="2.4"/><circle cx="935.9" cy="612.6" r="2.4"/><circle cx="932.4" cy="609.0" r="2.4"/><circle cx="938.1" cy="545.2" r="2.4"/><circle cx="937.3" cy="651.4" r="2.4"/><circle cx="938.6" cy="660.8" r="2.4"/><circle cx="933.6" cy="578.8" r="2.4"/><circle cx="949.8" cy="612.3" r="2.4"/><circle cx="933.5" cy="543.9" r="2.4"/><circle cx="941.3" cy="657.2" r="2.4"/><circle cx="935.7" cy="715.2" r="2.4"/><circle cx="943.3" cy="625.0" r="2.4"/><circle cx="932.4" cy="580.0" r="2.4"/><circle cx="932.3" cy="321.4" r="2.4"/><circle cx="934.7" cy="625.9" r="2.4"/><circle cx="934.2" cy="570.1" r="2.4"/><circle cx="934.9" cy="619.8" r="2.4"/><circle cx="946.2" cy="613.7" r="2.4"/><circle cx="939.1" cy="679.3" r="2.4"/><circle cx="944.0" cy="431.1" r="2.4"/><circle cx="931.2" cy="582.4" r="2.4"/><circle cx="934.6" cy="707.4" r="2.4"/><circle cx="928.8" cy="559.8" r="2.4"/><circle cx="938.6" cy="597.7" r="2.4"/><circle cx="928.4" cy="582.1" r="2.4"/><circle cx="931.7" cy="599.6" r="2.4"/><circle cx="926.4" cy="653.8" r="2.4"/><circle cx="940.7" cy="643.6" r="2.4"/><circle cx="939.7" cy="597.6" r="2.4"/><circle cx="932.2" cy="602.7" r="2.4"/><circle cx="945.6" cy="543.0" r="2.4"/><circle cx="934.5" cy="682.9" r="2.4"/><circle cx="928.2" cy="545.8" r="2.4"/><circle cx="935.7" cy="544.5" r="2.4"/><circle cx="936.8" cy="541.3" r="2.4"/><circle cx="940.4" cy="639.7" r="2.4"/><circle cx="931.1" cy="558.2" r="2.4"/><circle cx="929.9" cy="577.8" r="2.4"/><circle cx="953.8" cy="660.2" r="2.4"/><circle cx="945.0" cy="495.0" r="2.4"/><circle cx="937.2" cy="595.6" r="2.4"/><circle cx="936.7" cy="574.2" r="2.4"/><circle cx="943.9" cy="713.6" r="2.4"/><circle cx="929.2" cy="390.1" r="2.4"/><circle cx="928.8" cy="617.1" r="2.4"/><circle cx="933.6" cy="633.8" r="2.4"/><circle cx="931.9" cy="679.2" r="2.4"/><circle cx="932.0" cy="582.4" r="2.4"/><circle cx="934.3" cy="425.0" r="2.4"/><circle cx="939.1" cy="656.2" r="2.4"/><circle cx="948.8" cy="624.3" r="2.4"/><circle cx="934.5" cy="559.1" r="2.4"/><circle cx="934.8" cy="671.3" r="2.4"/><circle cx="928.5" cy="666.7" r="2.4"/><circle cx="933.0" cy="698.3" r="2.4"/><circle cx="927.6" cy="611.7" r="2.4"/><circle cx="932.3" cy="714.1" r="2.4"/><circle cx="937.6" cy="605.5" r="2.4"/><circle cx="932.7" cy="576.7" r="2.4"/><circle cx="929.2" cy="309.9" r="2.4"/><circle cx="931.9" cy="606.8" r="2.4"/><circle cx="954.9" cy="717.7" r="2.4"/><circle cx="940.6" cy="655.9" r="2.4"/><circle cx="939.4" cy="546.4" r="2.4"/><circle cx="943.5" cy="680.3" r="2.4"/><circle cx="925.1" cy="676.3" r="2.4"/><circle cx="938.6" cy="703.9" r="2.4"/><circle cx="952.9" cy="695.8" r="2.4"/><circle cx="940.2" cy="612.6" r="2.4"/><circle cx="948.6" cy="581.7" r="2.4"/><circle cx="924.7" cy="640.0" r="2.4"/><circle cx="949.2" cy="644.8" r="2.4"/><circle cx="939.3" cy="423.8" r="2.4"/><circle cx="950.9" cy="600.2" r="2.4"/><circle cx="950.8" cy="544.8" r="2.4"/><circle cx="945.3" cy="522.3" r="2.4"/><circle cx="942.8" cy="602.6" r="2.4"/><circle cx="934.1" cy="655.6" r="2.4"/><circle cx="935.0" cy="665.4" r="2.4"/><circle cx="930.2" cy="674.9" r="2.4"/><circle cx="940.9" cy="620.6" r="2.4"/><circle cx="923.1" cy="591.0" r="2.4"/><circle cx="944.9" cy="618.1" r="2.4"/><circle cx="934.2" cy="617.5" r="2.4"/><circle cx="946.1" cy="550.3" r="2.4"/><circle cx="921.6" cy="540.8" r="2.4"/><circle cx="934.3" cy="611.4" r="2.4"/><circle cx="944.5" cy="599.7" r="2.4"/><circle cx="939.3" cy="628.7" r="2.4"/><circle cx="943.1" cy="622.9" r="2.4"/><circle cx="925.6" cy="720.8" r="2.4"/><circle cx="925.5" cy="646.6" r="2.4"/><circle cx="937.1" cy="651.1" r="2.4"/><circle cx="942.2" cy="629.2" r="2.4"/><circle cx="951.6" cy="634.1" r="2.4"/><circle cx="935.5" cy="587.9" r="2.4"/><circle cx="948.1" cy="606.7" r="2.4"/><circle cx="935.7" cy="625.8" r="2.4"/><circle cx="943.2" cy="564.1" r="2.4"/><circle cx="937.2" cy="547.3" r="2.4"/><circle cx="939.5" cy="598.9" r="2.4"/><circle cx="937.0" cy="636.8" r="2.4"/><circle cx="942.3" cy="592.4" r="2.4"/><circle cx="933.5" cy="551.1" r="2.4"/><circle cx="941.8" cy="698.6" r="2.4"/><circle cx="931.3" cy="674.0" r="2.4"/><circle cx="939.7" cy="665.2" r="2.4"/><circle cx="934.0" cy="624.9" r="2.4"/><circle cx="938.7" cy="707.6" r="2.4"/><circle cx="941.6" cy="569.3" r="2.4"/><circle cx="931.7" cy="510.3" r="2.4"/><circle cx="946.4" cy="599.8" r="2.4"/><circle cx="933.8" cy="532.1" r="2.4"/><circle cx="938.6" cy="625.2" r="2.4"/><circle cx="938.3" cy="443.2" r="2.4"/><circle cx="946.9" cy="574.4" r="2.4"/><circle cx="928.1" cy="570.1" r="2.4"/><circle cx="937.0" cy="552.1" r="2.4"/><circle cx="950.6" cy="605.7" r="2.4"/><circle cx="939.1" cy="620.2" r="2.4"/><circle cx="937.9" cy="513.8" r="2.4"/><circle cx="937.7" cy="515.9" r="2.4"/><circle cx="926.6" cy="638.7" r="2.4"/><circle cx="930.7" cy="545.0" r="2.4"/><circle cx="935.4" cy="604.3" r="2.4"/><circle cx="943.9" cy="618.4" r="2.4"/><circle cx="945.0" cy="593.2" r="2.4"/><circle cx="933.2" cy="655.2" r="2.4"/><circle cx="946.9" cy="656.0" r="2.4"/><circle cx="929.3" cy="600.6" r="2.4"/><circle cx="941.3" cy="316.0" r="2.4"/><circle cx="943.7" cy="626.9" r="2.4"/><circle cx="932.4" cy="547.9" r="2.4"/><circle cx="948.0" cy="668.9" r="2.4"/><circle cx="939.3" cy="342.6" r="2.4"/><circle cx="941.9" cy="574.8" r="2.4"/><circle cx="946.9" cy="570.1" r="2.4"/><circle cx="933.2" cy="715.5" r="2.4"/><circle cx="934.7" cy="680.8" r="2.4"/><circle cx="927.2" cy="546.9" r="2.4"/><circle cx="938.4" cy="668.3" r="2.4"/><circle cx="943.0" cy="558.0" r="2.4"/><circle cx="934.9" cy="551.6" r="2.4"/><circle cx="938.8" cy="595.1" r="2.4"/><circle cx="921.6" cy="662.0" r="2.4"/><circle cx="933.6" cy="552.2" r="2.4"/><circle cx="943.9" cy="587.6" r="2.4"/><circle cx="931.9" cy="640.9" r="2.4"/><circle cx="937.9" cy="547.3" r="2.4"/><circle cx="949.1" cy="563.5" r="2.4"/><circle cx="923.2" cy="604.4" r="2.4"/><circle cx="937.2" cy="599.0" r="2.4"/><circle cx="939.5" cy="590.8" r="2.4"/><circle cx="939.4" cy="543.0" r="2.4"/><circle cx="929.5" cy="512.3" r="2.4"/><circle cx="943.3" cy="579.1" r="2.4"/><circle cx="939.3" cy="413.3" r="2.4"/><circle cx="940.9" cy="290.1" r="2.4"/><circle cx="928.0" cy="576.5" r="2.4"/><circle cx="942.8" cy="647.5" r="2.4"/><circle cx="938.4" cy="582.1" r="2.4"/><circle cx="937.7" cy="570.6" r="2.4"/><circle cx="932.6" cy="554.1" r="2.4"/><circle cx="944.2" cy="633.3" r="2.4"/><circle cx="940.5" cy="570.4" r="2.4"/><circle cx="936.8" cy="704.3" r="2.4"/><circle cx="944.6" cy="589.6" r="2.4"/><circle cx="936.7" cy="557.5" r="2.4"/><circle cx="944.0" cy="659.8" r="2.4"/><circle cx="930.2" cy="383.0" r="2.4"/><circle cx="931.7" cy="627.6" r="2.4"/><circle cx="935.0" cy="594.7" r="2.4"/><circle cx="934.3" cy="544.0" r="2.4"/><circle cx="933.6" cy="602.2" r="2.4"/><circle cx="943.7" cy="543.7" r="2.4"/><circle cx="935.9" cy="437.2" r="2.4"/><circle cx="934.3" cy="612.5" r="2.4"/><circle cx="937.6" cy="639.3" r="2.4"/><circle cx="943.4" cy="422.4" r="2.4"/><circle cx="930.2" cy="589.4" r="2.4"/><circle cx="941.0" cy="598.4" r="2.4"/><circle cx="935.3" cy="285.7" r="2.4"/><circle cx="932.6" cy="542.9" r="2.4"/><circle cx="937.3" cy="560.1" r="2.4"/><circle cx="935.6" cy="657.8" r="2.4"/><circle cx="923.6" cy="654.3" r="2.4"/><circle cx="943.7" cy="577.8" r="2.4"/><circle cx="936.0" cy="614.1" r="2.4"/><circle cx="950.4" cy="341.8" r="2.4"/><circle cx="940.2" cy="591.1" r="2.4"/><circle cx="934.9" cy="642.4" r="2.4"/><circle cx="929.0" cy="605.9" r="2.4"/><circle cx="953.1" cy="662.9" r="2.4"/><circle cx="934.0" cy="694.8" r="2.4"/><circle cx="937.1" cy="553.2" r="2.4"/><circle cx="943.6" cy="709.0" r="2.4"/><circle cx="932.5" cy="621.1" r="2.4"/><circle cx="945.6" cy="609.7" r="2.4"/><circle cx="932.4" cy="612.1" r="2.4"/><circle cx="940.5" cy="705.8" r="2.4"/><circle cx="943.1" cy="524.5" r="2.4"/><circle cx="931.4" cy="550.9" r="2.4"/><circle cx="940.8" cy="677.8" r="2.4"/><circle cx="942.1" cy="589.4" r="2.4"/><circle cx="940.4" cy="693.0" r="2.4"/><circle cx="940.1" cy="686.7" r="2.4"/><circle cx="940.6" cy="613.3" r="2.4"/><circle cx="942.1" cy="542.0" r="2.4"/><circle cx="950.9" cy="632.7" r="2.4"/><circle cx="931.5" cy="659.2" r="2.4"/><circle cx="935.5" cy="568.1" r="2.4"/><circle cx="941.5" cy="550.6" r="2.4"/><circle cx="925.6" cy="666.9" r="2.4"/><circle cx="938.0" cy="577.0" r="2.4"/><circle cx="940.3" cy="418.4" r="2.4"/><circle cx="932.2" cy="642.5" r="2.4"/><circle cx="934.4" cy="548.6" r="2.4"/><circle cx="942.4" cy="334.1" r="2.4"/><circle cx="946.3" cy="693.1" r="2.4"/><circle cx="927.9" cy="670.3" r="2.4"/><circle cx="943.0" cy="590.1" r="2.4"/><circle cx="942.2" cy="670.2" r="2.4"/><circle cx="929.3" cy="652.3" r="2.4"/><circle cx="941.0" cy="599.3" r="2.4"/><circle cx="929.7" cy="635.9" r="2.4"/><circle cx="934.6" cy="710.5" r="2.4"/><circle cx="945.1" cy="673.5" r="2.4"/><circle cx="941.1" cy="644.8" r="2.4"/><circle cx="940.2" cy="640.2" r="2.4"/><circle cx="932.7" cy="635.6" r="2.4"/><circle cx="944.1" cy="702.9" r="2.4"/><circle cx="941.3" cy="360.4" r="2.4"/><circle cx="941.0" cy="673.0" r="2.4"/><circle cx="944.1" cy="597.9" r="2.4"/><circle cx="939.4" cy="628.2" r="2.4"/><circle cx="938.8" cy="658.3" r="2.4"/><circle cx="941.1" cy="548.3" r="2.4"/><circle cx="936.5" cy="582.2" r="2.4"/><circle cx="936.1" cy="604.7" r="2.4"/><circle cx="937.0" cy="632.3" r="2.4"/><circle cx="930.8" cy="415.4" r="2.4"/><circle cx="932.2" cy="597.6" r="2.4"/><circle cx="937.9" cy="622.0" r="2.4"/><circle cx="937.0" cy="655.6" r="2.4"/><circle cx="936.2" cy="621.6" r="2.4"/><circle cx="943.7" cy="521.1" r="2.4"/><circle cx="945.1" cy="658.9" r="2.4"/><circle cx="937.9" cy="619.7" r="2.4"/><circle cx="929.4" cy="626.4" r="2.4"/><circle cx="947.2" cy="590.0" r="2.4"/><circle cx="936.5" cy="580.3" r="2.4"/><circle cx="929.3" cy="643.8" r="2.4"/><circle cx="933.9" cy="301.2" r="2.4"/><circle cx="930.3" cy="679.1" r="2.4"/><circle cx="931.2" cy="557.7" r="2.4"/><circle cx="939.7" cy="639.8" r="2.4"/><circle cx="946.3" cy="670.0" r="2.4"/><circle cx="940.3" cy="634.1" r="2.4"/><circle cx="941.5" cy="636.7" r="2.4"/><circle cx="945.0" cy="392.1" r="2.4"/><circle cx="939.8" cy="619.9" r="2.4"/><circle cx="936.5" cy="595.0" r="2.4"/><circle cx="935.7" cy="703.5" r="2.4"/><circle cx="936.9" cy="549.7" r="2.4"/><circle cx="934.7" cy="355.2" r="2.4"/><circle cx="942.5" cy="598.3" r="2.4"/><circle cx="943.1" cy="664.1" r="2.4"/><circle cx="931.5" cy="625.6" r="2.4"/><circle cx="940.9" cy="624.9" r="2.4"/><circle cx="941.2" cy="708.2" r="2.4"/><circle cx="946.4" cy="652.0" r="2.4"/><circle cx="932.4" cy="630.5" r="2.4"/><circle cx="932.9" cy="527.3" r="2.4"/><circle cx="941.9" cy="684.3" r="2.4"/><circle cx="935.9" cy="535.1" r="2.4"/><circle cx="931.2" cy="624.8" r="2.4"/><circle cx="939.9" cy="645.4" r="2.4"/><circle cx="944.1" cy="599.7" r="2.4"/><circle cx="934.2" cy="641.1" r="2.4"/><circle cx="939.3" cy="427.5" r="2.4"/><circle cx="939.5" cy="612.7" r="2.4"/><circle cx="955.1" cy="625.5" r="2.4"/><circle cx="931.2" cy="547.8" r="2.4"/><circle cx="935.7" cy="698.5" r="2.4"/><circle cx="920.0" cy="626.0" r="2.4"/><circle cx="930.5" cy="669.7" r="2.4"/><circle cx="932.0" cy="617.5" r="2.4"/><circle cx="935.9" cy="643.9" r="2.4"/><circle cx="945.3" cy="643.2" r="2.4"/><circle cx="927.5" cy="599.3" r="2.4"/><circle cx="941.3" cy="690.4" r="2.4"/><circle cx="926.9" cy="614.9" r="2.4"/><circle cx="937.8" cy="705.4" r="2.4"/><circle cx="936.0" cy="678.8" r="2.4"/><circle cx="936.3" cy="608.4" r="2.4"/><circle cx="944.9" cy="603.5" r="2.4"/><circle cx="943.4" cy="414.3" r="2.4"/><circle cx="940.0" cy="518.0" r="2.4"/><circle cx="940.3" cy="356.4" r="2.4"/><circle cx="935.3" cy="328.5" r="2.4"/><circle cx="945.6" cy="699.3" r="2.4"/><circle cx="946.1" cy="554.5" r="2.4"/><circle cx="942.2" cy="557.6" r="2.4"/><circle cx="947.2" cy="588.3" r="2.4"/><circle cx="938.3" cy="640.2" r="2.4"/><circle cx="944.0" cy="375.0" r="2.4"/><circle cx="939.7" cy="589.4" r="2.4"/><circle cx="936.3" cy="321.4" r="2.4"/><circle cx="940.4" cy="597.6" r="2.4"/><circle cx="941.5" cy="718.6" r="2.4"/><circle cx="928.8" cy="421.4" r="2.4"/><circle cx="940.5" cy="589.3" r="2.4"/><circle cx="945.3" cy="587.6" r="2.4"/><circle cx="938.3" cy="609.1" r="2.4"/><circle cx="942.5" cy="588.0" r="2.4"/><circle cx="940.4" cy="586.7" r="2.4"/><circle cx="937.7" cy="591.4" r="2.4"/><circle cx="929.5" cy="553.0" r="2.4"/><circle cx="943.6" cy="616.6" r="2.4"/><circle cx="930.5" cy="703.2" r="2.4"/><circle cx="942.4" cy="410.9" r="2.4"/><circle cx="934.6" cy="567.9" r="2.4"/><circle cx="947.1" cy="553.7" r="2.4"/><circle cx="938.1" cy="597.9" r="2.4"/><circle cx="946.1" cy="533.6" r="2.4"/><circle cx="936.5" cy="694.8" r="2.4"/><circle cx="943.5" cy="629.4" r="2.4"/><circle cx="940.8" cy="712.2" r="2.4"/><circle cx="936.6" cy="621.9" r="2.4"/><circle cx="942.4" cy="337.6" r="2.4"/><circle cx="937.3" cy="362.4" r="2.4"/><circle cx="925.3" cy="622.6" r="2.4"/><circle cx="930.6" cy="431.5" r="2.4"/><circle cx="943.0" cy="450.7" r="2.4"/><circle cx="934.3" cy="651.8" r="2.4"/><circle cx="935.8" cy="559.6" r="2.4"/><circle cx="929.8" cy="699.7" r="2.4"/><circle cx="939.8" cy="581.2" r="2.4"/><circle cx="940.7" cy="609.7" r="2.4"/><circle cx="933.3" cy="402.2" r="2.4"/><circle cx="942.8" cy="623.8" r="2.4"/><circle cx="943.6" cy="703.2" r="2.4"/><circle cx="941.6" cy="655.7" r="2.4"/><circle cx="952.3" cy="702.1" r="2.4"/><circle cx="952.1" cy="544.9" r="2.4"/><circle cx="933.3" cy="599.7" r="2.4"/><circle cx="941.3" cy="665.5" r="2.4"/><circle cx="948.0" cy="597.5" r="2.4"/><circle cx="944.8" cy="681.6" r="2.4"/><circle cx="935.6" cy="569.7" r="2.4"/><circle cx="941.4" cy="554.8" r="2.4"/><circle cx="928.8" cy="554.4" r="2.4"/><circle cx="935.1" cy="690.6" r="2.4"/><circle cx="942.6" cy="646.7" r="2.4"/><circle cx="941.3" cy="651.3" r="2.4"/><circle cx="929.8" cy="652.7" r="2.4"/><circle cx="934.7" cy="578.4" r="2.4"/><circle cx="939.5" cy="540.2" r="2.4"/><circle cx="936.8" cy="566.0" r="2.4"/><circle cx="932.8" cy="631.7" r="2.4"/><circle cx="934.6" cy="681.0" r="2.4"/><circle cx="933.0" cy="536.3" r="2.4"/><circle cx="929.2" cy="591.3" r="2.4"/><circle cx="942.0" cy="716.8" r="2.4"/><circle cx="944.5" cy="649.2" r="2.4"/><circle cx="937.8" cy="639.8" r="2.4"/><circle cx="929.0" cy="641.3" r="2.4"/><circle cx="946.1" cy="618.0" r="2.4"/><circle cx="929.3" cy="606.6" r="2.4"/><circle cx="943.7" cy="626.1" r="2.4"/><circle cx="939.4" cy="672.3" r="2.4"/><circle cx="934.9" cy="610.4" r="2.4"/><circle cx="943.5" cy="573.7" r="2.4"/><circle cx="942.8" cy="673.1" r="2.4"/><circle cx="942.1" cy="570.8" r="2.4"/><circle cx="933.3" cy="643.2" r="2.4"/><circle cx="937.1" cy="670.2" r="2.4"/><circle cx="936.4" cy="661.3" r="2.4"/><circle cx="940.5" cy="571.3" r="2.4"/><circle cx="944.1" cy="605.2" r="2.4"/><circle cx="920.7" cy="376.6" r="2.4"/><circle cx="938.0" cy="514.8" r="2.4"/><circle cx="935.6" cy="640.2" r="2.4"/><circle cx="942.9" cy="626.2" r="2.4"/><circle cx="935.0" cy="586.4" r="2.4"/><circle cx="928.8" cy="406.7" r="2.4"/><circle cx="931.4" cy="612.7" r="2.4"/><circle cx="945.3" cy="648.9" r="2.4"/><circle cx="934.0" cy="606.0" r="2.4"/><circle cx="938.3" cy="586.5" r="2.4"/><circle cx="940.0" cy="692.8" r="2.4"/><circle cx="928.7" cy="545.4" r="2.4"/><circle cx="944.4" cy="634.7" r="2.4"/><circle cx="932.7" cy="583.3" r="2.4"/><circle cx="939.0" cy="603.3" r="2.4"/><circle cx="930.7" cy="710.2" r="2.4"/><circle cx="934.0" cy="651.9" r="2.4"/><circle cx="943.9" cy="660.8" r="2.4"/><circle cx="931.4" cy="653.9" r="2.4"/><circle cx="943.0" cy="630.3" r="2.4"/><circle cx="945.4" cy="669.1" r="2.4"/><circle cx="942.9" cy="693.2" r="2.4"/><circle cx="944.6" cy="559.9" r="2.4"/><circle cx="937.1" cy="555.2" r="2.4"/><circle cx="946.1" cy="696.0" r="2.4"/><circle cx="947.2" cy="637.0" r="2.4"/><circle cx="948.4" cy="563.2" r="2.4"/><circle cx="937.9" cy="701.8" r="2.4"/><circle cx="940.2" cy="628.3" r="2.4"/><circle cx="935.6" cy="565.6" r="2.4"/><circle cx="935.1" cy="613.6" r="2.4"/><circle cx="944.5" cy="694.2" r="2.4"/><circle cx="934.7" cy="566.9" r="2.4"/><circle cx="936.9" cy="584.7" r="2.4"/><circle cx="934.6" cy="591.1" r="2.4"/><circle cx="939.9" cy="666.1" r="2.4"/><circle cx="940.0" cy="690.5" r="2.4"/><circle cx="938.2" cy="639.3" r="2.4"/><circle cx="933.3" cy="677.8" r="2.4"/><circle cx="933.2" cy="587.8" r="2.4"/><circle cx="942.4" cy="347.1" r="2.4"/><circle cx="948.3" cy="600.0" r="2.4"/><circle cx="944.3" cy="713.0" r="2.4"/><circle cx="944.8" cy="663.9" r="2.4"/><circle cx="943.9" cy="546.8" r="2.4"/><circle cx="928.4" cy="693.2" r="2.4"/><circle cx="939.3" cy="366.5" r="2.4"/><circle cx="938.6" cy="628.9" r="2.4"/><circle cx="941.0" cy="582.3" r="2.4"/><circle cx="932.3" cy="419.4" r="2.4"/><circle cx="928.7" cy="571.7" r="2.4"/><circle cx="945.0" cy="599.4" r="2.4"/><circle cx="935.5" cy="589.9" r="2.4"/><circle cx="942.4" cy="555.3" r="2.4"/><circle cx="935.5" cy="517.0" r="2.4"/><circle cx="944.4" cy="641.9" r="2.4"/><circle cx="929.3" cy="655.8" r="2.4"/><circle cx="938.1" cy="633.5" r="2.4"/><circle cx="941.1" cy="604.0" r="2.4"/><circle cx="949.0" cy="666.8" r="2.4"/><circle cx="933.1" cy="645.5" r="2.4"/><circle cx="936.2" cy="520.7" r="2.4"/><circle cx="942.5" cy="636.5" r="2.4"/><circle cx="939.3" cy="353.7" r="2.4"/></g><g fill="#3498db" fill-opacity="0.8" stroke="#ffffff" stroke-opacity="0.8" stroke-width="0.65"><circle cx="1150.8" cy="487.1" r="2.4"/><circle cx="1141.7" cy="473.9" r="2.4"/><circle cx="1143.0" cy="496.8" r="2.4"/><circle cx="1152.9" cy="524.4" r="2.4"/><circle cx="1150.1" cy="558.4" r="2.4"/><circle cx="1135.9" cy="493.1" r="2.4"/><circle cx="1153.3" cy="455.9" r="2.4"/><circle cx="1146.5" cy="467.9" r="2.4"/><circle cx="1141.3" cy="450.2" r="2.4"/><circle cx="1148.5" cy="498.8" r="2.4"/><circle cx="1162.1" cy="535.5" r="2.4"/><circle cx="1141.0" cy="461.2" r="2.4"/><circle cx="1148.2" cy="511.4" r="2.4"/><circle cx="1150.9" cy="534.7" r="2.4"/><circle cx="1143.6" cy="498.2" r="2.4"/><circle cx="1136.8" cy="503.9" r="2.4"/><circle cx="1149.0" cy="543.5" r="2.4"/><circle cx="1146.3" cy="497.8" r="2.4"/><circle cx="1149.2" cy="514.5" r="2.4"/><circle cx="1151.0" cy="516.2" r="2.4"/><circle cx="1153.0" cy="496.4" r="2.4"/><circle cx="1139.7" cy="507.3" r="2.4"/><circle cx="1146.8" cy="467.4" r="2.4"/><circle cx="1148.4" cy="459.9" r="2.4"/><circle cx="1148.2" cy="524.3" r="2.4"/><circle cx="1150.9" cy="505.5" r="2.4"/><circle cx="1140.2" cy="490.1" r="2.4"/><circle cx="1146.5" cy="516.2" r="2.4"/><circle cx="1150.6" cy="540.3" r="2.4"/><circle cx="1150.7" cy="501.7" r="2.4"/><circle cx="1148.1" cy="493.3" r="2.4"/><circle cx="1141.0" cy="487.3" r="2.4"/><circle cx="1148.6" cy="511.8" r="2.4"/><circle cx="1147.5" cy="534.3" r="2.4"/><circle cx="1141.8" cy="506.2" r="2.4"/><circle cx="1148.0" cy="495.2" r="2.4"/><circle cx="1153.3" cy="492.4" r="2.4"/><circle cx="1147.1" cy="421.8" r="2.4"/><circle cx="1153.1" cy="489.5" r="2.4"/><circle cx="1139.3" cy="503.6" r="2.4"/><circle cx="1137.3" cy="522.2" r="2.4"/><circle cx="1135.7" cy="503.0" r="2.4"/><circle cx="1153.1" cy="456.0" r="2.4"/><circle cx="1147.4" cy="550.9" r="2.4"/><circle cx="1156.0" cy="524.0" r="2.4"/><circle cx="1149.2" cy="546.9" r="2.4"/><circle cx="1152.5" cy="515.3" r="2.4"/><circle cx="1143.4" cy="473.6" r="2.4"/><circle cx="1145.0" cy="524.3" r="2.4"/><circle cx="1153.8" cy="502.3" r="2.4"/><circle cx="1142.9" cy="467.4" r="2.4"/><circle cx="1152.7" cy="491.5" r="2.4"/><circle cx="1154.2" cy="453.2" r="2.4"/><circle cx="1143.4" cy="501.3" r="2.4"/><circle cx="1154.3" cy="435.0" r="2.4"/><circle cx="1136.3" cy="492.0" r="2.4"/><circle cx="1145.0" cy="512.9" r="2.4"/><circle cx="1136.2" cy="519.1" r="2.4"/><circle cx="1138.2" cy="489.7" r="2.4"/><circle cx="1143.1" cy="557.7" r="2.4"/><circle cx="1149.0" cy="486.6" r="2.4"/><circle cx="1152.2" cy="490.9" r="2.4"/><circle cx="1149.6" cy="462.5" r="2.4"/><circle cx="1146.9" cy="490.8" r="2.4"/><circle cx="1147.3" cy="424.5" r="2.4"/><circle cx="1147.0" cy="501.1" r="2.4"/><circle cx="1151.7" cy="518.2" r="2.4"/><circle cx="1141.7" cy="560.6" r="2.4"/><circle cx="1142.9" cy="495.2" r="2.4"/><circle cx="1156.0" cy="512.4" r="2.4"/><circle cx="1138.9" cy="465.6" r="2.4"/><circle cx="1144.6" cy="507.4" r="2.4"/><circle cx="1150.8" cy="484.4" r="2.4"/><circle cx="1148.7" cy="549.6" r="2.4"/><circle cx="1145.9" cy="485.3" r="2.4"/><circle cx="1146.4" cy="554.4" r="2.4"/><circle cx="1141.8" cy="486.7" r="2.4"/><circle cx="1145.1" cy="432.2" r="2.4"/><circle cx="1142.1" cy="425.4" r="2.4"/><circle cx="1156.7" cy="495.2" r="2.4"/><circle cx="1139.5" cy="715.0" r="2.4"/><circle cx="1148.4" cy="531.7" r="2.4"/><circle cx="1148.0" cy="509.6" r="2.4"/><circle cx="1150.7" cy="418.7" r="2.4"/><circle cx="1152.6" cy="511.8" r="2.4"/><circle cx="1138.3" cy="552.3" r="2.4"/><circle cx="1146.1" cy="548.6" r="2.4"/><circle cx="1155.7" cy="528.7" r="2.4"/><circle cx="1144.0" cy="492.0" r="2.4"/><circle cx="1146.0" cy="465.6" r="2.4"/><circle cx="1151.9" cy="494.9" r="2.4"/><circle cx="1154.4" cy="506.7" r="2.4"/><circle cx="1143.3" cy="455.0" r="2.4"/><circle cx="1149.9" cy="516.8" r="2.4"/><circle cx="1154.6" cy="524.4" r="2.4"/><circle cx="1148.6" cy="473.9" r="2.4"/><circle cx="1162.0" cy="516.3" r="2.4"/><circle cx="1142.6" cy="439.4" r="2.4"/><circle cx="1151.5" cy="507.1" r="2.4"/><circle cx="1142.0" cy="508.4" r="2.4"/><circle cx="1152.2" cy="499.8" r="2.4"/><circle cx="1146.9" cy="481.8" r="2.4"/><circle cx="1147.1" cy="557.0" r="2.4"/><circle cx="1147.5" cy="510.3" r="2.4"/><circle cx="1148.3" cy="492.2" r="2.4"/><circle cx="1147.3" cy="543.6" r="2.4"/><circle cx="1141.8" cy="493.0" r="2.4"/><circle cx="1143.6" cy="453.5" r="2.4"/><circle cx="1140.8" cy="495.5" r="2.4"/><circle cx="1137.1" cy="522.2" r="2.4"/><circle cx="1145.9" cy="482.1" r="2.4"/><circle cx="1144.6" cy="386.1" r="2.4"/><circle cx="1145.7" cy="550.1" r="2.4"/><circle cx="1140.1" cy="500.9" r="2.4"/><circle cx="1138.1" cy="507.2" r="2.4"/><circle cx="1145.2" cy="512.3" r="2.4"/><circle cx="1145.2" cy="515.1" r="2.4"/><circle cx="1153.9" cy="447.3" r="2.4"/><circle cx="1145.9" cy="498.1" r="2.4"/><circle cx="1146.7" cy="457.5" r="2.4"/><circle cx="1146.8" cy="513.6" r="2.4"/><circle cx="1138.7" cy="494.9" r="2.4"/><circle cx="1149.1" cy="450.3" r="2.4"/><circle cx="1147.7" cy="537.5" r="2.4"/><circle cx="1141.8" cy="507.4" r="2.4"/><circle cx="1139.0" cy="518.8" r="2.4"/><circle cx="1144.8" cy="443.0" r="2.4"/><circle cx="1146.9" cy="509.1" r="2.4"/><circle cx="1144.8" cy="469.2" r="2.4"/><circle cx="1153.6" cy="497.9" r="2.4"/><circle cx="1145.3" cy="512.0" r="2.4"/><circle cx="1148.3" cy="504.6" r="2.4"/><circle cx="1135.6" cy="491.1" r="2.4"/><circle cx="1142.8" cy="565.7" r="2.4"/><circle cx="1154.2" cy="498.9" r="2.4"/><circle cx="1135.7" cy="481.1" r="2.4"/><circle cx="1150.8" cy="453.6" r="2.4"/><circle cx="1135.4" cy="517.0" r="2.4"/><circle cx="1139.9" cy="491.6" r="2.4"/><circle cx="1153.2" cy="659.0" r="2.4"/><circle cx="1153.4" cy="552.1" r="2.4"/><circle cx="1145.7" cy="520.1" r="2.4"/><circle cx="1143.7" cy="486.8" r="2.4"/><circle cx="1159.6" cy="523.4" r="2.4"/><circle cx="1158.1" cy="501.9" r="2.4"/><circle cx="1153.7" cy="533.1" r="2.4"/><circle cx="1146.2" cy="486.5" r="2.4"/><circle cx="1156.0" cy="503.4" r="2.4"/><circle cx="1147.1" cy="429.3" r="2.4"/><circle cx="1142.0" cy="696.2" r="2.4"/><circle cx="1143.7" cy="451.8" r="2.4"/><circle cx="1129.8" cy="510.7" r="2.4"/><circle cx="1139.9" cy="536.3" r="2.4"/><circle cx="1158.0" cy="563.0" r="2.4"/><circle cx="1137.6" cy="571.7" r="2.4"/><circle cx="1143.2" cy="517.5" r="2.4"/><circle cx="1145.5" cy="550.4" r="2.4"/><circle cx="1139.7" cy="536.7" r="2.4"/><circle cx="1145.4" cy="488.7" r="2.4"/><circle cx="1154.1" cy="560.2" r="2.4"/><circle cx="1154.5" cy="492.4" r="2.4"/><circle cx="1147.5" cy="549.9" r="2.4"/><circle cx="1140.0" cy="472.9" r="2.4"/><circle cx="1140.0" cy="588.0" r="2.4"/><circle cx="1141.2" cy="444.3" r="2.4"/><circle cx="1152.0" cy="687.8" r="2.4"/><circle cx="1152.4" cy="531.2" r="2.4"/><circle cx="1145.9" cy="525.2" r="2.4"/><circle cx="1142.9" cy="415.8" r="2.4"/><circle cx="1143.0" cy="492.4" r="2.4"/><circle cx="1146.9" cy="447.4" r="2.4"/><circle cx="1146.2" cy="497.0" r="2.4"/><circle cx="1142.6" cy="471.2" r="2.4"/><circle cx="1152.8" cy="467.5" r="2.4"/><circle cx="1147.9" cy="481.3" r="2.4"/><circle cx="1152.2" cy="493.0" r="2.4"/><circle cx="1149.6" cy="477.5" r="2.4"/><circle cx="1146.2" cy="498.1" r="2.4"/><circle cx="1142.1" cy="458.7" r="2.4"/><circle cx="1146.3" cy="703.2" r="2.4"/><circle cx="1149.3" cy="510.9" r="2.4"/><circle cx="1145.9" cy="525.1" r="2.4"/><circle cx="1145.8" cy="445.7" r="2.4"/><circle cx="1143.6" cy="511.1" r="2.4"/><circle cx="1140.0" cy="454.6" r="2.4"/><circle cx="1146.2" cy="522.6" r="2.4"/><circle cx="1150.1" cy="484.6" r="2.4"/><circle cx="1148.9" cy="521.8" r="2.4"/><circle cx="1143.0" cy="562.6" r="2.4"/><circle cx="1138.9" cy="525.1" r="2.4"/><circle cx="1137.4" cy="463.8" r="2.4"/><circle cx="1150.7" cy="475.4" r="2.4"/><circle cx="1146.3" cy="459.7" r="2.4"/><circle cx="1147.5" cy="442.1" r="2.4"/><circle cx="1133.6" cy="534.3" r="2.4"/><circle cx="1144.2" cy="462.6" r="2.4"/><circle cx="1150.3" cy="546.8" r="2.4"/><circle cx="1148.6" cy="512.8" r="2.4"/><circle cx="1143.6" cy="454.2" r="2.4"/><circle cx="1148.8" cy="458.7" r="2.4"/><circle cx="1146.2" cy="527.5" r="2.4"/><circle cx="1149.0" cy="528.6" r="2.4"/><circle cx="1142.2" cy="533.0" r="2.4"/><circle cx="1144.5" cy="501.1" r="2.4"/><circle cx="1139.2" cy="493.9" r="2.4"/><circle cx="1143.3" cy="498.0" r="2.4"/><circle cx="1142.0" cy="485.7" r="2.4"/><circle cx="1151.4" cy="496.2" r="2.4"/><circle cx="1146.8" cy="490.7" r="2.4"/><circle cx="1142.8" cy="495.1" r="2.4"/><circle cx="1148.7" cy="542.0" r="2.4"/><circle cx="1140.7" cy="474.2" r="2.4"/><circle cx="1140.5" cy="499.3" r="2.4"/><circle cx="1151.9" cy="458.0" r="2.4"/><circle cx="1146.8" cy="449.7" r="2.4"/><circle cx="1155.5" cy="522.3" r="2.4"/><circle cx="1143.2" cy="455.2" r="2.4"/><circle cx="1146.8" cy="524.2" r="2.4"/><circle cx="1146.4" cy="550.3" r="2.4"/><circle cx="1145.0" cy="552.6" r="2.4"/><circle cx="1155.6" cy="463.9" r="2.4"/><circle cx="1157.9" cy="485.7" r="2.4"/><circle cx="1139.3" cy="522.9" r="2.4"/><circle cx="1154.8" cy="474.3" r="2.4"/><circle cx="1148.7" cy="497.8" r="2.4"/><circle cx="1150.6" cy="502.9" r="2.4"/><circle cx="1148.3" cy="488.8" r="2.4"/><circle cx="1147.4" cy="508.0" r="2.4"/><circle cx="1147.5" cy="495.9" r="2.4"/><circle cx="1148.3" cy="523.6" r="2.4"/><circle cx="1149.8" cy="497.2" r="2.4"/><circle cx="1154.2" cy="520.9" r="2.4"/><circle cx="1147.0" cy="476.0" r="2.4"/><circle cx="1137.2" cy="708.5" r="2.4"/><circle cx="1152.5" cy="398.4" r="2.4"/><circle cx="1153.9" cy="519.4" r="2.4"/><circle cx="1141.1" cy="523.4" r="2.4"/><circle cx="1145.8" cy="491.6" r="2.4"/><circle cx="1149.7" cy="468.7" r="2.4"/><circle cx="1146.0" cy="528.6" r="2.4"/><circle cx="1148.4" cy="554.6" r="2.4"/><circle cx="1142.3" cy="547.3" r="2.4"/><circle cx="1149.2" cy="514.3" r="2.4"/><circle cx="1151.8" cy="514.1" r="2.4"/><circle cx="1144.5" cy="499.7" r="2.4"/><circle cx="1135.0" cy="542.4" r="2.4"/><circle cx="1149.2" cy="561.9" r="2.4"/><circle cx="1150.5" cy="525.6" r="2.4"/><circle cx="1147.8" cy="498.9" r="2.4"/><circle cx="1137.9" cy="438.0" r="2.4"/><circle cx="1158.1" cy="527.1" r="2.4"/><circle cx="1147.8" cy="524.3" r="2.4"/><circle cx="1143.1" cy="514.4" r="2.4"/><circle cx="1148.2" cy="524.9" r="2.4"/><circle cx="1148.4" cy="535.2" r="2.4"/><circle cx="1142.8" cy="489.0" r="2.4"/><circle cx="1140.6" cy="501.5" r="2.4"/><circle cx="1146.4" cy="528.3" r="2.4"/><circle cx="1150.4" cy="458.8" r="2.4"/><circle cx="1146.5" cy="495.8" r="2.4"/><circle cx="1149.0" cy="495.4" r="2.4"/><circle cx="1152.5" cy="512.6" r="2.4"/><circle cx="1144.3" cy="499.5" r="2.4"/><circle cx="1148.6" cy="462.3" r="2.4"/><circle cx="1144.9" cy="482.6" r="2.4"/><circle cx="1139.3" cy="547.1" r="2.4"/><circle cx="1150.3" cy="499.3" r="2.4"/><circle cx="1142.6" cy="485.1" r="2.4"/><circle cx="1148.9" cy="513.6" r="2.4"/><circle cx="1147.3" cy="546.0" r="2.4"/><circle cx="1156.3" cy="544.0" r="2.4"/><circle cx="1154.3" cy="459.4" r="2.4"/><circle cx="1147.1" cy="480.0" r="2.4"/><circle cx="1160.8" cy="508.6" r="2.4"/><circle cx="1153.0" cy="481.0" r="2.4"/><circle cx="1132.8" cy="492.5" r="2.4"/><circle cx="1153.6" cy="497.2" r="2.4"/><circle cx="1146.8" cy="540.6" r="2.4"/><circle cx="1135.5" cy="512.9" r="2.4"/><circle cx="1147.0" cy="508.3" r="2.4"/><circle cx="1144.5" cy="520.3" r="2.4"/><circle cx="1151.5" cy="455.0" r="2.4"/><circle cx="1148.9" cy="501.9" r="2.4"/><circle cx="1133.2" cy="499.4" r="2.4"/><circle cx="1149.6" cy="510.6" r="2.4"/><circle cx="1145.6" cy="507.1" r="2.4"/><circle cx="1146.5" cy="554.5" r="2.4"/><circle cx="1140.7" cy="524.8" r="2.4"/><circle cx="1148.3" cy="548.8" r="2.4"/><circle cx="1144.2" cy="540.0" r="2.4"/><circle cx="1152.0" cy="464.4" r="2.4"/><circle cx="1142.0" cy="542.6" r="2.4"/><circle cx="1145.2" cy="505.7" r="2.4"/><circle cx="1150.2" cy="471.6" r="2.4"/><circle cx="1162.0" cy="551.0" r="2.4"/><circle cx="1133.7" cy="497.7" r="2.4"/><circle cx="1144.4" cy="520.4" r="2.4"/><circle cx="1152.0" cy="569.0" r="2.4"/><circle cx="1156.1" cy="511.1" r="2.4"/><circle cx="1142.1" cy="531.2" r="2.4"/><circle cx="1140.9" cy="516.9" r="2.4"/><circle cx="1145.2" cy="538.2" r="2.4"/><circle cx="1146.4" cy="485.2" r="2.4"/><circle cx="1147.2" cy="460.5" r="2.4"/><circle cx="1144.1" cy="491.3" r="2.4"/><circle cx="1145.5" cy="513.2" r="2.4"/><circle cx="1137.7" cy="516.9" r="2.4"/><circle cx="1157.6" cy="507.0" r="2.4"/><circle cx="1139.4" cy="506.6" r="2.4"/><circle cx="1146.3" cy="572.1" r="2.4"/><circle cx="1155.5" cy="479.5" r="2.4"/><circle cx="1146.0" cy="497.2" r="2.4"/><circle cx="1142.4" cy="405.4" r="2.4"/><circle cx="1152.7" cy="507.0" r="2.4"/><circle cx="1148.9" cy="524.4" r="2.4"/><circle cx="1154.2" cy="536.8" r="2.4"/><circle cx="1148.1" cy="506.4" r="2.4"/><circle cx="1155.6" cy="571.4" r="2.4"/><circle cx="1153.1" cy="501.1" r="2.4"/><circle cx="1141.6" cy="449.0" r="2.4"/><circle cx="1139.1" cy="494.7" r="2.4"/><circle cx="1139.0" cy="507.2" r="2.4"/><circle cx="1153.8" cy="573.1" r="2.4"/><circle cx="1153.6" cy="539.5" r="2.4"/><circle cx="1145.9" cy="504.1" r="2.4"/><circle cx="1149.9" cy="543.5" r="2.4"/><circle cx="1144.6" cy="512.6" r="2.4"/><circle cx="1151.5" cy="479.3" r="2.4"/><circle cx="1138.9" cy="502.5" r="2.4"/><circle cx="1154.7" cy="506.1" r="2.4"/><circle cx="1136.5" cy="499.9" r="2.4"/><circle cx="1147.1" cy="544.7" r="2.4"/><circle cx="1139.5" cy="505.4" r="2.4"/><circle cx="1135.8" cy="548.8" r="2.4"/><circle cx="1141.2" cy="499.1" r="2.4"/><circle cx="1150.6" cy="514.8" r="2.4"/><circle cx="1145.2" cy="523.3" r="2.4"/><circle cx="1150.3" cy="488.0" r="2.4"/><circle cx="1150.1" cy="470.5" r="2.4"/><circle cx="1153.6" cy="528.8" r="2.4"/><circle cx="1138.8" cy="467.2" r="2.4"/><circle cx="1157.9" cy="498.2" r="2.4"/><circle cx="1146.0" cy="538.0" r="2.4"/><circle cx="1142.6" cy="537.4" r="2.4"/><circle cx="1145.1" cy="519.0" r="2.4"/><circle cx="1149.0" cy="501.1" r="2.4"/><circle cx="1141.3" cy="522.1" r="2.4"/><circle cx="1148.5" cy="553.0" r="2.4"/><circle cx="1140.5" cy="537.4" r="2.4"/><circle cx="1147.3" cy="543.3" r="2.4"/><circle cx="1150.3" cy="541.8" r="2.4"/><circle cx="1150.9" cy="486.0" r="2.4"/><circle cx="1159.2" cy="517.0" r="2.4"/><circle cx="1130.8" cy="524.9" r="2.4"/><circle cx="1146.4" cy="493.9" r="2.4"/><circle cx="1155.9" cy="549.8" r="2.4"/><circle cx="1145.1" cy="499.9" r="2.4"/><circle cx="1142.5" cy="545.2" r="2.4"/><circle cx="1151.1" cy="488.5" r="2.4"/><circle cx="1143.4" cy="518.0" r="2.4"/><circle cx="1143.1" cy="516.8" r="2.4"/><circle cx="1148.5" cy="499.0" r="2.4"/><circle cx="1132.0" cy="553.9" r="2.4"/><circle cx="1143.3" cy="498.5" r="2.4"/><circle cx="1156.3" cy="488.1" r="2.4"/><circle cx="1153.5" cy="518.0" r="2.4"/><circle cx="1143.5" cy="475.3" r="2.4"/><circle cx="1141.7" cy="534.7" r="2.4"/><circle cx="1139.7" cy="487.8" r="2.4"/><circle cx="1144.5" cy="566.5" r="2.4"/><circle cx="1143.1" cy="502.8" r="2.4"/><circle cx="1149.0" cy="498.9" r="2.4"/><circle cx="1150.3" cy="490.0" r="2.4"/><circle cx="1155.8" cy="504.5" r="2.4"/><circle cx="1148.1" cy="508.5" r="2.4"/><circle cx="1150.6" cy="482.8" r="2.4"/><circle cx="1141.3" cy="492.1" r="2.4"/><circle cx="1138.4" cy="484.1" r="2.4"/><circle cx="1143.4" cy="512.5" r="2.4"/><circle cx="1143.6" cy="593.0" r="2.4"/><circle cx="1150.2" cy="493.1" r="2.4"/><circle cx="1146.1" cy="546.1" r="2.4"/><circle cx="1136.9" cy="518.7" r="2.4"/><circle cx="1152.7" cy="549.4" r="2.4"/><circle cx="1153.7" cy="458.2" r="2.4"/><circle cx="1141.6" cy="549.9" r="2.4"/><circle cx="1134.8" cy="501.4" r="2.4"/><circle cx="1154.6" cy="517.3" r="2.4"/><circle cx="1144.1" cy="507.8" r="2.4"/><circle cx="1151.8" cy="532.0" r="2.4"/><circle cx="1142.8" cy="512.2" r="2.4"/><circle cx="1138.0" cy="537.2" r="2.4"/><circle cx="1148.3" cy="511.9" r="2.4"/><circle cx="1153.0" cy="498.7" r="2.4"/><circle cx="1140.1" cy="545.2" r="2.4"/><circle cx="1147.1" cy="488.1" r="2.4"/><circle cx="1151.5" cy="503.1" r="2.4"/><circle cx="1140.7" cy="565.5" r="2.4"/><circle cx="1150.5" cy="488.6" r="2.4"/><circle cx="1147.1" cy="539.8" r="2.4"/><circle cx="1150.2" cy="462.1" r="2.4"/><circle cx="1137.8" cy="484.1" r="2.4"/><circle cx="1143.7" cy="526.8" r="2.4"/><circle cx="1147.8" cy="509.4" r="2.4"/><circle cx="1137.7" cy="499.6" r="2.4"/><circle cx="1147.3" cy="489.3" r="2.4"/><circle cx="1137.5" cy="468.6" r="2.4"/><circle cx="1145.9" cy="535.2" r="2.4"/><circle cx="1148.4" cy="436.2" r="2.4"/><circle cx="1137.6" cy="432.9" r="2.4"/><circle cx="1149.1" cy="523.8" r="2.4"/><circle cx="1154.4" cy="521.7" r="2.4"/><circle cx="1145.0" cy="450.0" r="2.4"/><circle cx="1144.6" cy="485.1" r="2.4"/><circle cx="1140.8" cy="474.8" r="2.4"/><circle cx="1158.5" cy="554.7" r="2.4"/><circle cx="1143.4" cy="548.4" r="2.4"/><circle cx="1135.5" cy="515.6" r="2.4"/><circle cx="1145.7" cy="550.7" r="2.4"/><circle cx="1142.2" cy="512.7" r="2.4"/><circle cx="1142.3" cy="517.6" r="2.4"/><circle cx="1141.1" cy="451.7" r="2.4"/><circle cx="1143.4" cy="504.2" r="2.4"/><circle cx="1138.6" cy="469.7" r="2.4"/><circle cx="1148.5" cy="476.3" r="2.4"/><circle cx="1153.9" cy="517.9" r="2.4"/><circle cx="1145.0" cy="460.3" r="2.4"/><circle cx="1140.1" cy="449.4" r="2.4"/></g><g fill="#df4640" fill-opacity="0.8" stroke="#ffffff" stroke-opacity="0.8" stroke-width="0.65"><circle cx="1255.1" cy="358.9" r="2.4"/><circle cx="1264.0" cy="345.9" r="2.4"/><circle cx="1255.9" cy="357.3" r="2.4"/><circle cx="1265.6" cy="383.5" r="2.4"/><circle cx="1256.3" cy="305.9" r="2.4"/><circle cx="1251.3" cy="355.0" r="2.4"/><circle cx="1257.5" cy="375.5" r="2.4"/><circle cx="1260.1" cy="322.7" r="2.4"/><circle cx="1259.8" cy="382.2" r="2.4"/><circle cx="1260.5" cy="377.5" r="2.4"/><circle cx="1262.1" cy="398.8" r="2.4"/><circle cx="1266.9" cy="348.0" r="2.4"/><circle cx="1256.0" cy="318.0" r="2.4"/><circle cx="1261.9" cy="351.5" r="2.4"/><circle cx="1256.3" cy="409.4" r="2.4"/><circle cx="1259.7" cy="424.5" r="2.4"/><circle cx="1258.3" cy="436.0" r="2.4"/><circle cx="1257.2" cy="434.2" r="2.4"/><circle cx="1254.3" cy="383.5" r="2.4"/><circle cx="1259.8" cy="443.0" r="2.4"/><circle cx="1256.8" cy="360.0" r="2.4"/><circle cx="1255.5" cy="357.7" r="2.4"/><circle cx="1264.7" cy="370.4" r="2.4"/><circle cx="1262.8" cy="304.7" r="2.4"/><circle cx="1259.0" cy="394.1" r="2.4"/><circle cx="1263.4" cy="376.1" r="2.4"/><circle cx="1258.7" cy="414.6" r="2.4"/><circle cx="1246.5" cy="422.8" r="2.4"/><circle cx="1259.8" cy="318.3" r="2.4"/><circle cx="1259.2" cy="389.2" r="2.4"/><circle cx="1253.3" cy="371.4" r="2.4"/><circle cx="1238.6" cy="394.1" r="2.4"/><circle cx="1248.2" cy="374.6" r="2.4"/><circle cx="1257.1" cy="308.0" r="2.4"/><circle cx="1249.9" cy="376.9" r="2.4"/><circle cx="1255.5" cy="368.1" r="2.4"/><circle cx="1250.1" cy="435.4" r="2.4"/><circle cx="1268.0" cy="380.7" r="2.4"/><circle cx="1253.9" cy="408.0" r="2.4"/><circle cx="1257.0" cy="443.6" r="2.4"/><circle cx="1249.2" cy="370.9" r="2.4"/><circle cx="1265.6" cy="417.7" r="2.4"/><circle cx="1259.2" cy="330.5" r="2.4"/><circle cx="1252.7" cy="307.0" r="2.4"/><circle cx="1249.4" cy="335.1" r="2.4"/><circle cx="1258.2" cy="399.7" r="2.4"/><circle cx="1253.4" cy="312.3" r="2.4"/><circle cx="1254.8" cy="373.1" r="2.4"/><circle cx="1262.2" cy="374.8" r="2.4"/><circle cx="1261.6" cy="335.6" r="2.4"/><circle cx="1253.0" cy="422.7" r="2.4"/><circle cx="1264.2" cy="405.5" r="2.4"/><circle cx="1256.5" cy="357.1" r="2.4"/><circle cx="1256.6" cy="315.9" r="2.4"/><circle cx="1265.0" cy="402.0" r="2.4"/><circle cx="1257.9" cy="357.7" r="2.4"/><circle cx="1252.9" cy="394.0" r="2.4"/><circle cx="1260.2" cy="304.4" r="2.4"/><circle cx="1240.0" cy="356.6" r="2.4"/><circle cx="1255.0" cy="375.1" r="2.4"/><circle cx="1260.6" cy="398.3" r="2.4"/><circle cx="1242.2" cy="442.3" r="2.4"/><circle cx="1254.9" cy="343.4" r="2.4"/><circle cx="1252.0" cy="376.2" r="2.4"/><circle cx="1258.0" cy="334.3" r="2.4"/><circle cx="1254.3" cy="396.8" r="2.4"/><circle cx="1254.1" cy="409.9" r="2.4"/><circle cx="1246.0" cy="403.9" r="2.4"/><circle cx="1251.5" cy="397.9" r="2.4"/><circle cx="1264.7" cy="349.8" r="2.4"/><circle cx="1256.2" cy="446.1" r="2.4"/><circle cx="1249.4" cy="361.2" r="2.4"/><circle cx="1253.2" cy="433.6" r="2.4"/><circle cx="1268.4" cy="306.4" r="2.4"/><circle cx="1254.1" cy="426.8" r="2.4"/><circle cx="1255.6" cy="396.2" r="2.4"/><circle cx="1255.2" cy="313.1" r="2.4"/><circle cx="1261.5" cy="400.3" r="2.4"/><circle cx="1258.1" cy="432.9" r="2.4"/><circle cx="1253.8" cy="346.8" r="2.4"/><circle cx="1263.8" cy="434.6" r="2.4"/><circle cx="1270.3" cy="392.0" r="2.4"/><circle cx="1264.0" cy="405.2" r="2.4"/><circle cx="1258.4" cy="400.4" r="2.4"/><circle cx="1257.6" cy="350.7" r="2.4"/><circle cx="1259.8" cy="395.2" r="2.4"/><circle cx="1248.7" cy="448.0" r="2.4"/><circle cx="1258.5" cy="424.0" r="2.4"/><circle cx="1251.1" cy="348.8" r="2.4"/><circle cx="1246.8" cy="264.9" r="2.4"/><circle cx="1265.5" cy="354.9" r="2.4"/><circle cx="1253.7" cy="407.9" r="2.4"/><circle cx="1263.5" cy="353.0" r="2.4"/><circle cx="1257.2" cy="423.1" r="2.4"/><circle cx="1254.0" cy="328.8" r="2.4"/><circle cx="1260.7" cy="353.8" r="2.4"/><circle cx="1255.1" cy="357.3" r="2.4"/><circle cx="1266.6" cy="447.1" r="2.4"/><circle cx="1249.6" cy="374.3" r="2.4"/><circle cx="1259.2" cy="388.5" r="2.4"/><circle cx="1255.3" cy="362.7" r="2.4"/><circle cx="1262.1" cy="325.4" r="2.4"/><circle cx="1257.7" cy="369.1" r="2.4"/><circle cx="1264.1" cy="423.3" r="2.4"/><circle cx="1264.2" cy="344.3" r="2.4"/><circle cx="1261.8" cy="359.2" r="2.4"/><circle cx="1259.3" cy="367.6" r="2.4"/><circle cx="1255.2" cy="398.3" r="2.4"/><circle cx="1251.5" cy="437.9" r="2.4"/><circle cx="1265.7" cy="373.5" r="2.4"/><circle cx="1249.5" cy="299.0" r="2.4"/><circle cx="1261.3" cy="392.1" r="2.4"/><circle cx="1251.9" cy="314.3" r="2.4"/><circle cx="1243.0" cy="419.6" r="2.4"/><circle cx="1262.5" cy="311.7" r="2.4"/><circle cx="1255.6" cy="372.9" r="2.4"/><circle cx="1262.5" cy="312.6" r="2.4"/><circle cx="1261.8" cy="326.9" r="2.4"/><circle cx="1250.2" cy="352.5" r="2.4"/><circle cx="1267.6" cy="431.8" r="2.4"/><circle cx="1257.8" cy="365.4" r="2.4"/><circle cx="1251.1" cy="425.9" r="2.4"/><circle cx="1261.7" cy="426.7" r="2.4"/><circle cx="1260.5" cy="445.1" r="2.4"/><circle cx="1250.5" cy="353.7" r="2.4"/><circle cx="1245.4" cy="444.6" r="2.4"/><circle cx="1262.2" cy="353.1" r="2.4"/><circle cx="1260.3" cy="609.4" r="2.4"/><circle cx="1259.7" cy="324.2" r="2.4"/><circle cx="1247.4" cy="307.4" r="2.4"/><circle cx="1260.1" cy="404.8" r="2.4"/><circle cx="1262.4" cy="321.4" r="2.4"/><circle cx="1265.3" cy="355.1" r="2.4"/><circle cx="1260.7" cy="381.5" r="2.4"/><circle cx="1262.8" cy="348.0" r="2.4"/><circle cx="1259.9" cy="441.9" r="2.4"/><circle cx="1254.4" cy="376.7" r="2.4"/><circle cx="1261.1" cy="352.0" r="2.4"/><circle cx="1251.6" cy="378.0" r="2.4"/><circle cx="1255.7" cy="412.9" r="2.4"/><circle cx="1259.7" cy="340.4" r="2.4"/><circle cx="1263.7" cy="372.8" r="2.4"/><circle cx="1264.9" cy="404.9" r="2.4"/><circle cx="1257.6" cy="318.4" r="2.4"/><circle cx="1254.9" cy="340.4" r="2.4"/><circle cx="1264.5" cy="387.3" r="2.4"/><circle cx="1247.7" cy="394.9" r="2.4"/><circle cx="1264.1" cy="356.1" r="2.4"/><circle cx="1262.3" cy="370.3" r="2.4"/><circle cx="1262.2" cy="380.1" r="2.4"/><circle cx="1257.6" cy="397.2" r="2.4"/><circle cx="1250.0" cy="281.1" r="2.4"/><circle cx="1263.9" cy="384.1" r="2.4"/><circle cx="1253.9" cy="419.2" r="2.4"/><circle cx="1257.2" cy="323.3" r="2.4"/><circle cx="1255.9" cy="338.8" r="2.4"/><circle cx="1261.8" cy="386.4" r="2.4"/><circle cx="1256.3" cy="406.3" r="2.4"/><circle cx="1265.0" cy="370.1" r="2.4"/><circle cx="1253.3" cy="338.2" r="2.4"/><circle cx="1258.2" cy="311.6" r="2.4"/><circle cx="1257.0" cy="471.6" r="2.4"/><circle cx="1258.2" cy="412.3" r="2.4"/><circle cx="1249.1" cy="401.0" r="2.4"/><circle cx="1254.4" cy="390.6" r="2.4"/><circle cx="1255.5" cy="404.9" r="2.4"/><circle cx="1253.7" cy="386.5" r="2.4"/><circle cx="1258.1" cy="405.9" r="2.4"/><circle cx="1252.5" cy="417.8" r="2.4"/><circle cx="1267.3" cy="383.0" r="2.4"/><circle cx="1249.7" cy="338.2" r="2.4"/><circle cx="1264.8" cy="433.0" r="2.4"/><circle cx="1259.0" cy="293.6" r="2.4"/><circle cx="1258.8" cy="369.6" r="2.4"/><circle cx="1257.6" cy="284.7" r="2.4"/><circle cx="1259.0" cy="344.3" r="2.4"/><circle cx="1255.8" cy="319.2" r="2.4"/><circle cx="1263.5" cy="432.1" r="2.4"/><circle cx="1261.7" cy="355.8" r="2.4"/><circle cx="1257.4" cy="349.5" r="2.4"/><circle cx="1260.0" cy="417.1" r="2.4"/><circle cx="1259.5" cy="338.2" r="2.4"/><circle cx="1252.8" cy="378.5" r="2.4"/><circle cx="1270.1" cy="397.9" r="2.4"/><circle cx="1251.0" cy="346.2" r="2.4"/><circle cx="1252.5" cy="358.3" r="2.4"/><circle cx="1253.7" cy="406.0" r="2.4"/><circle cx="1253.0" cy="313.8" r="2.4"/><circle cx="1257.0" cy="380.9" r="2.4"/><circle cx="1255.3" cy="332.2" r="2.4"/><circle cx="1257.0" cy="366.1" r="2.4"/><circle cx="1261.6" cy="417.7" r="2.4"/><circle cx="1254.1" cy="368.8" r="2.4"/><circle cx="1255.0" cy="389.0" r="2.4"/><circle cx="1267.8" cy="397.6" r="2.4"/><circle cx="1253.0" cy="261.5" r="2.4"/><circle cx="1255.2" cy="413.5" r="2.4"/><circle cx="1249.7" cy="377.4" r="2.4"/><circle cx="1261.1" cy="337.7" r="2.4"/><circle cx="1262.2" cy="432.7" r="2.4"/><circle cx="1268.4" cy="299.9" r="2.4"/><circle cx="1258.3" cy="363.1" r="2.4"/><circle cx="1258.9" cy="385.0" r="2.4"/><circle cx="1255.0" cy="442.7" r="2.4"/><circle cx="1258.4" cy="376.4" r="2.4"/><circle cx="1251.8" cy="394.0" r="2.4"/><circle cx="1256.9" cy="332.5" r="2.4"/><circle cx="1263.2" cy="354.8" r="2.4"/><circle cx="1259.6" cy="422.0" r="2.4"/><circle cx="1256.8" cy="421.2" r="2.4"/><circle cx="1265.2" cy="316.8" r="2.4"/><circle cx="1262.2" cy="353.4" r="2.4"/><circle cx="1266.1" cy="357.5" r="2.4"/><circle cx="1260.6" cy="337.9" r="2.4"/><circle cx="1262.7" cy="393.3" r="2.4"/><circle cx="1249.3" cy="396.3" r="2.4"/><circle cx="1260.4" cy="327.2" r="2.4"/><circle cx="1259.2" cy="382.6" r="2.4"/><circle cx="1258.2" cy="345.6" r="2.4"/><circle cx="1249.2" cy="407.6" r="2.4"/><circle cx="1258.5" cy="383.0" r="2.4"/><circle cx="1257.1" cy="425.7" r="2.4"/><circle cx="1258.1" cy="303.5" r="2.4"/><circle cx="1258.9" cy="406.3" r="2.4"/><circle cx="1266.3" cy="356.0" r="2.4"/><circle cx="1271.2" cy="344.0" r="2.4"/><circle cx="1256.7" cy="349.3" r="2.4"/><circle cx="1257.9" cy="329.6" r="2.4"/><circle cx="1258.7" cy="371.2" r="2.4"/><circle cx="1244.0" cy="405.4" r="2.4"/><circle cx="1259.9" cy="448.1" r="2.4"/><circle cx="1265.5" cy="333.9" r="2.4"/><circle cx="1269.8" cy="391.7" r="2.4"/><circle cx="1256.6" cy="323.7" r="2.4"/><circle cx="1254.7" cy="328.7" r="2.4"/><circle cx="1265.3" cy="439.4" r="2.4"/><circle cx="1266.6" cy="420.5" r="2.4"/><circle cx="1254.3" cy="423.4" r="2.4"/><circle cx="1258.4" cy="410.5" r="2.4"/><circle cx="1270.0" cy="440.1" r="2.4"/><circle cx="1258.1" cy="408.6" r="2.4"/><circle cx="1260.7" cy="338.2" r="2.4"/><circle cx="1266.4" cy="405.7" r="2.4"/><circle cx="1266.3" cy="308.2" r="2.4"/><circle cx="1250.1" cy="382.5" r="2.4"/><circle cx="1258.1" cy="327.2" r="2.4"/><circle cx="1265.6" cy="451.9" r="2.4"/><circle cx="1255.1" cy="396.2" r="2.4"/><circle cx="1249.6" cy="370.5" r="2.4"/><circle cx="1262.7" cy="332.9" r="2.4"/><circle cx="1254.6" cy="394.8" r="2.4"/><circle cx="1260.7" cy="382.6" r="2.4"/><circle cx="1271.1" cy="414.8" r="2.4"/><circle cx="1258.6" cy="309.3" r="2.4"/><circle cx="1263.2" cy="439.4" r="2.4"/><circle cx="1260.9" cy="401.7" r="2.4"/><circle cx="1247.3" cy="408.3" r="2.4"/><circle cx="1264.1" cy="580.8" r="2.4"/><circle cx="1250.9" cy="355.9" r="2.4"/><circle cx="1275.6" cy="433.0" r="2.4"/><circle cx="1255.9" cy="407.6" r="2.4"/><circle cx="1249.0" cy="394.7" r="2.4"/><circle cx="1262.5" cy="366.9" r="2.4"/><circle cx="1252.9" cy="304.0" r="2.4"/><circle cx="1256.1" cy="387.5" r="2.4"/><circle cx="1256.6" cy="353.4" r="2.4"/><circle cx="1258.9" cy="409.6" r="2.4"/><circle cx="1254.5" cy="302.5" r="2.4"/><circle cx="1263.9" cy="307.5" r="2.4"/><circle cx="1257.7" cy="355.3" r="2.4"/><circle cx="1256.0" cy="361.4" r="2.4"/><circle cx="1254.7" cy="353.0" r="2.4"/><circle cx="1261.4" cy="327.3" r="2.4"/><circle cx="1259.4" cy="403.7" r="2.4"/><circle cx="1257.1" cy="408.8" r="2.4"/><circle cx="1254.6" cy="316.1" r="2.4"/><circle cx="1255.3" cy="362.8" r="2.4"/><circle cx="1248.3" cy="348.6" r="2.4"/><circle cx="1254.5" cy="395.8" r="2.4"/><circle cx="1250.3" cy="366.1" r="2.4"/><circle cx="1255.1" cy="424.0" r="2.4"/><circle cx="1254.9" cy="420.9" r="2.4"/><circle cx="1258.0" cy="370.9" r="2.4"/><circle cx="1257.2" cy="424.0" r="2.4"/><circle cx="1254.8" cy="335.5" r="2.4"/><circle cx="1260.1" cy="361.3" r="2.4"/><circle cx="1262.1" cy="356.2" r="2.4"/><circle cx="1255.2" cy="294.1" r="2.4"/><circle cx="1259.7" cy="365.1" r="2.4"/><circle cx="1249.5" cy="234.7" r="2.4"/><circle cx="1249.1" cy="435.5" r="2.4"/><circle cx="1257.8" cy="403.2" r="2.4"/><circle cx="1276.4" cy="400.8" r="2.4"/><circle cx="1263.0" cy="348.5" r="2.4"/><circle cx="1250.2" cy="440.2" r="2.4"/><circle cx="1255.8" cy="311.6" r="2.4"/><circle cx="1259.8" cy="401.1" r="2.4"/><circle cx="1261.1" cy="373.7" r="2.4"/><circle cx="1261.0" cy="380.6" r="2.4"/><circle cx="1262.8" cy="367.3" r="2.4"/><circle cx="1264.2" cy="353.2" r="2.4"/><circle cx="1252.1" cy="370.2" r="2.4"/><circle cx="1264.4" cy="347.9" r="2.4"/><circle cx="1252.3" cy="399.3" r="2.4"/><circle cx="1253.9" cy="404.7" r="2.4"/><circle cx="1257.2" cy="362.9" r="2.4"/><circle cx="1267.3" cy="361.2" r="2.4"/><circle cx="1250.5" cy="348.2" r="2.4"/><circle cx="1251.3" cy="347.0" r="2.4"/><circle cx="1251.3" cy="374.5" r="2.4"/><circle cx="1269.4" cy="356.3" r="2.4"/><circle cx="1258.3" cy="392.8" r="2.4"/><circle cx="1267.0" cy="391.6" r="2.4"/><circle cx="1259.8" cy="324.5" r="2.4"/><circle cx="1262.6" cy="424.7" r="2.4"/><circle cx="1249.7" cy="447.1" r="2.4"/><circle cx="1256.8" cy="362.2" r="2.4"/><circle cx="1257.7" cy="398.0" r="2.4"/><circle cx="1259.1" cy="318.0" r="2.4"/><circle cx="1256.1" cy="407.4" r="2.4"/><circle cx="1265.1" cy="353.3" r="2.4"/><circle cx="1237.6" cy="357.6" r="2.4"/><circle cx="1257.6" cy="364.5" r="2.4"/><circle cx="1255.9" cy="316.8" r="2.4"/><circle cx="1256.0" cy="367.6" r="2.4"/><circle cx="1257.2" cy="235.9" r="2.4"/><circle cx="1249.0" cy="414.6" r="2.4"/><circle cx="1262.3" cy="408.8" r="2.4"/><circle cx="1250.9" cy="350.3" r="2.4"/><circle cx="1261.8" cy="302.8" r="2.4"/><circle cx="1254.0" cy="278.2" r="2.4"/><circle cx="1259.1" cy="342.8" r="2.4"/><circle cx="1258.3" cy="357.7" r="2.4"/><circle cx="1261.7" cy="616.2" r="2.4"/><circle cx="1266.2" cy="294.5" r="2.4"/><circle cx="1258.1" cy="377.1" r="2.4"/><circle cx="1263.7" cy="324.0" r="2.4"/><circle cx="1257.2" cy="421.3" r="2.4"/><circle cx="1256.5" cy="389.4" r="2.4"/><circle cx="1264.8" cy="400.3" r="2.4"/><circle cx="1259.0" cy="403.8" r="2.4"/><circle cx="1259.0" cy="354.9" r="2.4"/><circle cx="1264.3" cy="438.4" r="2.4"/><circle cx="1252.1" cy="345.3" r="2.4"/><circle cx="1266.1" cy="361.4" r="2.4"/><circle cx="1256.4" cy="381.6" r="2.4"/><circle cx="1262.4" cy="369.7" r="2.4"/><circle cx="1254.0" cy="350.6" r="2.4"/><circle cx="1247.7" cy="395.5" r="2.4"/><circle cx="1258.3" cy="329.8" r="2.4"/><circle cx="1245.1" cy="350.8" r="2.4"/><circle cx="1252.3" cy="378.0" r="2.4"/><circle cx="1253.5" cy="330.0" r="2.4"/><circle cx="1250.6" cy="403.2" r="2.4"/><circle cx="1245.9" cy="379.5" r="2.4"/><circle cx="1248.5" cy="395.2" r="2.4"/><circle cx="1264.1" cy="306.1" r="2.4"/><circle cx="1245.0" cy="444.2" r="2.4"/><circle cx="1251.8" cy="373.7" r="2.4"/><circle cx="1259.2" cy="381.5" r="2.4"/><circle cx="1258.8" cy="375.2" r="2.4"/><circle cx="1244.1" cy="360.8" r="2.4"/><circle cx="1261.7" cy="349.3" r="2.4"/><circle cx="1262.4" cy="364.4" r="2.4"/><circle cx="1258.6" cy="311.2" r="2.4"/><circle cx="1252.7" cy="440.2" r="2.4"/><circle cx="1251.3" cy="392.2" r="2.4"/><circle cx="1252.4" cy="306.9" r="2.4"/><circle cx="1257.5" cy="401.5" r="2.4"/><circle cx="1271.0" cy="429.7" r="2.4"/><circle cx="1254.8" cy="400.6" r="2.4"/><circle cx="1258.5" cy="340.9" r="2.4"/><circle cx="1254.3" cy="449.4" r="2.4"/><circle cx="1268.1" cy="424.3" r="2.4"/><circle cx="1256.2" cy="420.1" r="2.4"/><circle cx="1249.1" cy="362.1" r="2.4"/><circle cx="1254.0" cy="299.9" r="2.4"/><circle cx="1257.3" cy="408.7" r="2.4"/><circle cx="1252.7" cy="631.1" r="2.4"/><circle cx="1250.9" cy="393.7" r="2.4"/><circle cx="1252.7" cy="413.6" r="2.4"/><circle cx="1265.1" cy="447.3" r="2.4"/><circle cx="1260.8" cy="392.7" r="2.4"/><circle cx="1258.6" cy="348.1" r="2.4"/><circle cx="1261.3" cy="396.8" r="2.4"/><circle cx="1260.8" cy="318.8" r="2.4"/><circle cx="1251.0" cy="467.0" r="2.4"/><circle cx="1254.7" cy="345.2" r="2.4"/><circle cx="1262.1" cy="365.7" r="2.4"/><circle cx="1254.6" cy="328.3" r="2.4"/><circle cx="1253.9" cy="407.0" r="2.4"/><circle cx="1244.4" cy="422.2" r="2.4"/><circle cx="1265.2" cy="417.7" r="2.4"/><circle cx="1253.2" cy="308.8" r="2.4"/><circle cx="1270.2" cy="372.8" r="2.4"/><circle cx="1265.8" cy="355.9" r="2.4"/><circle cx="1251.2" cy="352.8" r="2.4"/><circle cx="1260.8" cy="373.4" r="2.4"/><circle cx="1245.7" cy="395.8" r="2.4"/><circle cx="1259.8" cy="372.1" r="2.4"/><circle cx="1251.2" cy="318.7" r="2.4"/><circle cx="1266.2" cy="380.9" r="2.4"/><circle cx="1251.6" cy="243.1" r="2.4"/><circle cx="1261.8" cy="378.7" r="2.4"/><circle cx="1263.9" cy="391.6" r="2.4"/><circle cx="1250.2" cy="361.4" r="2.4"/><circle cx="1258.1" cy="423.0" r="2.4"/><circle cx="1251.3" cy="278.8" r="2.4"/><circle cx="1258.0" cy="379.9" r="2.4"/><circle cx="1263.8" cy="362.5" r="2.4"/><circle cx="1252.1" cy="385.2" r="2.4"/><circle cx="1252.3" cy="448.5" r="2.4"/><circle cx="1250.8" cy="410.0" r="2.4"/><circle cx="1252.9" cy="377.2" r="2.4"/><circle cx="1263.5" cy="352.6" r="2.4"/><circle cx="1255.5" cy="442.2" r="2.4"/><circle cx="1256.5" cy="408.0" r="2.4"/><circle cx="1259.5" cy="361.5" r="2.4"/><circle cx="1251.6" cy="331.7" r="2.4"/><circle cx="1267.1" cy="421.9" r="2.4"/><circle cx="1259.9" cy="368.7" r="2.4"/><circle cx="1263.0" cy="342.1" r="2.4"/><circle cx="1257.7" cy="401.0" r="2.4"/><circle cx="1259.1" cy="311.9" r="2.4"/><circle cx="1263.8" cy="380.7" r="2.4"/><circle cx="1253.1" cy="338.9" r="2.4"/><circle cx="1262.8" cy="407.3" r="2.4"/><circle cx="1259.9" cy="334.4" r="2.4"/><circle cx="1251.0" cy="375.6" r="2.4"/><circle cx="1250.9" cy="386.3" r="2.4"/><circle cx="1265.3" cy="344.0" r="2.4"/><circle cx="1245.0" cy="386.6" r="2.4"/><circle cx="1251.9" cy="303.0" r="2.4"/><circle cx="1272.3" cy="316.8" r="2.4"/><circle cx="1261.0" cy="347.5" r="2.4"/><circle cx="1255.3" cy="404.5" r="2.4"/><circle cx="1250.2" cy="343.2" r="2.4"/><circle cx="1269.1" cy="348.1" r="2.4"/><circle cx="1262.1" cy="311.8" r="2.4"/><circle cx="1249.1" cy="628.0" r="2.4"/><circle cx="1253.6" cy="283.9" r="2.4"/><circle cx="1264.9" cy="408.1" r="2.4"/><circle cx="1256.6" cy="449.3" r="2.4"/><circle cx="1256.7" cy="352.7" r="2.4"/><circle cx="1266.0" cy="442.0" r="2.4"/><circle cx="1256.1" cy="347.7" r="2.4"/><circle cx="1262.5" cy="304.5" r="2.4"/><circle cx="1261.9" cy="377.2" r="2.4"/><circle cx="1265.3" cy="384.7" r="2.4"/><circle cx="1256.3" cy="361.9" r="2.4"/><circle cx="1258.6" cy="374.8" r="2.4"/><circle cx="1251.3" cy="316.7" r="2.4"/><circle cx="1265.3" cy="283.8" r="2.4"/><circle cx="1262.4" cy="426.8" r="2.4"/><circle cx="1252.5" cy="340.4" r="2.4"/><circle cx="1260.2" cy="393.0" r="2.4"/><circle cx="1258.5" cy="346.2" r="2.4"/><circle cx="1243.3" cy="397.0" r="2.4"/><circle cx="1251.9" cy="317.6" r="2.4"/><circle cx="1261.9" cy="393.3" r="2.4"/><circle cx="1262.7" cy="313.8" r="2.4"/><circle cx="1254.4" cy="350.7" r="2.4"/><circle cx="1250.7" cy="358.0" r="2.4"/><circle cx="1259.4" cy="389.3" r="2.4"/><circle cx="1258.8" cy="390.1" r="2.4"/><circle cx="1260.8" cy="384.0" r="2.4"/><circle cx="1249.1" cy="410.0" r="2.4"/><circle cx="1249.4" cy="351.2" r="2.4"/><circle cx="1249.5" cy="341.8" r="2.4"/><circle cx="1250.7" cy="365.9" r="2.4"/><circle cx="1256.9" cy="385.0" r="2.4"/><circle cx="1264.8" cy="382.1" r="2.4"/><circle cx="1257.4" cy="378.1" r="2.4"/><circle cx="1259.3" cy="398.6" r="2.4"/><circle cx="1261.0" cy="377.1" r="2.4"/><circle cx="1256.9" cy="315.6" r="2.4"/><circle cx="1256.3" cy="352.6" r="2.4"/><circle cx="1260.6" cy="267.6" r="2.4"/><circle cx="1261.6" cy="423.3" r="2.4"/><circle cx="1252.0" cy="408.0" r="2.4"/><circle cx="1252.5" cy="419.4" r="2.4"/><circle cx="1251.6" cy="332.1" r="2.4"/><circle cx="1254.1" cy="440.4" r="2.4"/><circle cx="1256.5" cy="323.3" r="2.4"/><circle cx="1259.3" cy="401.1" r="2.4"/><circle cx="1259.5" cy="376.2" r="2.4"/><circle cx="1252.9" cy="442.1" r="2.4"/><circle cx="1255.3" cy="380.8" r="2.4"/><circle cx="1255.2" cy="330.3" r="2.4"/><circle cx="1257.4" cy="374.6" r="2.4"/><circle cx="1257.0" cy="348.7" r="2.4"/><circle cx="1253.6" cy="288.3" r="2.4"/><circle cx="1260.7" cy="382.1" r="2.4"/><circle cx="1254.7" cy="394.7" r="2.4"/><circle cx="1257.5" cy="401.2" r="2.4"/><circle cx="1263.4" cy="341.3" r="2.4"/><circle cx="1250.5" cy="456.0" r="2.4"/><circle cx="1262.3" cy="384.7" r="2.4"/><circle cx="1252.8" cy="390.4" r="2.4"/><circle cx="1258.9" cy="304.8" r="2.4"/><circle cx="1258.7" cy="429.4" r="2.4"/><circle cx="1254.0" cy="462.0" r="2.4"/><circle cx="1256.3" cy="364.7" r="2.4"/><circle cx="1249.2" cy="398.1" r="2.4"/><circle cx="1247.9" cy="411.0" r="2.4"/><circle cx="1265.5" cy="365.1" r="2.4"/><circle cx="1262.1" cy="402.5" r="2.4"/><circle cx="1268.6" cy="361.4" r="2.4"/><circle cx="1258.9" cy="381.2" r="2.4"/><circle cx="1258.3" cy="379.8" r="2.4"/><circle cx="1257.8" cy="439.2" r="2.4"/><circle cx="1262.4" cy="372.7" r="2.4"/><circle cx="1254.5" cy="398.5" r="2.4"/><circle cx="1261.6" cy="313.2" r="2.4"/><circle cx="1258.5" cy="320.8" r="2.4"/><circle cx="1259.9" cy="315.4" r="2.4"/><circle cx="1255.9" cy="363.2" r="2.4"/><circle cx="1255.9" cy="324.1" r="2.4"/><circle cx="1251.6" cy="397.2" r="2.4"/><circle cx="1261.2" cy="375.6" r="2.4"/><circle cx="1262.9" cy="412.2" r="2.4"/><circle cx="1256.9" cy="400.1" r="2.4"/><circle cx="1246.9" cy="341.1" r="2.4"/><circle cx="1252.0" cy="434.3" r="2.4"/><circle cx="1262.5" cy="637.7" r="2.4"/><circle cx="1253.3" cy="359.7" r="2.4"/><circle cx="1264.8" cy="241.9" r="2.4"/><circle cx="1247.1" cy="391.6" r="2.4"/><circle cx="1245.3" cy="408.9" r="2.4"/><circle cx="1258.0" cy="317.2" r="2.4"/><circle cx="1246.8" cy="361.3" r="2.4"/><circle cx="1259.5" cy="353.7" r="2.4"/><circle cx="1254.9" cy="291.0" r="2.4"/><circle cx="1260.7" cy="324.6" r="2.4"/><circle cx="1249.1" cy="305.2" r="2.4"/><circle cx="1259.4" cy="288.7" r="2.4"/><circle cx="1250.8" cy="413.8" r="2.4"/><circle cx="1255.8" cy="367.8" r="2.4"/><circle cx="1260.1" cy="339.6" r="2.4"/><circle cx="1249.7" cy="418.5" r="2.4"/><circle cx="1255.1" cy="347.3" r="2.4"/><circle cx="1254.1" cy="377.6" r="2.4"/><circle cx="1259.6" cy="441.4" r="2.4"/><circle cx="1259.7" cy="438.6" r="2.4"/><circle cx="1261.1" cy="333.8" r="2.4"/><circle cx="1249.4" cy="413.1" r="2.4"/><circle cx="1249.1" cy="381.2" r="2.4"/><circle cx="1262.6" cy="405.7" r="2.4"/><circle cx="1250.4" cy="367.3" r="2.4"/><circle cx="1265.3" cy="325.0" r="2.4"/><circle cx="1248.8" cy="361.4" r="2.4"/><circle cx="1251.2" cy="341.9" r="2.4"/><circle cx="1258.2" cy="364.5" r="2.4"/><circle cx="1255.9" cy="328.7" r="2.4"/><circle cx="1257.3" cy="363.5" r="2.4"/><circle cx="1268.1" cy="408.2" r="2.4"/><circle cx="1262.7" cy="343.7" r="2.4"/><circle cx="1263.4" cy="353.6" r="2.4"/><circle cx="1247.6" cy="369.7" r="2.4"/><circle cx="1255.2" cy="271.0" r="2.4"/><circle cx="1260.0" cy="388.4" r="2.4"/><circle cx="1254.3" cy="372.0" r="2.4"/><circle cx="1253.4" cy="398.0" r="2.4"/><circle cx="1267.8" cy="395.7" r="2.4"/><circle cx="1261.7" cy="310.4" r="2.4"/><circle cx="1262.5" cy="364.4" r="2.4"/><circle cx="1265.7" cy="441.3" r="2.4"/><circle cx="1256.7" cy="355.6" r="2.4"/><circle cx="1264.4" cy="361.3" r="2.4"/><circle cx="1267.8" cy="431.1" r="2.4"/><circle cx="1259.5" cy="427.7" r="2.4"/><circle cx="1269.1" cy="380.4" r="2.4"/><circle cx="1261.6" cy="443.7" r="2.4"/><circle cx="1260.6" cy="411.5" r="2.4"/><circle cx="1245.6" cy="360.1" r="2.4"/><circle cx="1258.6" cy="376.9" r="2.4"/><circle cx="1253.8" cy="392.4" r="2.4"/><circle cx="1246.4" cy="363.0" r="2.4"/><circle cx="1249.7" cy="304.8" r="2.4"/><circle cx="1258.4" cy="434.9" r="2.4"/><circle cx="1257.6" cy="273.9" r="2.4"/><circle cx="1257.2" cy="319.0" r="2.4"/><circle cx="1265.6" cy="365.8" r="2.4"/><circle cx="1261.5" cy="394.8" r="2.4"/><circle cx="1244.2" cy="395.4" r="2.4"/><circle cx="1258.0" cy="418.2" r="2.4"/><circle cx="1258.8" cy="315.8" r="2.4"/><circle cx="1254.9" cy="415.4" r="2.4"/><circle cx="1242.8" cy="379.3" r="2.4"/><circle cx="1263.4" cy="389.2" r="2.4"/><circle cx="1256.2" cy="445.2" r="2.4"/><circle cx="1257.6" cy="382.4" r="2.4"/><circle cx="1246.1" cy="445.9" r="2.4"/><circle cx="1270.8" cy="445.8" r="2.4"/><circle cx="1266.8" cy="415.2" r="2.4"/><circle cx="1259.6" cy="345.0" r="2.4"/><circle cx="1266.9" cy="404.9" r="2.4"/><circle cx="1260.8" cy="405.4" r="2.4"/><circle cx="1254.0" cy="339.4" r="2.4"/><circle cx="1252.5" cy="381.4" r="2.4"/><circle cx="1257.5" cy="397.9" r="2.4"/><circle cx="1265.4" cy="376.1" r="2.4"/><circle cx="1253.4" cy="444.1" r="2.4"/><circle cx="1263.3" cy="365.8" r="2.4"/><circle cx="1251.1" cy="349.6" r="2.4"/><circle cx="1254.3" cy="314.4" r="2.4"/><circle cx="1259.0" cy="299.9" r="2.4"/><circle cx="1251.1" cy="365.8" r="2.4"/><circle cx="1248.1" cy="399.7" r="2.4"/><circle cx="1259.3" cy="346.6" r="2.4"/><circle cx="1249.3" cy="319.0" r="2.4"/><circle cx="1262.8" cy="407.7" r="2.4"/><circle cx="1267.6" cy="441.2" r="2.4"/><circle cx="1257.4" cy="256.1" r="2.4"/><circle cx="1271.8" cy="369.8" r="2.4"/><circle cx="1260.7" cy="320.0" r="2.4"/><circle cx="1256.2" cy="433.6" r="2.4"/><circle cx="1253.4" cy="389.4" r="2.4"/><circle cx="1260.2" cy="449.1" r="2.4"/><circle cx="1251.6" cy="432.2" r="2.4"/><circle cx="1261.4" cy="353.4" r="2.4"/><circle cx="1254.3" cy="367.5" r="2.4"/><circle cx="1254.5" cy="371.2" r="2.4"/><circle cx="1259.2" cy="373.8" r="2.4"/><circle cx="1248.5" cy="371.3" r="2.4"/><circle cx="1258.4" cy="388.8" r="2.4"/><circle cx="1257.6" cy="326.4" r="2.4"/><circle cx="1263.5" cy="298.1" r="2.4"/></g><rect x="97" y="3" width="1249.5" height="846.8" fill="none" stroke="#c6c6c6" stroke-width="1.4"/><text x="84.8" y="95.9" font-family="Liberation Sans, sans-serif" font-size="30.3" fill="#111" text-anchor="end" textLength="39.6" lengthAdjust="spacingAndGlyphs">0.7</text><text x="84.8" y="205.2" font-family="Liberation Sans, sans-serif" font-size="30.3" fill="#111" text-anchor="end" textLength="39.6" lengthAdjust="spacingAndGlyphs">0.6</text><text x="84.8" y="314.6" font-family="Liberation Sans, sans-serif" font-size="30.3" fill="#111" text-anchor="end" textLength="39.6" lengthAdjust="spacingAndGlyphs">0.5</text><text x="84.8" y="423.9" font-family="Liberation Sans, sans-serif" font-size="30.3" fill="#111" text-anchor="end" textLength="39.6" lengthAdjust="spacingAndGlyphs">0.4</text><text x="84.8" y="533.3" font-family="Liberation Sans, sans-serif" font-size="30.3" fill="#111" text-anchor="end" textLength="39.6" lengthAdjust="spacingAndGlyphs">0.3</text><text x="84.8" y="642.7" font-family="Liberation Sans, sans-serif" font-size="30.3" fill="#111" text-anchor="end" textLength="39.6" lengthAdjust="spacingAndGlyphs">0.2</text><text x="84.8" y="752.0" font-family="Liberation Sans, sans-serif" font-size="30.3" fill="#111" text-anchor="end" textLength="39.6" lengthAdjust="spacingAndGlyphs">0.1</text><text x="241.5" y="881.1" font-family="Liberation Sans, sans-serif" font-size="29.8" fill="#111" text-anchor="middle" textLength="184.75" lengthAdjust="spacingAndGlyphs">National-Level</text><text x="561.7" y="881.1" font-family="Liberation Sans, sans-serif" font-size="29.8" fill="#111" text-anchor="middle" textLength="201.3" lengthAdjust="spacingAndGlyphs">Municipal-Level</text><text x="881.9" y="881.1" font-family="Liberation Sans, sans-serif" font-size="29.8" fill="#111" text-anchor="middle" textLength="248.3" lengthAdjust="spacingAndGlyphs">District-wide survey</text><text x="1202.1" y="881.1" font-family="Liberation Sans, sans-serif" font-size="29.8" fill="#111" text-anchor="middle" textLength="166.5" lengthAdjust="spacingAndGlyphs">District-Level</text><text x="0" y="0" font-family="Liberation Sans, sans-serif" font-size="29.1" fill="#111" text-anchor="middle" transform="translate(23.2,426.5) rotate(-90)">Climate Risk</text><circle cx="1146" cy="39.8" r="6.9" fill="#56a0dc" stroke="#4a94d6" stroke-width="0.8"/><circle cx="1146" cy="80.8" r="6.9" fill="#e14b3f" stroke="#df3c2d" stroke-width="0.8"/><text x="1197.9" y="49.6" font-family="Liberation Sans, sans-serif" font-size="29.4" fill="#111" textLength="122.4" lengthAdjust="spacingAndGlyphs">SSP2-4.5</text><text x="1197.9" y="90.4" font-family="Liberation Sans, sans-serif" font-size="29.4" fill="#111" textLength="122.4" lengthAdjust="spacingAndGlyphs">SSP5-8.5</text></svg>
</body></html>
